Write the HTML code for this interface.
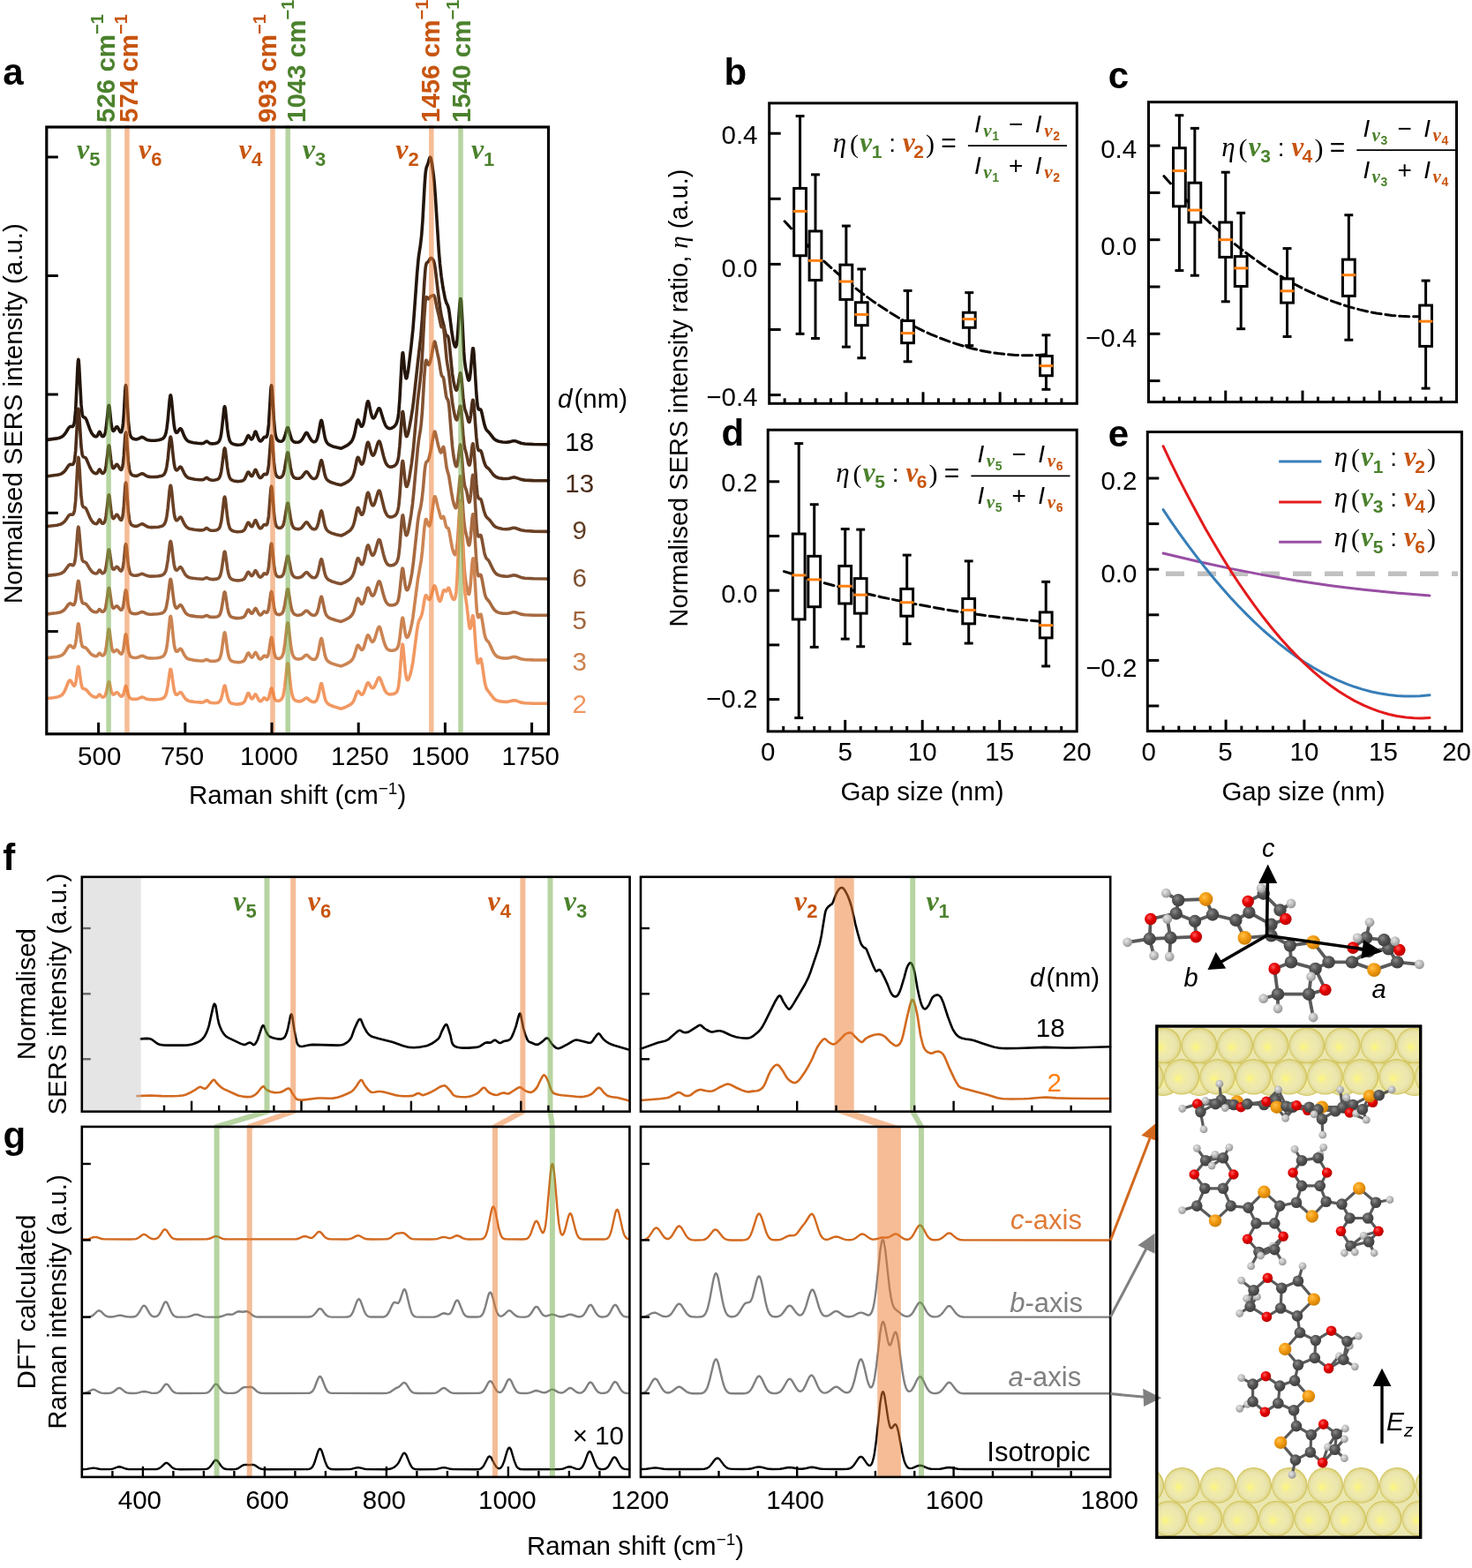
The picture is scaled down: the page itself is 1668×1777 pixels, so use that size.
<!DOCTYPE html>
<html><head><meta charset="utf-8"><title>Figure</title>
<style>html,body{margin:0;padding:0;background:#fff;} svg{display:block;}</style>
</head><body>
<svg width="1668" height="1777" viewBox="0 0 1668 1777">
<rect x="0" y="0" width="1668" height="1777" fill="#fff"/>
<path d="M53.5,498.4L64.5,496.9L67.2,496.2L69.6,495.3L71.5,494L73.1,492.3L74.7,490.1L77.4,485.5L78.6,484L79.8,483.4L82.1,483.5L82.9,482.9L83.3,482.2L84.1,479.4L84.5,477.1L85.7,464.4L88,415.3L88.4,409.5L88.8,407.2L89.2,408.8L89.6,413.8L92,458.4L93.1,469L93.5,470.7L94.3,472.4L96.7,473.7L97.9,475.6L101.8,486.4L103.7,490.6L105.7,493.3L106.9,494.2L108.1,494.8L109.2,494.8L110,494.3L110.8,493.1L112.4,489.6L112.8,489.3L113.2,489.6L113.6,490.3L115.1,493.7L115.9,494.5L116.7,494.6L117.5,494.2L118.7,492.2L119.5,489.5L120.2,485.1L122.6,462.8L123,460.3L123.4,459.4L123.8,460.2L124.2,462.5L125.7,477.4L126.5,483.2L126.9,485.2L127.7,487.7L128.1,488.2L128.5,488.4L128.9,488.2L129.7,487.3L131.6,484L132.4,483.6L132.8,483.7L133.6,484.7L135.6,488.5L136.3,489.5L137.1,489.8L137.5,489.6L137.9,488.9L138.7,486L139.5,480L140.3,470.1L141.8,442.9L142.2,438.3L142.6,436.7L143,438.5L143.4,443.2L145.4,477L146.6,488.4L147.3,492.3L148.5,495.1L149.3,496.1L150.5,497L152.8,497.8L154.4,497.9L156,497.6L159.9,495.6L161.1,495.4L162.3,495.8L165.4,497.8L167.8,498.8L170.9,499.2L175.6,499.2L179.6,498.7L182.3,498.1L184.3,497.2L185.8,495.9L186.6,494.6L187.4,492.8L188.2,489.9L189,485.5L190.2,475.8L192.1,454.2L192.9,448.6L193.3,447.8L193.7,448.5L194.5,454.1L196.1,471.2L197.2,481.6L198,486.2L198.8,488.9L199.6,490.2L200.4,490.3L201.2,489.7L203.1,486.8L203.9,485.9L204.7,485.8L205.1,486L206.3,488L208.6,493.8L210.2,496.9L211.8,498.9L213.7,500.3L216.1,501.1L219.2,501.7L223.9,502.3L228.3,502.6L229.4,502.5L230.6,502.2L233.4,500.4L234.2,500.1L234.9,500.4L237.7,502.4L238.9,502.7L240.4,502.9L242.8,502.7L244.8,502.4L246.3,501.8L247.5,500.9L248.3,499.9L249.1,498.3L249.9,495.7L250.7,491.7L251.8,482.6L253.8,463.6L254.2,461.4L254.6,460.7L255,461.5L255.4,463.7L257.7,486.3L258.9,494.3L260.1,498.9L260.9,500.5L262,502L263.2,502.8L264.8,503.4L268.7,504.2L272.6,504L275,503.4L276.2,502.7L277.4,501.3L278.5,499.1L280.5,494.5L281.3,493.6L281.7,493.7L282.1,494.1L283.6,496.7L284.4,497.7L285.2,497.9L285.6,497.6L286.8,495.6L288.8,490L289.1,489.3L289.5,489.1L289.9,489.3L290.3,490L292.3,495.8L293.5,498.5L294.6,499.8L295,499.9L295.8,499.8L297,498.7L298.6,496.2L299.4,495.4L299.8,495.3L301.3,495.5L302.1,494.9L302.9,492.8L303.3,491L304.5,480.9L306.8,442.7L307.2,438.4L307.6,436.8L308,438.4L308.4,442.7L310.4,475.9L311.5,488.9L312.3,493.7L313.5,497.3L314.7,498.9L315.5,499.5L316.6,500L318.2,500.2L319.4,500L320.6,499.1L321.4,498L322.9,494L325.3,485.5L325.7,484.8L326.1,484.5L326.5,484.8L327.2,486.8L329.2,494.2L330.4,497.6L331.6,499.6L333.1,500.8L334.7,501.3L337.1,501.3L339,500.9L340.6,500L342.6,497.8L346.1,491.3L346.9,490.5L347.3,490.4L347.7,490.5L348.5,491.3L351.6,497.2L353.2,499.3L354,500L355.1,500.6L356.3,500.7L357.1,500.5L357.9,499.9L358.7,498.8L359.8,495.9L361,490.9L363,479.6L363.8,476.7L364.2,476.3L364.6,476.8L365.3,479.9L368.1,495.5L369.3,499.4L370.5,501.6L371.6,503L372.8,503.9L374.8,504.9L377.1,505.9L381.5,507.1L385.8,508.1L386.6,508.2L387.7,507.7L391.7,505.7L395.2,503.4L397.6,501.2L399.1,498.9L400.3,496.3L401.1,493.9L402.3,489L404.2,479.5L405,476.8L405.4,476.1L405.8,475.9L406.6,477L408.2,481.1L409.3,483.1L409.7,483.3L410.1,483.2L410.9,482.3L411.7,480.3L412.5,477.2L415.6,458.5L416.4,455.5L416.8,454.9L417.2,454.9L418,456.8L420.3,467.9L421.1,470.8L421.9,472.8L422.7,473.8L423.5,473.9L424.7,472.6L428.2,464.2L429,463L429.4,462.7L429.8,462.7L430.6,463.6L431.3,465.4L434.5,476.1L435.7,479.4L436.8,482L438,483.7L439.6,485.1L440.4,485.4L441.6,485.6L442.7,485.5L443.9,485.1L446.3,483.7L448.2,481.6L449,480.3L449.8,478.4L451,473.4L451.8,467.5L452.9,452.8L455.3,408.3L456.1,400.2L456.5,399.7L456.9,401.5L458.8,422L459.6,427.3L460,428.5L460.4,428.8L460.8,428.4L461.2,427.2L462.8,418.2L465.9,392.6L467.9,373.5L469.4,354.4L472.6,310L473.8,296.6L474.5,290L476.5,277.1L477.7,266.6L478.9,250.8L481.2,208.8L482,198L482.4,194.3L483.2,189.8L485.2,184.6L486.7,179.3L487.1,178.5L487.5,178.2L487.9,178.6L488.3,179.6L489.5,185.4L491,196.4L492.2,207.3L493.4,222.8L497.3,285L498.5,299L500.1,313.2L502,326.2L504.4,338.6L505.6,342.6L507.5,346.5L508.3,349.4L509.1,354.1L511.9,375.9L513.4,385.3L514.6,390.2L515.4,392.4L515.8,393L516.2,393.2L516.6,392.8L517.4,390.2L518.1,384.5L518.9,375.3L520.9,345.1L521.7,338.5L522.1,338.5L522.5,341.1L523.3,352.5L525.6,398.7L526.4,408.6L527.6,417.4L530.3,429.4L531.1,431.1L531.5,431L531.9,430.2L532.3,428.5L533.1,422.6L535.4,396.6L535.8,394.7L536.2,394.7L536.6,396.7L537,400.5L539.8,445.5L540.9,458.1L541.3,460.6L542.1,463.4L542.5,464L542.9,464.1L544.1,463.9L544.5,464L545.3,465.3L546,468L548.8,480.8L550,484.6L550.8,486.4L551.5,487.5L554.7,490.8L559.4,496.9L560.6,498L562.1,499L565.3,500.2L569.6,501L573.9,501.2L576.7,500.9L581.4,499.8L583,499.7L584.9,500.1L590.4,502.2L594.7,503L604.6,503.5L621.5,503.8" fill="none" stroke="#24160c" stroke-width="3.6" stroke-linejoin="round" stroke-linecap="round" />
<path d="M53.5,539.7L64.5,538.3L67.2,537.7L69.6,536.9L71.5,535.6L73.1,534.2L74.7,532.1L77.4,528L78.6,526.7L79.8,526.2L82.1,526.5L82.9,526.1L83.3,525.5L84.1,523.3L84.5,521.4L85.7,510.9L88,470L88.4,465.3L88.8,463.3L89.2,464.6L89.6,468.8L92,506L93.1,514.8L93.5,516.2L94.3,517.6L96.7,518.6L97.9,520.2L101.8,529.4L103.7,533L104.9,534.5L106.1,535.6L107.3,536.3L108.5,536.7L109.6,536.5L110.4,535.8L112,532.8L112.4,532.2L112.8,531.9L113.2,532.2L113.6,532.8L115.1,535.7L115.9,536.3L116.7,536.4L117.5,536L118.7,534.3L119.5,531.8L120.2,527.8L122.6,508L123,505.7L123.4,504.8L123.8,505.6L124.2,507.7L125.7,520.9L126.5,526.1L126.9,527.9L127.7,530.1L128.1,530.6L128.5,530.7L128.9,530.5L129.7,529.7L131.6,526.7L132.4,526.3L132.8,526.4L133.6,527.3L135.6,530.9L136.3,532L137.1,532.4L137.5,532.3L137.9,531.8L138.7,529.6L139.5,524.8L140.3,516.9L141.8,495L142.2,491.3L142.6,490L143,491.4L143.4,495.3L145.4,522.5L146.6,531.8L147.3,534.9L148.5,537.2L149.3,538L150.5,538.7L152.8,539.3L154.4,539.4L156,539L159.9,537L161.1,536.8L162.3,537.1L165.4,539.1L167.8,540.1L170.9,540.5L176,540.5L179.6,540.1L182.3,539.6L184.3,538.8L185.8,537.6L186.6,536.5L187.4,534.8L188.2,532.3L189,528.5L190.2,519.9L192.1,500.8L192.9,495.8L193.3,495.1L193.7,495.8L194.5,500.7L196.1,515.9L197.2,525.1L198,529.2L198.4,530.6L199.2,532.3L200,532.9L200.8,532.8L201.6,532L203.5,529.6L204.3,529.1L204.7,529.1L205.1,529.4L205.9,530.4L208.6,536.1L209.8,538.2L211.8,540.5L213.3,541.5L214.9,542.1L220.8,543.3L226.3,543.8L229.4,543.8L231,543.3L233.4,541.6L234.2,541.4L234.9,541.7L236.9,543.2L238.1,543.8L239.7,544.1L241.6,544.2L243.6,544L245.5,543.6L246.7,543.1L247.9,542.2L248.7,541.1L249.5,539.3L250.7,534.6L251.8,526.7L253.8,510.4L254.2,508.5L254.6,507.9L255,508.6L255.4,510.4L257.7,530L258.9,537L260.1,540.9L260.9,542.3L262,543.6L263.2,544.3L264.8,544.9L268.7,545.6L272.6,545.3L275,544.7L276.2,544L277.4,542.6L278.5,540.4L280.1,536.6L280.9,535.2L281.3,535L281.7,535.1L282.1,535.4L284,538.8L284.8,539.5L285.2,539.6L285.6,539.5L286.4,538.6L288.8,533.1L289.1,532.6L289.5,532.4L289.9,532.6L290.3,533.1L292.3,538.2L293.5,540.4L294.6,541.5L295.8,541.4L296.6,540.8L298.6,538L299.4,537.3L300.1,537.3L301.3,537.8L302.1,537.5L302.9,536.1L303.3,534.8L304.5,527.3L306.8,498.3L307.2,495.1L307.6,493.9L308,495L308.4,498.3L310.4,523.4L311.5,533.2L312.3,536.8L313.1,538.8L314.3,540.3L315.9,541.1L317.4,541.2L319,540.6L320.2,539.2L321,537.6L321.7,535.1L322.5,531.6L325.3,514.7L325.7,513.4L326.1,512.9L326.5,513.4L327.2,516.8L329.2,529.6L330.4,535.4L331.2,537.9L332,539.6L332.7,540.7L333.5,541.4L335.1,542.1L336.7,542.3L338.6,542.3L340.2,541.8L342.2,540.4L346.1,535.2L346.9,534.6L347.3,534.6L348.5,535.3L351.6,539.8L353.2,541.5L354.4,542.2L355.5,542.5L356.7,542.4L357.5,542.1L358.7,540.9L359.8,538.4L361,534.1L363,524.5L363.8,522L364.2,521.7L364.6,522.1L365.3,524.7L368.1,538.2L369.3,541.6L370.5,543.5L372.4,545.2L375.6,546.8L380.7,548.4L386.6,549.7L391.3,547.5L394.8,545.4L397.2,543.4L399.1,540.8L400.3,538.2L401.1,535.8L402.3,531.1L404.2,521.6L405,519L405.4,518.3L405.8,518.2L406.6,519.3L408.2,523.6L409.3,525.8L410.1,526.2L410.9,525.5L411.7,523.8L412.5,521.1L415.6,504.6L416.4,501.9L416.8,501.3L417.2,501.3L418,502.9L419.9,510.6L421.1,514.3L421.9,515.7L422.7,516.1L423.5,515.7L424.7,513.5L427.8,503.1L428.6,501.1L429.4,500.1L429.8,500L430.2,500.4L431.3,503.3L434.5,516.5L435.7,520.7L436.8,523.9L438,526.2L438.8,527.2L440,528.3L441.9,529.1L444.3,529L447.1,527.8L448.6,526.5L449.8,524.7L451,521.1L451.8,516.7L452.9,505.7L455.3,472.3L455.7,468.6L456.1,466.6L456.5,466.6L456.9,468.3L459.2,489.7L459.6,491.9L460.4,494.4L460.8,494.6L461.2,494.3L462.4,491.1L463.9,484.1L465.5,475.7L467.5,463.4L469,451.5L473.4,411.2L476.9,380.5L478.5,360.4L480.8,320.4L482,304.9L482.4,301.8L483.2,298.5L483.6,297.8L485.2,296.8L487.5,293L488.3,292.5L489.5,293L490.7,294.2L491.4,295.7L492.2,298.4L493.4,305.6L496.5,332.3L498.9,350.3L500.1,357.7L500.9,361.3L502.8,368.2L504.4,376L505.2,378.9L506,380.4L507.1,380.8L507.5,381.1L508.3,383.5L509.1,388.9L511.5,413.5L512.6,423.7L513.8,431.4L515.4,438.7L516.6,441.8L517,442.2L517.4,442.2L517.8,441.7L518.1,440.8L518.9,437.5L520.9,425L521.3,423.3L521.7,422.7L522.1,423.2L522.9,428.2L524.8,450.4L526,460.2L526.8,464L528.8,469.6L530.7,477.1L531.1,478L531.5,478.5L531.9,478.3L532.3,477.4L532.7,475.8L533.5,470.7L535,457L535.4,454.6L535.8,453.3L536.2,453.5L537,458.5L539.8,495.5L540.9,505.7L541.3,507.8L542.1,510.1L542.5,510.5L542.9,510.7L544.1,510.5L544.5,510.6L545.3,511.7L546,513.9L548.4,523L550,527.3L551.1,529.1L553.5,531L554.7,532.2L558.2,537L559.8,538.8L562.1,540.5L565.3,541.7L569.6,542.4L573.9,542.5L576.7,542.2L581.4,541L583,540.9L584.9,541.4L590.4,543.4L594.7,544.1L604.6,544.6L621.5,544.8" fill="none" stroke="#4a2c18" stroke-width="3.6" stroke-linejoin="round" stroke-linecap="round" />
<path d="M53.5,596.5L64.5,595.2L67.2,594.6L69.6,593.7L71.5,592.5L73.1,591.1L74.7,589L77.4,584.9L78.6,583.6L79.8,583.1L82.1,583.3L82.9,582.8L83.3,582.2L84.1,579.9L84.5,578L85.7,567.2L88,525.1L88.4,520.2L88.8,518.3L89.2,519.6L89.6,523.9L92,562.3L93.1,571.4L93.5,572.8L94.3,574.3L96.7,575.5L97.9,577.1L101.8,586.3L103.7,589.9L105.7,592.2L106.9,593.1L108.1,593.5L109.2,593.6L110,593.1L110.8,592.1L112.4,589.1L112.8,588.9L113.2,589.1L113.6,589.7L115.1,592.6L115.9,593.2L116.7,593.3L117.5,592.9L118.7,591.1L119.5,588.6L120.2,584.5L122.6,564L123,561.7L123.4,560.8L123.8,561.6L124.2,563.7L125.7,577.4L126.5,582.8L126.9,584.7L127.7,586.9L128.1,587.4L128.5,587.6L128.9,587.4L129.7,586.6L131.6,583.6L132.4,583.2L132.8,583.4L133.6,584.3L135.6,587.9L136.3,589L137.1,589.4L137.5,589.3L137.9,588.8L138.7,586.6L139.5,581.8L140.3,573.9L141.8,552L142.2,548.3L142.6,547L143,548.4L143.4,552.3L145.4,579.6L146.6,588.8L147.3,591.9L148.5,594.2L149.3,595L150.5,595.7L152.8,596.4L154.4,596.4L156,596L159.9,594L161.1,593.8L162.3,594.1L166.2,596.5L168.2,597.2L171.3,597.6L176,597.5L179.6,597.2L182.3,596.6L184.3,595.8L185.8,594.5L186.6,593.4L187.4,591.6L188.2,589L189,585L190.2,576L192.1,556.1L192.9,550.9L193.3,550.2L193.7,550.9L194.5,556L196.1,571.9L197.2,581.6L198,585.8L198.4,587.3L199.2,589.1L200,589.8L200.8,589.7L201.6,589L203.5,586.6L204.3,586.1L204.7,586.2L205.1,586.4L205.9,587.4L208.6,593.2L209.8,595.3L211.8,597.6L213.3,598.6L214.9,599.2L220.4,600.3L226.3,600.9L229.4,600.9L231,600.4L233.4,598.8L234.2,598.5L234.9,598.8L236.9,600.4L238.1,600.9L239.7,601.3L241.6,601.3L243.6,601.1L245.5,600.7L246.7,600.2L247.9,599.2L248.7,598.1L249.5,596.2L250.7,591.2L251.8,582.9L253.8,565.7L254.2,563.7L254.6,563.1L255,563.8L255.4,565.7L257.7,586.4L258.9,593.7L260.1,597.8L260.9,599.3L262,600.6L263.2,601.4L264.8,602L268.7,602.7L272.6,602.5L275,601.9L276.2,601.2L277.4,599.8L278.5,597.6L280.1,593.8L280.9,592.4L281.3,592.2L281.7,592.3L282.1,592.6L284,596L284.8,596.7L285.2,596.8L285.6,596.7L286.4,595.8L288.8,590.4L289.1,589.8L289.5,589.6L289.9,589.8L290.3,590.4L292.3,595.4L293.5,597.6L294.6,598.7L295.8,598.6L296.6,598L298.6,595.2L299.4,594.5L300.1,594.5L301.3,595L302.1,594.8L302.9,593.4L303.3,592L304.5,584.5L306.8,555.5L307.2,552.3L307.6,551.1L308,552.3L308.4,555.5L310.4,580.6L311.5,590.4L312.3,594L313.1,596.1L314.3,597.6L315.9,598.3L317.4,598.4L319,597.8L320.2,596.5L321,594.9L321.7,592.4L322.5,588.9L325.3,572L325.7,570.6L326.1,570.2L326.5,570.7L327.2,574L329.2,586.9L330.4,592.6L331.2,595.2L332,596.9L332.7,598L333.5,598.6L335.1,599.3L336.7,599.6L338.6,599.6L340.2,599.1L342.2,597.7L346.1,592.5L346.9,591.9L347.3,591.8L348.5,592.6L351.6,597.1L353.2,598.7L354.4,599.4L355.5,599.8L356.7,599.7L357.5,599.4L358.7,598.2L359.8,595.7L361,591.4L363,581.7L363.8,579.2L364.2,578.9L364.6,579.3L365.3,582L368.1,595.5L369.3,598.8L370.5,600.7L372.4,602.5L375.6,604.1L380.7,605.7L386.6,607L391.3,604.8L394.8,602.6L397.2,600.6L399.1,598L400.3,595.4L401.1,593L402.3,588.3L404.2,578.8L405,576.2L405.4,575.5L405.8,575.4L406.6,576.5L408.2,580.8L409.3,583L410.1,583.3L410.9,582.7L411.7,581L412.5,578.2L415.6,561.8L416.4,559L416.8,558.4L417.2,558.4L418,560L419.9,567.7L421.1,571.3L421.9,572.6L422.7,573L423.5,572.5L424.7,570.1L428.2,558.2L429,556.5L429.4,556.2L429.8,556.1L430.2,556.5L430.9,558.2L435.3,576L436.4,579.6L438,582.9L438.8,584.1L440,585.2L440.8,585.6L441.9,585.9L443.1,586L444.3,585.8L447.1,584.6L448.6,583.3L449.8,581.4L451,577.7L451.8,573.3L452.9,562.1L455.3,528.2L455.7,524.5L456.1,522.6L456.5,522.6L456.9,524.4L459.2,546.4L459.6,548.7L460.4,551.2L460.8,551.5L461.2,551.3L462,549.4L463.2,544.7L464.3,538.5L466.3,526L468.3,509.8L473.4,453.6L476.1,431.1L477.3,419.5L478.5,403L480.8,358.5L482,341.8L482.4,338.8L482.8,337.1L483.2,336.5L483.6,336.7L484.8,338.4L485.2,338.8L485.5,338.9L486.3,338.2L487.5,336.4L488.3,335.6L491,334.6L491.8,334.9L492.2,335.6L493,338.1L495,348.2L497.3,357.6L499.7,369.3L500.1,370.3L500.5,370.8L500.9,370.8L501.7,370.2L502,370.2L502.4,371L502.8,372.7L503.6,379.3L506,406.2L506.8,411.8L508.7,423.2L512.6,456.1L513.8,463.4L515.4,471.1L516.6,475L517.4,476L517.8,475.8L518.1,475.2L518.9,472.6L520.9,461.6L521.3,460.4L521.7,460.1L522.1,461.2L522.9,467.2L524.8,492.4L526,503.8L526.8,508.4L528.8,515.8L530.7,525.1L531.5,527.1L531.9,527.2L532.3,526.5L532.7,525.1L533.5,520L535,506.3L535.4,503.9L535.8,502.8L536.2,503.1L537,508.6L539.8,548.4L540.9,559.5L541.3,561.7L542.1,564.4L542.9,565.2L544.1,565.3L544.5,565.5L545.3,566.8L546,569.2L548.4,579L550,583.7L551.1,585.7L554.7,589.2L559.4,595.3L560.6,596.4L562.1,597.4L565.3,598.6L569.6,599.5L573.9,599.7L576.7,599.4L581.4,598.3L583,598.2L584.9,598.7L590.4,600.7L594.7,601.5L604.6,602.1L621.5,602.4" fill="none" stroke="#6a4024" stroke-width="3.6" stroke-linejoin="round" stroke-linecap="round" />
<path d="M53.5,652.4L64.1,651.1L67.2,650.5L69.2,649.9L71.1,648.8L73.1,647.1L77.4,641.2L78.6,640.1L79.4,639.7L80.2,639.8L82.5,640.7L83.3,640.3L83.7,639.8L84.5,637.8L84.9,636L85.7,630.6L88,601.8L88.4,598.5L88.8,597.2L89.2,598.1L89.6,601.1L92,627.9L93.1,634.2L93.5,635.2L94.3,636.3L96.7,637.1L97.9,638.2L101.8,644.8L103.7,647.4L105.7,649.1L106.9,649.6L108.1,650L109.2,650L110,649.6L110.8,648.7L112.4,646.2L112.8,646L113.2,646.2L113.6,646.7L115.1,649.1L115.9,649.6L116.7,649.6L117.5,649.3L118.7,647.8L119.5,645.8L120.2,642.4L122.6,625.4L123,623.5L123.4,622.8L123.8,623.4L124.2,625.2L126.5,641.1L126.9,642.7L127.7,644.7L128.1,645.1L128.9,645.3L129.7,644.7L131.6,642.6L132.4,642.3L132.8,642.4L133.6,643.1L135.6,645.9L136.3,646.7L137.1,647.1L137.9,646.7L138.7,645.1L139.5,641.7L140.3,636L141.8,620.3L142.2,617.6L142.6,616.7L143,617.8L143.4,620.5L145,636.8L145.8,642.9L147,648.1L147.7,649.8L148.5,650.8L149.7,651.5L150.9,652L154,652.3L156.4,651.9L160.3,650.4L161.5,650.4L167,652.6L168.9,653L171.3,653.1L178.8,652.8L181.5,652.4L183.9,651.7L185.4,650.8L186.6,649.5L187.8,647.1L188.6,644.3L190.2,635L192.5,615.8L192.9,614.1L193.3,613.5L193.7,614.1L194.5,618.3L196.1,631.6L197.2,639.6L198,643.1L198.4,644.3L199.2,645.8L200,646.3L200.8,646.1L203.5,643.1L204.3,642.6L204.7,642.7L205.9,643.8L209.8,651L211.8,653.1L213.3,654L215.3,654.7L218.4,655.3L222.8,655.8L229.4,656.2L231,655.9L233.4,654.9L234.2,654.7L238.1,656.3L241.6,656.6L245.5,656.1L246.7,655.7L247.9,654.9L248.7,653.9L249.5,652.4L250.7,648.3L251.8,641.5L253.8,627.2L254.2,625.6L254.6,625.1L255,625.7L255.4,627.3L257.7,644.3L258.9,650.4L260.1,653.8L260.9,655L262,656.1L263.2,656.7L264.8,657.2L268.7,657.9L272.3,657.6L274.6,657.2L276.2,656.4L277.4,655.2L278.5,653.2L280.1,649.7L280.9,648.5L281.3,648.3L281.7,648.4L284.4,652.2L285.2,652.6L285.6,652.5L286.8,651.2L288.8,647.3L289.5,646.6L290.3,647.3L292.3,651.4L293.5,653.3L294.6,654.1L295.8,654L297,652.9L299,650.1L299.8,649.9L301.3,650.7L302.1,650.7L302.9,649.7L303.3,648.6L304.5,642.7L306.8,619.6L307.2,617L307.6,616L308,617L308.4,619.6L310.4,639.7L311.5,647.5L312.3,650.4L313.1,652L314.3,653.2L315.9,653.8L317.4,653.8L319,653.3L320.2,652.2L321,650.8L321.7,648.7L322.5,645.8L325.3,631.6L325.7,630.4L326.1,630.1L326.5,630.5L326.9,631.6L329.6,645.9L330.4,648.9L331.2,651L332,652.4L333.1,653.6L334.3,654.2L336.3,654.7L339,654.6L341.4,653.8L343,652.5L346.1,649.1L347.3,648.6L348.5,649.2L351.6,652.7L353.2,654L354.4,654.5L355.5,654.7L356.7,654.6L357.5,654.2L358.7,653L359.8,650.5L361,646.2L363,636.5L363.8,634L364.2,633.7L364.6,634.1L365.3,636.7L368.1,650.2L369.3,653.5L370.5,655.4L372.4,657.2L375.6,658.7L380.7,660.4L386.6,661.7L391.3,659.6L394.8,657.5L397.2,655.6L399.1,653.2L400.3,650.8L401.1,648.7L402.3,644.3L404.2,635.8L405,633.4L405.4,632.8L405.8,632.6L406.6,633.6L408.2,637.4L409.3,639.4L410.1,639.7L410.9,639.1L411.7,637.7L412.5,635.3L415.6,620.9L416.4,618.5L416.8,618L417.2,617.9L418,619.2L419.9,625.5L421.1,628.4L421.9,629.3L422.3,629.5L423.1,629.1L423.9,627.9L425.1,624.9L428.2,613.7L429,612L429.4,611.6L429.8,611.6L430.6,612.5L431.3,614.8L434.5,628.2L435.7,632.4L436.8,635.7L438,638L438.8,639.1L440,640.2L441.9,640.9L444.3,640.8L447.1,639.7L448.6,638.4L449.8,636.7L451,633.4L451.8,629.4L452.9,619.4L455.3,589.2L456.1,584L456.5,583.8L456.9,585.3L458.8,600.8L459.6,605L460,606.2L460.4,606.8L460.8,606.7L461.6,605.3L462.8,600.9L463.9,595L465.9,583L467.5,571L469,556L473.4,507.7L474.5,498.7L476.5,486.6L477.3,480.1L478.5,466.1L480.8,426.3L482,411.6L482.4,409.2L482.8,408.2L483.2,408.2L485.2,413.1L485.5,413.5L485.9,413.5L486.7,412.3L487.5,409.9L488.7,404.9L491.4,389.7L492.2,387.4L492.6,387.2L493,387.8L493.4,389.1L495.4,399.1L497.3,407.7L499.3,420.5L500.1,424.5L500.9,426.4L502,427.2L502.8,429.4L505.6,449.2L506.4,451.6L507.5,453L508.3,456L509.1,462.7L511.5,493.4L512.6,506L513.8,515.6L515.4,524.4L516.2,527.3L517,528.6L517.4,528.6L517.8,528L518.1,526.8L518.9,522.7L520.9,507L521.3,504.8L521.7,503.9L522.1,504.5L522.9,510.3L524.8,536.3L526,547.2L526.8,551.1L528.8,556.8L530.7,566.9L531.5,569.2L531.9,569.2L532.3,568.3L532.7,566.5L533.5,560.2L535,542.9L535.4,539.9L535.8,538.3L536.2,538.6L537,545L539.4,585.6L540.1,596.5L540.9,603.7L541.3,605.9L541.7,607.3L542.1,608L542.5,608.1L544.1,606.5L544.5,606.4L544.9,606.8L545.3,607.7L546,610.8L548.8,626.1L549.6,629.2L550.4,631.3L551.1,632.7L553.5,635.1L554.3,636.2L558.6,645.3L560.2,647.9L561.4,649.3L562.5,650.4L564.1,651.4L565.7,652L569.6,652.9L573.9,653.3L576.7,653L581.4,651.9L583,651.9L584.9,652.3L590.4,654.4L594.7,655.2L604.6,655.7L621.5,656" fill="none" stroke="#835232" stroke-width="3.6" stroke-linejoin="round" stroke-linecap="round" />
<path d="M53.5,695.9L63.7,694.8L68.8,693.7L70.7,692.7L72.7,691.2L74.3,689.5L77.4,685.1L78.6,684.1L79.4,683.9L80.2,684L82.1,685.3L82.9,685.6L83.7,685.4L84.1,685L84.9,683.3L85.7,680L88,661.3L88.4,659.2L88.8,658.3L89.2,659L89.6,660.9L92,678.5L93.1,682.5L93.5,683.2L94.3,683.8L96.3,684.1L97.5,684.7L98.6,685.9L102.2,690.4L104.1,692.2L106.1,693.3L108.1,693.8L109.2,693.8L110,693.5L110.8,692.8L112.4,690.7L112.8,690.5L113.6,691.1L115.1,692.9L115.9,693.3L116.7,693.2L117.5,692.9L118.7,691.3L119.5,689.3L120.2,685.9L122.6,668.9L123,667L123.4,666.3L123.8,666.9L124.2,668.7L126.5,684.7L127.3,687.6L127.7,688.4L128.5,689.2L129.3,689L131.6,687L132.4,686.8L133.6,687.6L135.6,690.1L136.7,691.2L137.5,691.3L138.3,690.8L139.1,689L139.9,685.7L141.8,671.6L142.2,669.6L142.6,668.9L143,669.7L143.4,671.8L145,684.1L145.8,688.7L147,692.6L147.7,693.8L148.5,694.6L150.9,695.5L154,695.6L156,695.3L159.9,693.7L161.1,693.5L162.3,693.7L165.4,695.2L167,695.7L168.9,696.1L171.7,696.2L179.2,695.8L181.9,695.3L183.9,694.7L185.4,693.8L186.6,692.5L187.8,690.1L188.6,687.3L190.2,678L192.5,658.8L192.9,657.1L193.3,656.5L193.7,657.1L194.5,661.3L196.1,674.5L197.2,682.5L198,686L198.4,687.2L199.2,688.7L200,689.2L200.8,689L203.5,686L204.3,685.6L204.7,685.6L205.9,686.7L209.8,693.9L211.8,696L213.3,696.9L215.3,697.6L221.6,698.6L226.7,699L229.4,699.1L231,698.8L233.4,697.7L234.2,697.5L234.9,697.7L236.9,698.8L238.1,699.2L241.6,699.4L245.5,699L246.7,698.6L247.9,697.9L248.7,697L249.5,695.6L250.7,691.9L251.8,685.7L253.8,672.8L254.2,671.3L254.6,670.8L255,671.4L255.4,672.8L257.7,688.3L258.9,693.8L259.7,696.1L260.5,697.5L261.6,698.8L262.8,699.4L265.2,700.1L268.7,700.6L272.6,700.3L275,699.8L276.2,699.1L277.4,697.9L278.5,695.9L280.1,692.4L280.9,691.2L281.3,691L281.7,691.1L284.4,694.9L285.2,695.3L285.6,695.2L286.8,693.9L288.8,690L289.5,689.4L290.3,690L293.1,695.5L293.9,696.5L294.6,696.9L295.4,696.9L296.2,696.5L297,695.7L298.6,693.6L299.4,693L300.1,693.2L301.7,694.3L302.5,694.2L303.3,693.2L303.7,692.3L304.5,689.2L306.8,673L307.2,671.2L307.6,670.5L308,671.2L308.4,673L310.7,689.2L311.9,693.6L312.7,695.1L313.9,696.1L315.5,696.6L317.4,696.4L318.6,695.9L319.8,694.8L320.6,693.5L321.4,691.4L322.9,684.3L325.3,669.5L325.7,668.2L326.1,667.7L326.5,668.2L327.2,671.5L329.2,684.4L330.4,690.1L331.2,692.7L332,694.3L332.7,695.4L333.9,696.3L335.5,696.9L337.1,697.2L339,697.1L340.6,696.8L341.8,696.3L343,695.4L346.1,692.5L347.3,692.1L348.5,692.6L351.6,695.7L353.6,696.9L355.5,697.3L356.7,697.2L357.5,696.8L358.7,695.6L359.8,693L361,688.7L363,679L363.8,676.5L364.2,676.2L364.6,676.6L365.3,679.3L368.1,692.7L369.3,696.1L370.5,698L372.4,699.8L375.6,701.3L380.7,703L386.6,704.4L391.3,702.4L394.8,700.5L397.2,698.7L399.1,696.5L400.3,694.4L401.1,692.4L404.2,680.9L405,678.8L405.4,678.3L405.8,678.1L406.6,679L408.6,683.1L409.3,684.2L410.1,684.5L410.9,684L411.7,682.8L412.5,680.8L415.6,668.7L416.4,666.6L416.8,666.2L417.2,666.1L418,667.1L419.9,672.2L421.1,674.5L421.9,675.2L422.3,675.2L423.1,674.8L423.9,673.7L425.1,670.9L428.2,660.8L429,659.2L429.4,658.9L429.8,658.8L430.6,659.7L431.3,661.8L434.5,674L435.7,677.9L436.8,680.9L438,683L438.8,684L440,685.1L441.9,685.9L444.3,686L446.7,685.5L447.8,685L449,684.3L450.2,682.8L451,681L451.8,678.1L452.9,670.6L455.3,647.7L455.7,645.3L456.1,644.2L456.5,644.5L456.9,646L459.2,663.4L459.6,665.4L460.4,668L460.8,668.6L461.2,668.8L461.6,668.6L462.4,667.6L463.5,664.6L464.7,660.3L466.7,650.1L468.3,638.6L473.4,591.2L474.5,584L476.9,573.5L478.1,565.9L479.3,555.1L481.2,533.6L482,527.4L482.8,524.1L483.2,523.4L484.8,522.3L485.2,521.7L486.3,518.5L488.3,509.6L491.4,491.8L492.2,489.3L492.6,489L493,489.4L493.8,492L495.4,499.7L496.5,504.4L498.5,511L499.3,512.7L499.7,513L500.1,512.7L500.5,512L502,506.8L502.4,506.4L502.8,506.9L503.6,510.9L506,529.7L506.8,533.1L507.9,536.6L508.7,539.8L511.5,557.6L513,566.1L514.6,572.2L515.8,575.1L516.2,575.6L516.6,575.7L517,575.4L517.8,573.1L518.1,571L518.9,564.8L520.9,543.8L521.3,541L521.7,539.7L522.1,540.2L522.9,546.9L524.8,578.9L526,593.6L527.2,601.5L528.8,607.7L530.3,615.2L531.1,617.7L531.5,618L531.9,617.5L532.7,613.8L533.5,606.5L535,587.8L535.8,582.7L536.2,582.8L536.6,584.9L537,589L539.8,635.7L540.9,648L541.3,650.3L542.1,652.6L542.5,652.8L542.9,652.6L544.1,651.3L544.5,651.3L544.9,651.7L545.3,652.6L546,655.7L549.2,672.6L550,675.4L551.1,678L554.3,681.7L558.2,688.4L560.2,691.1L562.5,693.1L564.1,693.9L565.7,694.4L570,695.2L573.9,695.3L576.7,695L581.4,693.8L583,693.7L584.9,694.1L590.4,696.1L594.7,696.8L604.6,697.2L621.5,697.3" fill="none" stroke="#a86a40" stroke-width="3.6" stroke-linejoin="round" stroke-linecap="round" />
<path d="M53.5,745.6L64.9,744.2L68,743.4L70,742.6L71.5,741.5L73.1,739.8L77.4,733L78.2,732.1L79,731.6L80.2,731.8L82.9,734.1L83.7,734.1L84.1,733.7L84.9,732.1L85.7,728.8L86.5,723.5L88,709.9L88.4,707.7L88.8,706.8L89.2,707.5L89.6,709.6L92,727.8L93.1,732L93.5,732.7L94.3,733.4L96.3,733.7L97.5,734.4L98.6,735.6L102.6,740.6L104.1,741.9L106.1,743L108.1,743.6L109.6,743.4L110.4,742.9L112.4,740.4L112.8,740.2L113.2,740.4L115.1,742.6L115.9,742.9L117.1,742.7L118.3,741.5L119.5,738.4L120.2,734.7L122.6,716L123,713.9L123.4,713.1L123.8,713.8L124.2,715.8L126.5,733.5L127.3,736.7L127.7,737.7L128.5,738.6L129.3,738.6L131.6,736.7L132.4,736.5L133.6,737.3L135.6,739.9L136.7,741L137.5,741.1L138.3,740.6L139.1,738.8L139.9,735.5L141.8,721.4L142.2,719.4L142.6,718.8L143,719.6L143.4,721.7L145,733.9L145.8,738.5L147,742.4L147.7,743.7L148.5,744.4L150.9,745.3L154,745.5L156,745.1L159.9,743.5L161.1,743.3L162.3,743.6L165.4,745L167,745.5L168.9,745.9L171.3,746L178,745.7L180.7,745.2L182.7,744.7L184.7,743.8L186.2,742.2L187.4,739.9L188.2,737.2L189,733.2L189.8,727.6L192.5,701.2L192.9,699.1L193.3,698.4L193.7,699.1L194.5,704.2L196.1,720.1L197.2,729.8L198,734.1L199.2,737.6L200,738.3L200.8,738.3L201.6,737.7L203.5,735.6L204.3,735.2L204.7,735.3L205.9,736.4L209,742.5L210.2,744.2L211.4,745.5L212.5,746.4L214.1,747.1L218.8,748.1L224.7,748.8L229,749L231,748.7L233.4,747.6L234.2,747.5L238.1,749.1L241.2,749.3L243.6,749.2L245.5,748.8L246.7,748.4L247.9,747.6L248.7,746.6L249.5,745L250.7,740.8L251.8,733.7L253.8,719.1L254.2,717.4L254.6,716.8L255,717.4L255.4,719.1L257.7,736.7L258.9,742.9L259.7,745.4L260.5,747.1L261.6,748.5L262.8,749.3L265.2,750L268.7,750.6L273,750.2L275.4,749.5L276.6,748.6L277.4,747.6L278.5,745.4L280.5,740.8L281.3,740L281.7,740.1L282.1,740.5L284,744L284.8,744.9L285.2,745L285.6,745L286.4,744.4L288.8,740L289.5,739.4L290.3,740L293.1,745.6L293.9,746.5L294.6,747L295.4,747L296.2,746.6L297,745.8L298.6,743.7L299.4,743.1L300.1,743.3L301.7,744.5L302.5,744.5L303.3,743.6L303.7,742.7L304.5,739.9L306.8,724.8L307.2,723.1L307.6,722.5L308,723.1L308.4,724.8L310.7,739.8L311.9,743.8L312.7,745.2L313.9,746.1L315.5,746.4L317.4,745.9L318.6,745.2L319.8,743.6L320.6,741.8L321.4,738.9L322.9,729L325.3,708.4L325.7,706.6L326.1,705.9L326.5,706.6L326.9,708.4L329.6,732.1L330.4,737L331.2,740.5L332,742.9L333.1,744.9L334.3,746L336.3,746.8L338.6,747.1L341,746.6L343,745.5L346.1,742.6L347.3,742.2L348.5,742.7L351.6,745.8L353.6,747L355.5,747.4L356.7,747.2L357.5,746.7L358.7,745.3L359.8,742.5L361,737.6L363,726.7L363.8,723.9L364.2,723.5L364.6,724L365.3,727L368.1,742.1L369.3,745.9L370.5,748L371.6,749.3L372.8,750.2L374.8,751.3L377.5,752.4L381.8,753.8L386.6,754.9L388.1,754.3L392.1,752.6L395.2,750.9L397.6,749.2L399.1,747.6L400.3,745.6L401.1,743.9L404.2,733.7L405,731.8L405.4,731.3L405.8,731.2L406.6,731.9L408.2,734.8L409.3,736.3L410.1,736.5L410.9,736.1L411.7,734.9L412.5,733.1L415.6,722.1L416.4,720.2L416.8,719.7L417.2,719.7L418,720.5L419.9,725L421.1,726.9L421.9,727.4L422.3,727.3L423.1,726.8L423.9,725.5L425.1,722.6L428.2,712.3L429,710.8L429.4,710.4L429.8,710.3L430.6,711.2L431.3,713.2L434.5,725.3L435.7,729.2L436.8,732.1L438,734.3L438.8,735.3L440,736.3L441.9,737.1L444.3,737.2L446.7,736.9L447.8,736.5L449,735.8L450.2,734.5L451,732.9L451.8,730.3L452.9,723.6L455.3,703.3L455.7,701.2L456.1,700.2L456.5,700.4L456.9,701.8L459.2,717.5L459.6,719.3L460.4,721.6L460.8,722.2L461.2,722.4L461.6,722.3L462.4,721.4L463.5,718.9L465.1,713.7L466.7,706.6L467.9,699.7L473.4,657.3L477.3,635L478.5,625L480.8,598.9L482,590L482.4,588.7L482.8,588.4L483.2,588.7L485.5,595.5L485.9,596L486.3,596.1L486.7,595.8L487.1,595.1L487.9,592.2L488.7,587.8L491.4,567.2L492.2,563.6L492.6,562.8L493,562.7L493.8,564.4L496.2,574.6L499.3,586L500.1,587.3L500.5,587.3L502,585.4L502.4,585.3L502.8,585.7L503.6,588.2L504.8,593.9L505.6,596.7L506.4,598.1L507.5,598.4L507.9,598.7L508.3,599.4L509.1,602.3L511.5,616.1L512.6,621.7L514.2,626.7L515,628.2L515.4,628.6L515.8,628.7L516.2,628.4L516.6,627.6L517,626.2L518.1,617.3L518.9,607L520.9,574.1L521.7,567.1L522.1,567.3L522.9,575.8L525.2,628.5L526.4,647.5L527.6,658.1L529.9,670.3L530.7,673L531.1,673.5L531.5,673.3L531.9,672.2L532.3,670.3L533.1,663.6L535,638.6L535.8,632.9L536.2,632.8L536.6,634.8L537.4,644.2L539.8,684.8L540.5,693.5L541.3,698.3L541.7,699.4L542.1,699.7L542.5,699.4L542.9,698.8L544.1,696.4L544.5,696.1L544.9,696.3L545.3,697.2L546,700.5L548.8,717.6L550,722.4L551.1,725L553.5,727.5L554.7,729.4L558.2,737.3L560.2,740.9L561.7,742.7L563.7,744.2L566.5,745.2L570,745.9L572.7,746L575.1,745.9L577.5,745.5L581.4,744.5L583,744.4L584.9,744.8L590.4,746.8L594.7,747.5L604.2,747.9L621.5,748" fill="none" stroke="#cc8452" stroke-width="3.6" stroke-linejoin="round" stroke-linecap="round" />
<path d="M53.5,791.5L60.1,790.8L64.9,789.9L68,788.9L70,787.7L71.5,786L72.7,784.2L74.3,780.9L77.4,773L78.2,771.6L79,771L79.4,771L80.2,771.5L83.3,776.9L84.1,777.3L84.5,777.1L85.3,775.5L86.1,772.1L88,758L88.4,756.1L88.8,755.5L89.2,756.2L89.6,758.2L92,775.1L93.1,779.1L93.5,779.8L94.3,780.5L96.7,781.1L97.9,781.9L101.8,786.5L103.7,788.3L105.7,789.5L107.7,790.1L108.9,790.2L110,789.8L110.8,789.1L112.4,787.1L112.8,787L113.6,787.6L115.1,789.5L115.9,790L116.7,790.1L117.5,789.9L118.7,789L119.5,787.6L120.2,785.4L122.6,774.4L123,773.1L123.4,772.6L123.8,773.1L124.2,774.2L125.7,781.7L126.5,784.6L127.3,786.3L128.1,787.1L128.5,787.1L129.3,786.8L131.2,785.1L132.4,784.7L133.6,785.4L135.6,787.8L136.7,788.9L137.5,789.2L138.3,789.1L139.1,788.3L139.9,786.6L141.8,778.9L142.2,777.8L142.6,777.5L143,777.9L143.4,779.1L145,786L146.2,789.5L147.3,791.1L148.9,792L151.3,792.4L154.4,792.3L156.4,791.9L159.9,790.3L161.1,790.1L162.3,790.4L166.6,792.3L169.7,792.8L173.7,792.9L178,792.7L181.5,792.3L183.9,791.7L185.4,790.9L186.6,789.8L187.8,787.7L188.6,785.3L190.2,777.1L192.5,760.4L192.9,758.9L193.3,758.4L193.7,758.9L194.5,762.6L196.1,774.2L197.2,781.3L198,784.4L198.8,786.3L199.6,787.2L200.4,787.3L201.2,787L203.9,784.7L204.7,784.6L205.1,784.8L206.3,786.1L208.6,789.9L210.2,792L212.2,793.5L214.1,794.4L216.5,794.9L220.4,795.5L228.7,796.1L230.6,795.7L233.4,793.9L234.2,793.7L234.9,794L237.3,795.8L239.3,796.5L244,796.7L245.9,796.5L247.5,796L249.1,794.8L249.9,793.6L250.7,791.7L251.8,787.4L253.8,778.4L254.2,777.4L254.6,777L255,777.4L255.4,778.4L257.7,789.3L258.9,793.2L259.7,794.8L260.5,795.8L261.6,796.7L263.2,797.3L265.6,797.8L268.7,798.1L273,797.6L275.4,796.7L276.6,795.7L277.4,794.5L278.5,791.9L280.5,786.4L280.9,785.8L281.3,785.5L281.7,785.6L282.1,786.1L284,790.5L284.8,791.6L285.2,791.9L285.6,792L286.4,791.5L288.8,787.4L289.1,786.9L289.5,786.8L290.3,787.5L293.1,793.1L293.9,794.1L294.6,794.6L295.4,794.6L296.2,794.3L297,793.5L298.6,791.4L299.4,790.9L300.1,791.2L301.7,792.8L302.5,793.1L302.9,793L303.7,792.3L304.5,790.6L306.8,781.4L307.2,780.4L307.6,780L308,780.3L308.4,781.4L310.4,789.3L311.5,792.4L312.3,793.5L313.1,794L314.3,794.3L315.5,794.3L317.4,793.7L319,792.4L320.2,790.3L321,787.9L321.7,784.2L322.5,779L325.3,754.3L325.7,752.3L326.1,751.7L326.5,752.3L326.9,754.3L329.6,779L330.4,784.2L331.2,787.9L332,790.4L333.1,792.5L334.3,793.6L336.3,794.5L338.6,794.9L341,794.6L343,793.7L346.1,791.4L347.3,791L348.5,791.5L351.6,794.1L353.6,795.2L355.5,795.6L356.7,795.4L357.5,795L358.7,793.8L359.8,791.3L361,787L363,777.3L363.8,774.8L364.2,774.5L364.6,774.9L365.3,777.6L368.1,791.1L369.3,794.5L370.5,796.4L372.4,798.2L375.6,799.8L380.7,801.6L386.6,803.2L390.5,801.8L394,800.2L396.8,798.7L398.7,797.1L399.9,795.7L401.1,793.6L404.2,785.4L405,783.9L405.4,783.5L405.8,783.3L406.6,783.8L408.2,786L409.3,787.1L410.1,787.2L410.9,786.8L411.7,785.9L412.5,784.4L415.6,775.6L416.4,774.1L416.8,773.8L417.2,773.7L418,774.3L419.9,777.8L421.1,779.3L421.9,779.7L422.3,779.8L423.1,779.4L423.9,778.6L425.1,776.5L428.2,769.3L429,768.2L429.4,767.9L430.2,768.1L430.9,769.2L435.3,780.6L436.4,782.9L438,785.1L440,786.5L441.9,786.9L444.3,786.8L447.4,785.9L449,784.7L450.2,782.9L451,780.5L451.8,776.6L452.9,766.2L455.3,734.7L455.7,731.5L456.1,730.2L456.5,730.8L456.9,733.3L459.2,760.2L460.4,768L461.2,770.2L461.6,770.6L462,770.6L462.4,770.4L463.5,768.4L464.7,765.1L466.3,758.9L467.9,750.3L469.4,739.1L472.2,716.7L473.4,709.1L474.5,704.2L475.3,702.3L476.9,699.5L478.1,696L479.3,690.3L481.2,678.5L482,675.5L482.4,674.8L482.8,674.7L483.2,674.9L485.5,679.1L486.3,679.5L487.1,679L487.9,677.5L488.7,675.2L491.4,665.2L492.2,663.9L492.6,663.9L493,664.3L493.8,666.3L496.9,679L497.7,680.7L498.1,681.2L498.5,681.3L498.9,681.1L499.7,679.7L502,670.8L502.8,669L503.2,668.7L503.6,668.8L504.8,669.9L505.6,670L506.4,669.1L507.5,666.9L507.9,666.4L508.3,666.2L508.7,666.5L509.1,667.3L511.5,675L512.3,677L513,678.4L513.8,679.2L514.6,679.4L515.4,678.5L515.8,677.5L516.6,673.6L517,670.4L518.1,654.2L520.9,584L521.7,571.5L522.1,570.5L522.5,573.4L522.9,579.8L524.8,635.3L526,661.2L526.8,671.2L529.1,687.2L531.5,708.6L532.3,712.1L532.7,712.4L533.1,711.8L533.9,708.3L535.4,698.5L535.8,697.7L536.2,698.3L537,704L539.4,737.1L540.5,748.1L540.9,750L541.3,751.2L541.7,751.6L542.1,751.4L542.5,750.8L544.1,746.9L544.5,746.6L544.9,746.8L545.3,747.7L546.4,753.8L549.2,772.5L550,776.2L551.1,779.9L552.3,782L559.4,791.3L560.6,792.4L562.1,793.4L565.3,794.6L569.6,795.3L573.5,795.4L576.3,795.1L581,793.9L583,793.7L584.9,794.1L590.4,796.1L594.7,796.8L604.2,797.2L621.5,797.3" fill="none" stroke="#f29862" stroke-width="3.6" stroke-linejoin="round" stroke-linecap="round" />
<line x1="123.1" y1="142" x2="123.1" y2="830" stroke="rgb(110,170,68)" stroke-width="5.5" stroke-opacity="0.5"/>
<line x1="143.95" y1="142" x2="143.95" y2="830" stroke="rgb(236,121,45)" stroke-width="5.5" stroke-opacity="0.5"/>
<line x1="309" y1="142" x2="309" y2="830" stroke="rgb(236,121,45)" stroke-width="5.5" stroke-opacity="0.5"/>
<line x1="326.2" y1="142" x2="326.2" y2="830" stroke="rgb(110,170,68)" stroke-width="5.5" stroke-opacity="0.5"/>
<line x1="488.8" y1="142" x2="488.8" y2="830" stroke="rgb(236,121,45)" stroke-width="5.5" stroke-opacity="0.5"/>
<line x1="522" y1="142" x2="522" y2="830" stroke="rgb(110,170,68)" stroke-width="5.5" stroke-opacity="0.5"/>
<rect x="52.8" y="144" width="568.7" height="687.8" stroke="#000" stroke-width="3.2" fill="none" />
<line x1="111.6" y1="831.8" x2="111.6" y2="818.8" stroke="#000" stroke-width="3" />
<text x="112.7" y="867" font-size="29.5" text-anchor="middle" fill="#000" font-weight="normal" font-style="normal" font-family='"Liberation Sans", Arial, Helvetica, sans-serif' >500</text>
<line x1="209.8" y1="831.8" x2="209.8" y2="818.8" stroke="#000" stroke-width="3" />
<text x="206.5" y="867" font-size="29.5" text-anchor="middle" fill="#000" font-weight="normal" font-style="normal" font-family='"Liberation Sans", Arial, Helvetica, sans-serif' >750</text>
<line x1="308" y1="831.8" x2="308" y2="818.8" stroke="#000" stroke-width="3" />
<text x="304.8" y="867" font-size="29.5" text-anchor="middle" fill="#000" font-weight="normal" font-style="normal" font-family='"Liberation Sans", Arial, Helvetica, sans-serif' >1000</text>
<line x1="406.2" y1="831.8" x2="406.2" y2="818.8" stroke="#000" stroke-width="3" />
<text x="407.8" y="867" font-size="29.5" text-anchor="middle" fill="#000" font-weight="normal" font-style="normal" font-family='"Liberation Sans", Arial, Helvetica, sans-serif' >1250</text>
<line x1="504.4" y1="831.8" x2="504.4" y2="818.8" stroke="#000" stroke-width="3" />
<text x="498.9" y="867" font-size="29.5" text-anchor="middle" fill="#000" font-weight="normal" font-style="normal" font-family='"Liberation Sans", Arial, Helvetica, sans-serif' >1500</text>
<line x1="602.6" y1="831.8" x2="602.6" y2="818.8" stroke="#000" stroke-width="3" />
<text x="601.2" y="867" font-size="29.5" text-anchor="middle" fill="#000" font-weight="normal" font-style="normal" font-family='"Liberation Sans", Arial, Helvetica, sans-serif' >1750</text>
<line x1="52.8" y1="178" x2="65.8" y2="178" stroke="#000" stroke-width="3" />
<line x1="52.8" y1="312.5" x2="65.8" y2="312.5" stroke="#000" stroke-width="3" />
<line x1="52.8" y1="447" x2="65.8" y2="447" stroke="#000" stroke-width="3" />
<line x1="52.8" y1="581.3" x2="65.8" y2="581.3" stroke="#000" stroke-width="3" />
<line x1="52.8" y1="715.6" x2="65.8" y2="715.6" stroke="#000" stroke-width="3" />
<text x="337.15" y="911" font-size="29.5" text-anchor="middle" fill="#000" font-weight="normal" font-style="normal" font-family='"Liberation Sans", Arial, Helvetica, sans-serif' >Raman shift (cm<tspan dy="-11" font-size="19">−1</tspan><tspan dy="11">)</tspan></text>
<text x="0" y="0" font-size="29.5" text-anchor="middle" fill="#000" font-weight="normal" font-style="normal" font-family='"Liberation Sans", Arial, Helvetica, sans-serif' transform="translate(24.5,468.7) rotate(-90)">Normalised SERS intensity (a.u.)</text>
<text x="0" y="0" font-size="29.5" text-anchor="start" fill="#4b822d" font-weight="bold" font-style="normal" font-family='"Liberation Sans", Arial, Helvetica, sans-serif' transform="translate(129.7,139) rotate(-90)">526 cm<tspan dy="-12.5" font-size="20">−1</tspan></text>
<text x="0" y="0" font-size="29.5" text-anchor="start" fill="#c8550f" font-weight="bold" font-style="normal" font-family='"Liberation Sans", Arial, Helvetica, sans-serif' transform="translate(156.3,139) rotate(-90)">574 cm<tspan dy="-12.5" font-size="20">−1</tspan></text>
<text x="0" y="0" font-size="29.5" text-anchor="start" fill="#c8550f" font-weight="bold" font-style="normal" font-family='"Liberation Sans", Arial, Helvetica, sans-serif' transform="translate(313.1,139) rotate(-90)">993 cm<tspan dy="-12.5" font-size="20">−1</tspan></text>
<text x="0" y="0" font-size="29.5" text-anchor="start" fill="#4b822d" font-weight="bold" font-style="normal" font-family='"Liberation Sans", Arial, Helvetica, sans-serif' transform="translate(345.5,139) rotate(-90)">1043 cm<tspan dy="-12.5" font-size="20">−1</tspan></text>
<text x="0" y="0" font-size="29.5" text-anchor="start" fill="#c8550f" font-weight="bold" font-style="normal" font-family='"Liberation Sans", Arial, Helvetica, sans-serif' transform="translate(497.8,139) rotate(-90)">1456 cm<tspan dy="-12.5" font-size="20">−1</tspan></text>
<text x="0" y="0" font-size="29.5" text-anchor="start" fill="#4b822d" font-weight="bold" font-style="normal" font-family='"Liberation Sans", Arial, Helvetica, sans-serif' transform="translate(532.6,139) rotate(-90)">1540 cm<tspan dy="-12.5" font-size="20">−1</tspan></text>
<text x="87" y="180" fill="#4b822d" font-family='"Liberation Serif", "Times New Roman", serif' font-style="italic" font-weight="bold" font-size="32">ν<tspan font-family='"Liberation Sans", Arial, Helvetica, sans-serif' font-style="normal" font-size="22" dy="7.5">5</tspan></text>
<text x="157.1" y="180" fill="#c8550f" font-family='"Liberation Serif", "Times New Roman", serif' font-style="italic" font-weight="bold" font-size="32">ν<tspan font-family='"Liberation Sans", Arial, Helvetica, sans-serif' font-style="normal" font-size="22" dy="7.5">6</tspan></text>
<text x="270.7" y="180" fill="#c8550f" font-family='"Liberation Serif", "Times New Roman", serif' font-style="italic" font-weight="bold" font-size="32">ν<tspan font-family='"Liberation Sans", Arial, Helvetica, sans-serif' font-style="normal" font-size="22" dy="7.5">4</tspan></text>
<text x="342.8" y="180" fill="#4b822d" font-family='"Liberation Serif", "Times New Roman", serif' font-style="italic" font-weight="bold" font-size="32">ν<tspan font-family='"Liberation Sans", Arial, Helvetica, sans-serif' font-style="normal" font-size="22" dy="7.5">3</tspan></text>
<text x="448.2" y="180" fill="#c8550f" font-family='"Liberation Serif", "Times New Roman", serif' font-style="italic" font-weight="bold" font-size="32">ν<tspan font-family='"Liberation Sans", Arial, Helvetica, sans-serif' font-style="normal" font-size="22" dy="7.5">2</tspan></text>
<text x="533.9" y="180" fill="#4b822d" font-family='"Liberation Serif", "Times New Roman", serif' font-style="italic" font-weight="bold" font-size="32">ν<tspan font-family='"Liberation Sans", Arial, Helvetica, sans-serif' font-style="normal" font-size="22" dy="7.5">1</tspan></text>
<text x="632" y="462" font-size="29.5" font-family='"Liberation Sans", Arial, Helvetica, sans-serif'><tspan font-style="italic">d</tspan><tspan dx="2">(nm)</tspan></text>
<text x="656.7" y="510.5" font-size="29.5" text-anchor="middle" fill="#000" font-weight="normal" font-style="normal" font-family='"Liberation Sans", Arial, Helvetica, sans-serif' >18</text>
<text x="656.7" y="557.8" font-size="29.5" text-anchor="middle" fill="#4a2c18" font-weight="normal" font-style="normal" font-family='"Liberation Sans", Arial, Helvetica, sans-serif' >13</text>
<text x="656.7" y="610.9" font-size="29.5" text-anchor="middle" fill="#5f3c22" font-weight="normal" font-style="normal" font-family='"Liberation Sans", Arial, Helvetica, sans-serif' >9</text>
<text x="656.7" y="664.7" font-size="29.5" text-anchor="middle" fill="#7d5032" font-weight="normal" font-style="normal" font-family='"Liberation Sans", Arial, Helvetica, sans-serif' >6</text>
<text x="656.7" y="712.7" font-size="29.5" text-anchor="middle" fill="#a0643c" font-weight="normal" font-style="normal" font-family='"Liberation Sans", Arial, Helvetica, sans-serif' >5</text>
<text x="656.7" y="759.9" font-size="29.5" text-anchor="middle" fill="#cd8250" font-weight="normal" font-style="normal" font-family='"Liberation Sans", Arial, Helvetica, sans-serif' >3</text>
<text x="656.7" y="807.7" font-size="29.5" text-anchor="middle" fill="#f09660" font-weight="normal" font-style="normal" font-family='"Liberation Sans", Arial, Helvetica, sans-serif' >2</text>
<text x="3.3" y="95.7" font-size="42" text-anchor="start" fill="#000" font-weight="bold" font-style="normal" font-family='"Liberation Sans", Arial, Helvetica, sans-serif' >a</text>
<path d="M889.1,250.8L906.6,269.5L917,280.1L925.7,288.6L943.2,304.7L953.6,313.8L962.3,321L971.1,327.9L981.5,335.8L990.2,342.1L1000.7,349.1L1009.4,354.7L1018.1,360L1028.6,365.9L1037.3,370.5L1046,374.8L1054.7,378.8L1065.2,383.1L1073.9,386.4L1082.6,389.4L1093.1,392.6L1101.8,395L1112.2,397.4L1122.7,399.3L1131.4,400.6L1140.1,401.6L1148.8,402.3L1159.3,402.7L1168,402.7L1176.7,402.4L1185.4,401.8" fill="none" stroke="#000" stroke-width="3" stroke-linejoin="round" stroke-linecap="round" stroke-dasharray="11.1,4.8" stroke-linecap="butt"/>
<line x1="906.56" y1="131.56" x2="906.56" y2="213.44" stroke="#000" stroke-width="3" />
<line x1="906.56" y1="289.77" x2="906.56" y2="378.32" stroke="#000" stroke-width="3" />
<line x1="901.61" y1="131.56" x2="911.51" y2="131.56" stroke="#000" stroke-width="3" />
<line x1="901.61" y1="378.32" x2="911.51" y2="378.32" stroke="#000" stroke-width="3" />
<rect x="899.66" y="213.44" width="13.8" height="76.32" stroke="#000" stroke-width="3" fill="#fff" />
<line x1="898.66" y1="239.38" x2="914.46" y2="239.38" stroke="#ff7f0e" stroke-width="3" />
<line x1="923.99" y1="197.88" x2="923.99" y2="261.98" stroke="#000" stroke-width="3" />
<line x1="923.99" y1="317.55" x2="923.99" y2="383.5" stroke="#000" stroke-width="3" />
<line x1="919.04" y1="197.88" x2="928.94" y2="197.88" stroke="#000" stroke-width="3" />
<line x1="919.04" y1="383.5" x2="928.94" y2="383.5" stroke="#000" stroke-width="3" />
<rect x="917.09" y="261.98" width="13.8" height="55.57" stroke="#000" stroke-width="3" fill="#fff" />
<line x1="916.09" y1="295.32" x2="931.89" y2="295.32" stroke="#ff7f0e" stroke-width="3" />
<line x1="958.85" y1="256.05" x2="958.85" y2="300.14" stroke="#000" stroke-width="3" />
<line x1="958.85" y1="339.41" x2="958.85" y2="393.14" stroke="#000" stroke-width="3" />
<line x1="953.9" y1="256.05" x2="963.8" y2="256.05" stroke="#000" stroke-width="3" />
<line x1="953.9" y1="393.14" x2="963.8" y2="393.14" stroke="#000" stroke-width="3" />
<rect x="951.95" y="300.14" width="13.8" height="39.27" stroke="#000" stroke-width="3" fill="#fff" />
<line x1="950.95" y1="319.04" x2="966.75" y2="319.04" stroke="#ff7f0e" stroke-width="3" />
<line x1="976.28" y1="304.96" x2="976.28" y2="342.75" stroke="#000" stroke-width="3" />
<line x1="976.28" y1="368.68" x2="976.28" y2="405.73" stroke="#000" stroke-width="3" />
<line x1="971.33" y1="304.96" x2="981.23" y2="304.96" stroke="#000" stroke-width="3" />
<line x1="971.33" y1="405.73" x2="981.23" y2="405.73" stroke="#000" stroke-width="3" />
<rect x="969.38" y="342.75" width="13.8" height="25.94" stroke="#000" stroke-width="3" fill="#fff" />
<line x1="968.38" y1="356.46" x2="984.18" y2="356.46" stroke="#ff7f0e" stroke-width="3" />
<line x1="1028.57" y1="329.41" x2="1028.57" y2="363.5" stroke="#000" stroke-width="3" />
<line x1="1028.57" y1="388.69" x2="1028.57" y2="409.81" stroke="#000" stroke-width="3" />
<line x1="1023.62" y1="329.41" x2="1033.52" y2="329.41" stroke="#000" stroke-width="3" />
<line x1="1023.62" y1="409.81" x2="1033.52" y2="409.81" stroke="#000" stroke-width="3" />
<rect x="1021.67" y="363.5" width="13.8" height="25.19" stroke="#000" stroke-width="3" fill="#fff" />
<line x1="1020.67" y1="377.58" x2="1036.47" y2="377.58" stroke="#ff7f0e" stroke-width="3" />
<line x1="1098.29" y1="331.63" x2="1098.29" y2="354.23" stroke="#000" stroke-width="3" />
<line x1="1098.29" y1="371.28" x2="1098.29" y2="391.65" stroke="#000" stroke-width="3" />
<line x1="1093.34" y1="331.63" x2="1103.24" y2="331.63" stroke="#000" stroke-width="3" />
<line x1="1093.34" y1="391.65" x2="1103.24" y2="391.65" stroke="#000" stroke-width="3" />
<rect x="1091.39" y="354.23" width="13.8" height="17.04" stroke="#000" stroke-width="3" fill="#fff" />
<line x1="1090.39" y1="361.64" x2="1106.19" y2="361.64" stroke="#ff7f0e" stroke-width="3" />
<line x1="1185.44" y1="379.8" x2="1185.44" y2="403.51" stroke="#000" stroke-width="3" />
<line x1="1185.44" y1="425.74" x2="1185.44" y2="441.3" stroke="#000" stroke-width="3" />
<line x1="1180.49" y1="379.8" x2="1190.39" y2="379.8" stroke="#000" stroke-width="3" />
<line x1="1180.49" y1="441.3" x2="1190.39" y2="441.3" stroke="#000" stroke-width="3" />
<rect x="1178.54" y="403.51" width="13.8" height="22.23" stroke="#000" stroke-width="3" fill="#fff" />
<line x1="1177.54" y1="414.63" x2="1193.34" y2="414.63" stroke="#ff7f0e" stroke-width="3" />
<rect x="871.7" y="116.9" width="348.6" height="340.4" stroke="#000" stroke-width="3" fill="none" />
<line x1="889.13" y1="457.3" x2="889.13" y2="451.3" stroke="#000" stroke-width="3" />
<line x1="906.56" y1="457.3" x2="906.56" y2="451.3" stroke="#000" stroke-width="3" />
<line x1="923.99" y1="457.3" x2="923.99" y2="451.3" stroke="#000" stroke-width="3" />
<line x1="941.42" y1="457.3" x2="941.42" y2="451.3" stroke="#000" stroke-width="3" />
<line x1="958.85" y1="457.3" x2="958.85" y2="444.3" stroke="#000" stroke-width="3" />
<line x1="976.28" y1="457.3" x2="976.28" y2="451.3" stroke="#000" stroke-width="3" />
<line x1="993.71" y1="457.3" x2="993.71" y2="451.3" stroke="#000" stroke-width="3" />
<line x1="1011.14" y1="457.3" x2="1011.14" y2="451.3" stroke="#000" stroke-width="3" />
<line x1="1028.57" y1="457.3" x2="1028.57" y2="451.3" stroke="#000" stroke-width="3" />
<line x1="1046" y1="457.3" x2="1046" y2="444.3" stroke="#000" stroke-width="3" />
<line x1="1063.43" y1="457.3" x2="1063.43" y2="451.3" stroke="#000" stroke-width="3" />
<line x1="1080.86" y1="457.3" x2="1080.86" y2="451.3" stroke="#000" stroke-width="3" />
<line x1="1098.29" y1="457.3" x2="1098.29" y2="451.3" stroke="#000" stroke-width="3" />
<line x1="1115.72" y1="457.3" x2="1115.72" y2="451.3" stroke="#000" stroke-width="3" />
<line x1="1133.15" y1="457.3" x2="1133.15" y2="444.3" stroke="#000" stroke-width="3" />
<line x1="1150.58" y1="457.3" x2="1150.58" y2="451.3" stroke="#000" stroke-width="3" />
<line x1="1168.01" y1="457.3" x2="1168.01" y2="451.3" stroke="#000" stroke-width="3" />
<line x1="1185.44" y1="457.3" x2="1185.44" y2="451.3" stroke="#000" stroke-width="3" />
<line x1="1202.87" y1="457.3" x2="1202.87" y2="451.3" stroke="#000" stroke-width="3" />
<line x1="871.7" y1="151.2" x2="884.7" y2="151.2" stroke="#000" stroke-width="3" />
<line x1="871.7" y1="225.3" x2="884.7" y2="225.3" stroke="#000" stroke-width="3" />
<line x1="871.7" y1="299.4" x2="884.7" y2="299.4" stroke="#000" stroke-width="3" />
<line x1="871.7" y1="373.5" x2="884.7" y2="373.5" stroke="#000" stroke-width="3" />
<line x1="871.7" y1="447.6" x2="884.7" y2="447.6" stroke="#000" stroke-width="3" />
<text x="858.5" y="162.9" font-size="29.5" text-anchor="end" fill="#000" font-weight="normal" font-style="normal" font-family='"Liberation Sans", Arial, Helvetica, sans-serif' >0.4</text>
<text x="858.5" y="314.2" font-size="29.5" text-anchor="end" fill="#000" font-weight="normal" font-style="normal" font-family='"Liberation Sans", Arial, Helvetica, sans-serif' >0.0</text>
<text x="858.5" y="460" font-size="29.5" text-anchor="end" fill="#000" font-weight="normal" font-style="normal" font-family='"Liberation Sans", Arial, Helvetica, sans-serif' >−0.4</text>
<text x="943.8" y="171.5" font-size="31" font-style="italic" font-family='"Liberation Serif", "Times New Roman", serif'>η</text>
<text x="963.1" y="172.5" font-size="30" font-family='"Liberation Serif", "Times New Roman", serif'>(</text>
<text x="974.3" y="171.5" font-size="31" font-style="italic" font-weight="bold" fill="#4b822d" font-family='"Liberation Serif", serif'>ν</text>
<text x="987.8" y="179.2" font-size="21" font-weight="bold" fill="#4b822d" font-family='"Liberation Sans", Arial, Helvetica, sans-serif'>1</text>
<text x="1007.3" y="171.5" font-size="28" font-family='"Liberation Sans", Arial, Helvetica, sans-serif'>:</text>
<text x="1023" y="171.5" font-size="31" font-style="italic" font-weight="bold" fill="#c8550f" font-family='"Liberation Serif", serif'>ν</text>
<text x="1035.2" y="179.2" font-size="21" font-weight="bold" fill="#c8550f" font-family='"Liberation Sans", Arial, Helvetica, sans-serif'>2</text>
<text x="1049" y="172.5" font-size="30" font-family='"Liberation Serif", "Times New Roman", serif'>)</text>
<text x="1066.3" y="171.5" font-size="30" font-family='"Liberation Sans", Arial, Helvetica, sans-serif'>=</text>
<line x1="1096.9" y1="165.2" x2="1209" y2="165.2" stroke="#000" stroke-width="1.7" />
<text x="1104.1" y="149.6" font-size="28" font-style="italic" font-family='"Liberation Sans", Arial, Helvetica, sans-serif'>I</text>
<text x="1114.2" y="154.8" font-size="21" font-style="italic" font-weight="bold" fill="#4b822d" font-family='"Liberation Serif", serif'>ν</text>
<text x="1124.2" y="159.1" font-size="14" font-weight="bold" fill="#4b822d" font-family='"Liberation Sans", Arial, Helvetica, sans-serif'>1</text>
<text x="1143.1" y="149.6" font-size="28" font-family='"Liberation Sans", Arial, Helvetica, sans-serif'>−</text>
<text x="1172.8" y="149.6" font-size="28" font-style="italic" font-family='"Liberation Sans", Arial, Helvetica, sans-serif'>I</text>
<text x="1183.2" y="154.8" font-size="21" font-style="italic" font-weight="bold" fill="#c8550f" font-family='"Liberation Serif", serif'>ν</text>
<text x="1193.2" y="159.1" font-size="14" font-weight="bold" fill="#c8550f" font-family='"Liberation Sans", Arial, Helvetica, sans-serif'>2</text>
<text x="1104.1" y="196.5" font-size="28" font-style="italic" font-family='"Liberation Sans", Arial, Helvetica, sans-serif'>I</text>
<text x="1114.2" y="201.7" font-size="21" font-style="italic" font-weight="bold" fill="#4b822d" font-family='"Liberation Serif", serif'>ν</text>
<text x="1124.2" y="206" font-size="14" font-weight="bold" fill="#4b822d" font-family='"Liberation Sans", Arial, Helvetica, sans-serif'>1</text>
<text x="1143.1" y="196.5" font-size="28" font-family='"Liberation Sans", Arial, Helvetica, sans-serif'>+</text>
<text x="1172.8" y="196.5" font-size="28" font-style="italic" font-family='"Liberation Sans", Arial, Helvetica, sans-serif'>I</text>
<text x="1183.2" y="201.7" font-size="21" font-style="italic" font-weight="bold" fill="#c8550f" font-family='"Liberation Serif", serif'>ν</text>
<text x="1193.2" y="206" font-size="14" font-weight="bold" fill="#c8550f" font-family='"Liberation Sans", Arial, Helvetica, sans-serif'>2</text>
<text x="820.5" y="95.6" font-size="42" text-anchor="start" fill="#000" font-weight="bold" font-style="normal" font-family='"Liberation Sans", Arial, Helvetica, sans-serif' >b</text>
<path d="M1319,199.7L1327.7,209.3L1338.1,220.4L1355.6,237.9L1364.3,246.3L1374.8,255.9L1385.3,265.1L1394,272.4L1404.5,280.8L1413.2,287.5L1421.9,293.8L1430.6,299.9L1439.4,305.7L1448.1,311.2L1458.5,317.4L1467.3,322.2L1477.7,327.6L1486.5,331.7L1495.2,335.6L1503.9,339.2L1512.6,342.4L1521.4,345.4L1530.1,348.1L1540.6,350.9L1551,353.3L1559.8,355L1568.5,356.3L1577.2,357.4L1587.7,358.3L1596.4,358.7L1606.9,358.8L1615.6,358.6" fill="none" stroke="#000" stroke-width="3" stroke-linejoin="round" stroke-linecap="round" stroke-dasharray="11.1,4.8" stroke-linecap="butt"/>
<line x1="1336.4" y1="130.72" x2="1336.4" y2="167.76" stroke="#000" stroke-width="3" />
<line x1="1336.4" y1="233.86" x2="1336.4" y2="306.61" stroke="#000" stroke-width="3" />
<line x1="1331.45" y1="130.72" x2="1341.35" y2="130.72" stroke="#000" stroke-width="3" />
<line x1="1331.45" y1="306.61" x2="1341.35" y2="306.61" stroke="#000" stroke-width="3" />
<rect x="1329.5" y="167.76" width="13.8" height="66.09" stroke="#000" stroke-width="3" fill="#fff" />
<line x1="1328.5" y1="193.62" x2="1344.3" y2="193.62" stroke="#ff7f0e" stroke-width="3" />
<line x1="1353.85" y1="145.38" x2="1353.85" y2="207.21" stroke="#000" stroke-width="3" />
<line x1="1353.85" y1="251.98" x2="1353.85" y2="312.21" stroke="#000" stroke-width="3" />
<line x1="1348.9" y1="145.38" x2="1358.8" y2="145.38" stroke="#000" stroke-width="3" />
<line x1="1348.9" y1="312.21" x2="1358.8" y2="312.21" stroke="#000" stroke-width="3" />
<rect x="1346.95" y="207.21" width="13.8" height="44.77" stroke="#000" stroke-width="3" fill="#fff" />
<line x1="1345.95" y1="238.12" x2="1361.75" y2="238.12" stroke="#ff7f0e" stroke-width="3" />
<line x1="1388.75" y1="195.21" x2="1388.75" y2="251.98" stroke="#000" stroke-width="3" />
<line x1="1388.75" y1="291.42" x2="1388.75" y2="341.79" stroke="#000" stroke-width="3" />
<line x1="1383.8" y1="195.21" x2="1393.7" y2="195.21" stroke="#000" stroke-width="3" />
<line x1="1383.8" y1="341.79" x2="1393.7" y2="341.79" stroke="#000" stroke-width="3" />
<rect x="1381.85" y="251.98" width="13.8" height="39.44" stroke="#000" stroke-width="3" fill="#fff" />
<line x1="1380.85" y1="271.7" x2="1396.65" y2="271.7" stroke="#ff7f0e" stroke-width="3" />
<line x1="1406.2" y1="241.32" x2="1406.2" y2="290.62" stroke="#000" stroke-width="3" />
<line x1="1406.2" y1="324.47" x2="1406.2" y2="372.7" stroke="#000" stroke-width="3" />
<line x1="1401.25" y1="241.32" x2="1411.15" y2="241.32" stroke="#000" stroke-width="3" />
<line x1="1401.25" y1="372.7" x2="1411.15" y2="372.7" stroke="#000" stroke-width="3" />
<rect x="1399.3" y="290.62" width="13.8" height="33.85" stroke="#000" stroke-width="3" fill="#fff" />
<line x1="1398.3" y1="303.95" x2="1414.1" y2="303.95" stroke="#ff7f0e" stroke-width="3" />
<line x1="1458.55" y1="281.56" x2="1458.55" y2="315.94" stroke="#000" stroke-width="3" />
<line x1="1458.55" y1="343.12" x2="1458.55" y2="381.5" stroke="#000" stroke-width="3" />
<line x1="1453.6" y1="281.56" x2="1463.5" y2="281.56" stroke="#000" stroke-width="3" />
<line x1="1453.6" y1="381.5" x2="1463.5" y2="381.5" stroke="#000" stroke-width="3" />
<rect x="1451.65" y="315.94" width="13.8" height="27.18" stroke="#000" stroke-width="3" fill="#fff" />
<line x1="1450.65" y1="329.8" x2="1466.45" y2="329.8" stroke="#ff7f0e" stroke-width="3" />
<line x1="1528.35" y1="243.72" x2="1528.35" y2="294.09" stroke="#000" stroke-width="3" />
<line x1="1528.35" y1="335.39" x2="1528.35" y2="385.23" stroke="#000" stroke-width="3" />
<line x1="1523.4" y1="243.72" x2="1533.3" y2="243.72" stroke="#000" stroke-width="3" />
<line x1="1523.4" y1="385.23" x2="1533.3" y2="385.23" stroke="#000" stroke-width="3" />
<rect x="1521.45" y="294.09" width="13.8" height="41.31" stroke="#000" stroke-width="3" fill="#fff" />
<line x1="1520.45" y1="311.68" x2="1536.25" y2="311.68" stroke="#ff7f0e" stroke-width="3" />
<line x1="1615.6" y1="318.07" x2="1615.6" y2="346.05" stroke="#000" stroke-width="3" />
<line x1="1615.6" y1="392.42" x2="1615.6" y2="440.13" stroke="#000" stroke-width="3" />
<line x1="1610.65" y1="318.07" x2="1620.55" y2="318.07" stroke="#000" stroke-width="3" />
<line x1="1610.65" y1="440.13" x2="1620.55" y2="440.13" stroke="#000" stroke-width="3" />
<rect x="1608.7" y="346.05" width="13.8" height="46.37" stroke="#000" stroke-width="3" fill="#fff" />
<line x1="1607.7" y1="364.18" x2="1623.5" y2="364.18" stroke="#ff7f0e" stroke-width="3" />
<rect x="1301.5" y="115.7" width="349" height="339.9" stroke="#000" stroke-width="3" fill="none" />
<line x1="1318.95" y1="455.6" x2="1318.95" y2="449.6" stroke="#000" stroke-width="3" />
<line x1="1336.4" y1="455.6" x2="1336.4" y2="449.6" stroke="#000" stroke-width="3" />
<line x1="1353.85" y1="455.6" x2="1353.85" y2="449.6" stroke="#000" stroke-width="3" />
<line x1="1371.3" y1="455.6" x2="1371.3" y2="449.6" stroke="#000" stroke-width="3" />
<line x1="1388.75" y1="455.6" x2="1388.75" y2="442.6" stroke="#000" stroke-width="3" />
<line x1="1406.2" y1="455.6" x2="1406.2" y2="449.6" stroke="#000" stroke-width="3" />
<line x1="1423.65" y1="455.6" x2="1423.65" y2="449.6" stroke="#000" stroke-width="3" />
<line x1="1441.1" y1="455.6" x2="1441.1" y2="449.6" stroke="#000" stroke-width="3" />
<line x1="1458.55" y1="455.6" x2="1458.55" y2="449.6" stroke="#000" stroke-width="3" />
<line x1="1476" y1="455.6" x2="1476" y2="442.6" stroke="#000" stroke-width="3" />
<line x1="1493.45" y1="455.6" x2="1493.45" y2="449.6" stroke="#000" stroke-width="3" />
<line x1="1510.9" y1="455.6" x2="1510.9" y2="449.6" stroke="#000" stroke-width="3" />
<line x1="1528.35" y1="455.6" x2="1528.35" y2="449.6" stroke="#000" stroke-width="3" />
<line x1="1545.8" y1="455.6" x2="1545.8" y2="449.6" stroke="#000" stroke-width="3" />
<line x1="1563.25" y1="455.6" x2="1563.25" y2="442.6" stroke="#000" stroke-width="3" />
<line x1="1580.7" y1="455.6" x2="1580.7" y2="449.6" stroke="#000" stroke-width="3" />
<line x1="1598.15" y1="455.6" x2="1598.15" y2="449.6" stroke="#000" stroke-width="3" />
<line x1="1615.6" y1="455.6" x2="1615.6" y2="449.6" stroke="#000" stroke-width="3" />
<line x1="1633.05" y1="455.6" x2="1633.05" y2="449.6" stroke="#000" stroke-width="3" />
<line x1="1301.5" y1="165.1" x2="1314.5" y2="165.1" stroke="#000" stroke-width="3" />
<line x1="1301.5" y1="218.4" x2="1314.5" y2="218.4" stroke="#000" stroke-width="3" />
<line x1="1301.5" y1="271.7" x2="1314.5" y2="271.7" stroke="#000" stroke-width="3" />
<line x1="1301.5" y1="325" x2="1314.5" y2="325" stroke="#000" stroke-width="3" />
<line x1="1301.5" y1="378.3" x2="1314.5" y2="378.3" stroke="#000" stroke-width="3" />
<line x1="1301.5" y1="431.6" x2="1314.5" y2="431.6" stroke="#000" stroke-width="3" />
<text x="1288.2" y="178.8" font-size="29.5" text-anchor="end" fill="#000" font-weight="normal" font-style="normal" font-family='"Liberation Sans", Arial, Helvetica, sans-serif' >0.4</text>
<text x="1288.2" y="289.3" font-size="29.5" text-anchor="end" fill="#000" font-weight="normal" font-style="normal" font-family='"Liberation Sans", Arial, Helvetica, sans-serif' >0.0</text>
<text x="1288.2" y="393.4" font-size="29.5" text-anchor="end" fill="#000" font-weight="normal" font-style="normal" font-family='"Liberation Sans", Arial, Helvetica, sans-serif' >−0.4</text>
<text x="1384.2" y="176.5" font-size="31" font-style="italic" font-family='"Liberation Serif", "Times New Roman", serif'>η</text>
<text x="1403.5" y="177.5" font-size="30" font-family='"Liberation Serif", "Times New Roman", serif'>(</text>
<text x="1414.7" y="176.5" font-size="31" font-style="italic" font-weight="bold" fill="#4b822d" font-family='"Liberation Serif", serif'>ν</text>
<text x="1428.2" y="184.2" font-size="21" font-weight="bold" fill="#4b822d" font-family='"Liberation Sans", Arial, Helvetica, sans-serif'>3</text>
<text x="1447.7" y="176.5" font-size="28" font-family='"Liberation Sans", Arial, Helvetica, sans-serif'>:</text>
<text x="1463.4" y="176.5" font-size="31" font-style="italic" font-weight="bold" fill="#c8550f" font-family='"Liberation Serif", serif'>ν</text>
<text x="1475.6" y="184.2" font-size="21" font-weight="bold" fill="#c8550f" font-family='"Liberation Sans", Arial, Helvetica, sans-serif'>4</text>
<text x="1489.4" y="177.5" font-size="30" font-family='"Liberation Serif", "Times New Roman", serif'>)</text>
<text x="1506.7" y="176.5" font-size="30" font-family='"Liberation Sans", Arial, Helvetica, sans-serif'>=</text>
<line x1="1537.3" y1="170.2" x2="1649.4" y2="170.2" stroke="#000" stroke-width="1.7" />
<text x="1544.5" y="154.6" font-size="28" font-style="italic" font-family='"Liberation Sans", Arial, Helvetica, sans-serif'>I</text>
<text x="1554.6" y="159.8" font-size="21" font-style="italic" font-weight="bold" fill="#4b822d" font-family='"Liberation Serif", serif'>ν</text>
<text x="1564.6" y="164.1" font-size="14" font-weight="bold" fill="#4b822d" font-family='"Liberation Sans", Arial, Helvetica, sans-serif'>3</text>
<text x="1583.5" y="154.6" font-size="28" font-family='"Liberation Sans", Arial, Helvetica, sans-serif'>−</text>
<text x="1613.2" y="154.6" font-size="28" font-style="italic" font-family='"Liberation Sans", Arial, Helvetica, sans-serif'>I</text>
<text x="1623.6" y="159.8" font-size="21" font-style="italic" font-weight="bold" fill="#c8550f" font-family='"Liberation Serif", serif'>ν</text>
<text x="1633.6" y="164.1" font-size="14" font-weight="bold" fill="#c8550f" font-family='"Liberation Sans", Arial, Helvetica, sans-serif'>4</text>
<text x="1544.5" y="201.5" font-size="28" font-style="italic" font-family='"Liberation Sans", Arial, Helvetica, sans-serif'>I</text>
<text x="1554.6" y="206.7" font-size="21" font-style="italic" font-weight="bold" fill="#4b822d" font-family='"Liberation Serif", serif'>ν</text>
<text x="1564.6" y="211" font-size="14" font-weight="bold" fill="#4b822d" font-family='"Liberation Sans", Arial, Helvetica, sans-serif'>3</text>
<text x="1583.5" y="201.5" font-size="28" font-family='"Liberation Sans", Arial, Helvetica, sans-serif'>+</text>
<text x="1613.2" y="201.5" font-size="28" font-style="italic" font-family='"Liberation Sans", Arial, Helvetica, sans-serif'>I</text>
<text x="1623.6" y="206.7" font-size="21" font-style="italic" font-weight="bold" fill="#c8550f" font-family='"Liberation Serif", serif'>ν</text>
<text x="1633.6" y="211" font-size="14" font-weight="bold" fill="#c8550f" font-family='"Liberation Sans", Arial, Helvetica, sans-serif'>4</text>
<text x="1255.7" y="100.2" font-size="42" text-anchor="start" fill="#000" font-weight="bold" font-style="normal" font-family='"Liberation Sans", Arial, Helvetica, sans-serif' >c</text>
<path d="M888.4,647.6L905.9,652.8L925.2,658.3L944.4,663.5L961.9,668L979.4,672.2L998.6,676.7L1033.6,683.9L1068.6,690.3L1086.1,693.1L1105.4,696L1124.6,698.6L1142.1,700.6L1159.6,702.5L1178.9,704.3" fill="none" stroke="#000" stroke-width="3" stroke-linejoin="round" stroke-linecap="round" stroke-dasharray="11.1,4.8" stroke-linecap="butt"/>
<line x1="905.2" y1="502.61" x2="905.2" y2="605.03" stroke="#000" stroke-width="3" />
<line x1="905.2" y1="701.9" x2="905.2" y2="813.58" stroke="#000" stroke-width="3" />
<line x1="900.25" y1="502.61" x2="910.15" y2="502.61" stroke="#000" stroke-width="3" />
<line x1="900.25" y1="813.58" x2="910.15" y2="813.58" stroke="#000" stroke-width="3" />
<rect x="898.3" y="605.03" width="13.8" height="96.87" stroke="#000" stroke-width="3" fill="#fff" />
<line x1="897.3" y1="651.92" x2="913.1" y2="651.92" stroke="#ff7f0e" stroke-width="3" />
<line x1="922.7" y1="571.71" x2="922.7" y2="630.33" stroke="#000" stroke-width="3" />
<line x1="922.7" y1="687.71" x2="922.7" y2="733.37" stroke="#000" stroke-width="3" />
<line x1="917.75" y1="571.71" x2="927.65" y2="571.71" stroke="#000" stroke-width="3" />
<line x1="917.75" y1="733.37" x2="927.65" y2="733.37" stroke="#000" stroke-width="3" />
<rect x="915.8" y="630.33" width="13.8" height="57.38" stroke="#000" stroke-width="3" fill="#fff" />
<line x1="914.8" y1="656.86" x2="930.6" y2="656.86" stroke="#ff7f0e" stroke-width="3" />
<line x1="957.7" y1="599.48" x2="957.7" y2="641.44" stroke="#000" stroke-width="3" />
<line x1="957.7" y1="684.01" x2="957.7" y2="724.11" stroke="#000" stroke-width="3" />
<line x1="952.75" y1="599.48" x2="962.65" y2="599.48" stroke="#000" stroke-width="3" />
<line x1="952.75" y1="724.11" x2="962.65" y2="724.11" stroke="#000" stroke-width="3" />
<rect x="950.8" y="641.44" width="13.8" height="42.57" stroke="#000" stroke-width="3" fill="#fff" />
<line x1="949.8" y1="664.26" x2="965.6" y2="664.26" stroke="#ff7f0e" stroke-width="3" />
<line x1="975.2" y1="600.1" x2="975.2" y2="655.63" stroke="#000" stroke-width="3" />
<line x1="975.2" y1="695.11" x2="975.2" y2="732.75" stroke="#000" stroke-width="3" />
<line x1="970.25" y1="600.1" x2="980.15" y2="600.1" stroke="#000" stroke-width="3" />
<line x1="970.25" y1="732.75" x2="980.15" y2="732.75" stroke="#000" stroke-width="3" />
<rect x="968.3" y="655.63" width="13.8" height="39.49" stroke="#000" stroke-width="3" fill="#fff" />
<line x1="967.3" y1="674.14" x2="983.1" y2="674.14" stroke="#ff7f0e" stroke-width="3" />
<line x1="1027.7" y1="629.1" x2="1027.7" y2="667.35" stroke="#000" stroke-width="3" />
<line x1="1027.7" y1="698.2" x2="1027.7" y2="729.67" stroke="#000" stroke-width="3" />
<line x1="1022.75" y1="629.1" x2="1032.65" y2="629.1" stroke="#000" stroke-width="3" />
<line x1="1022.75" y1="729.67" x2="1032.65" y2="729.67" stroke="#000" stroke-width="3" />
<rect x="1020.8" y="667.35" width="13.8" height="30.85" stroke="#000" stroke-width="3" fill="#fff" />
<line x1="1019.8" y1="682.77" x2="1035.6" y2="682.77" stroke="#ff7f0e" stroke-width="3" />
<line x1="1097.7" y1="635.88" x2="1097.7" y2="678.46" stroke="#000" stroke-width="3" />
<line x1="1097.7" y1="706.84" x2="1097.7" y2="729.05" stroke="#000" stroke-width="3" />
<line x1="1092.75" y1="635.88" x2="1102.65" y2="635.88" stroke="#000" stroke-width="3" />
<line x1="1092.75" y1="729.05" x2="1102.65" y2="729.05" stroke="#000" stroke-width="3" />
<rect x="1090.8" y="678.46" width="13.8" height="28.38" stroke="#000" stroke-width="3" fill="#fff" />
<line x1="1089.8" y1="691.41" x2="1105.6" y2="691.41" stroke="#ff7f0e" stroke-width="3" />
<line x1="1185.2" y1="659.33" x2="1185.2" y2="693.88" stroke="#000" stroke-width="3" />
<line x1="1185.2" y1="722.88" x2="1185.2" y2="754.96" stroke="#000" stroke-width="3" />
<line x1="1180.25" y1="659.33" x2="1190.15" y2="659.33" stroke="#000" stroke-width="3" />
<line x1="1180.25" y1="754.96" x2="1190.15" y2="754.96" stroke="#000" stroke-width="3" />
<rect x="1178.3" y="693.88" width="13.8" height="29" stroke="#000" stroke-width="3" fill="#fff" />
<line x1="1177.3" y1="708.69" x2="1193.1" y2="708.69" stroke="#ff7f0e" stroke-width="3" />
<rect x="870.2" y="487.2" width="350" height="341.7" stroke="#000" stroke-width="3" fill="none" />
<line x1="887.7" y1="828.9" x2="887.7" y2="822.9" stroke="#000" stroke-width="3" />
<line x1="905.2" y1="828.9" x2="905.2" y2="822.9" stroke="#000" stroke-width="3" />
<line x1="922.7" y1="828.9" x2="922.7" y2="822.9" stroke="#000" stroke-width="3" />
<line x1="940.2" y1="828.9" x2="940.2" y2="822.9" stroke="#000" stroke-width="3" />
<line x1="957.7" y1="828.9" x2="957.7" y2="815.9" stroke="#000" stroke-width="3" />
<line x1="975.2" y1="828.9" x2="975.2" y2="822.9" stroke="#000" stroke-width="3" />
<line x1="992.7" y1="828.9" x2="992.7" y2="822.9" stroke="#000" stroke-width="3" />
<line x1="1010.2" y1="828.9" x2="1010.2" y2="822.9" stroke="#000" stroke-width="3" />
<line x1="1027.7" y1="828.9" x2="1027.7" y2="822.9" stroke="#000" stroke-width="3" />
<line x1="1045.2" y1="828.9" x2="1045.2" y2="815.9" stroke="#000" stroke-width="3" />
<line x1="1062.7" y1="828.9" x2="1062.7" y2="822.9" stroke="#000" stroke-width="3" />
<line x1="1080.2" y1="828.9" x2="1080.2" y2="822.9" stroke="#000" stroke-width="3" />
<line x1="1097.7" y1="828.9" x2="1097.7" y2="822.9" stroke="#000" stroke-width="3" />
<line x1="1115.2" y1="828.9" x2="1115.2" y2="822.9" stroke="#000" stroke-width="3" />
<line x1="1132.7" y1="828.9" x2="1132.7" y2="815.9" stroke="#000" stroke-width="3" />
<line x1="1150.2" y1="828.9" x2="1150.2" y2="822.9" stroke="#000" stroke-width="3" />
<line x1="1167.7" y1="828.9" x2="1167.7" y2="822.9" stroke="#000" stroke-width="3" />
<line x1="1185.2" y1="828.9" x2="1185.2" y2="822.9" stroke="#000" stroke-width="3" />
<line x1="1202.7" y1="828.9" x2="1202.7" y2="822.9" stroke="#000" stroke-width="3" />
<line x1="870.2" y1="545.8" x2="883.2" y2="545.8" stroke="#000" stroke-width="3" />
<line x1="870.2" y1="607.5" x2="883.2" y2="607.5" stroke="#000" stroke-width="3" />
<line x1="870.2" y1="669.2" x2="883.2" y2="669.2" stroke="#000" stroke-width="3" />
<line x1="870.2" y1="730.9" x2="883.2" y2="730.9" stroke="#000" stroke-width="3" />
<line x1="870.2" y1="792.6" x2="883.2" y2="792.6" stroke="#000" stroke-width="3" />
<text x="870.2" y="861.5" font-size="29.5" text-anchor="middle" fill="#000" font-weight="normal" font-style="normal" font-family='"Liberation Sans", Arial, Helvetica, sans-serif' >0</text>
<text x="957.7" y="861.5" font-size="29.5" text-anchor="middle" fill="#000" font-weight="normal" font-style="normal" font-family='"Liberation Sans", Arial, Helvetica, sans-serif' >5</text>
<text x="1045.2" y="861.5" font-size="29.5" text-anchor="middle" fill="#000" font-weight="normal" font-style="normal" font-family='"Liberation Sans", Arial, Helvetica, sans-serif' >10</text>
<text x="1132.7" y="861.5" font-size="29.5" text-anchor="middle" fill="#000" font-weight="normal" font-style="normal" font-family='"Liberation Sans", Arial, Helvetica, sans-serif' >15</text>
<text x="1220.2" y="861.5" font-size="29.5" text-anchor="middle" fill="#000" font-weight="normal" font-style="normal" font-family='"Liberation Sans", Arial, Helvetica, sans-serif' >20</text>
<text x="858.3" y="556.7" font-size="29.5" text-anchor="end" fill="#000" font-weight="normal" font-style="normal" font-family='"Liberation Sans", Arial, Helvetica, sans-serif' >0.2</text>
<text x="858.3" y="683.1" font-size="29.5" text-anchor="end" fill="#000" font-weight="normal" font-style="normal" font-family='"Liberation Sans", Arial, Helvetica, sans-serif' >0.0</text>
<text x="858.3" y="802.2" font-size="29.5" text-anchor="end" fill="#000" font-weight="normal" font-style="normal" font-family='"Liberation Sans", Arial, Helvetica, sans-serif' >−0.2</text>
<text x="947.3" y="545.6" font-size="31" font-style="italic" font-family='"Liberation Serif", "Times New Roman", serif'>η</text>
<text x="966.6" y="546.6" font-size="30" font-family='"Liberation Serif", "Times New Roman", serif'>(</text>
<text x="977.8" y="545.6" font-size="31" font-style="italic" font-weight="bold" fill="#4b822d" font-family='"Liberation Serif", serif'>ν</text>
<text x="991.3" y="553.3" font-size="21" font-weight="bold" fill="#4b822d" font-family='"Liberation Sans", Arial, Helvetica, sans-serif'>5</text>
<text x="1010.8" y="545.6" font-size="28" font-family='"Liberation Sans", Arial, Helvetica, sans-serif'>:</text>
<text x="1026.5" y="545.6" font-size="31" font-style="italic" font-weight="bold" fill="#c8550f" font-family='"Liberation Serif", serif'>ν</text>
<text x="1038.7" y="553.3" font-size="21" font-weight="bold" fill="#c8550f" font-family='"Liberation Sans", Arial, Helvetica, sans-serif'>6</text>
<text x="1052.5" y="546.6" font-size="30" font-family='"Liberation Serif", "Times New Roman", serif'>)</text>
<text x="1069.8" y="545.6" font-size="30" font-family='"Liberation Sans", Arial, Helvetica, sans-serif'>=</text>
<line x1="1100.4" y1="539.3" x2="1212.5" y2="539.3" stroke="#000" stroke-width="1.7" />
<text x="1107.6" y="523.7" font-size="28" font-style="italic" font-family='"Liberation Sans", Arial, Helvetica, sans-serif'>I</text>
<text x="1117.7" y="528.9" font-size="21" font-style="italic" font-weight="bold" fill="#4b822d" font-family='"Liberation Serif", serif'>ν</text>
<text x="1127.7" y="533.2" font-size="14" font-weight="bold" fill="#4b822d" font-family='"Liberation Sans", Arial, Helvetica, sans-serif'>5</text>
<text x="1146.6" y="523.7" font-size="28" font-family='"Liberation Sans", Arial, Helvetica, sans-serif'>−</text>
<text x="1176.3" y="523.7" font-size="28" font-style="italic" font-family='"Liberation Sans", Arial, Helvetica, sans-serif'>I</text>
<text x="1186.7" y="528.9" font-size="21" font-style="italic" font-weight="bold" fill="#c8550f" font-family='"Liberation Serif", serif'>ν</text>
<text x="1196.7" y="533.2" font-size="14" font-weight="bold" fill="#c8550f" font-family='"Liberation Sans", Arial, Helvetica, sans-serif'>6</text>
<text x="1107.6" y="570.6" font-size="28" font-style="italic" font-family='"Liberation Sans", Arial, Helvetica, sans-serif'>I</text>
<text x="1117.7" y="575.8" font-size="21" font-style="italic" font-weight="bold" fill="#4b822d" font-family='"Liberation Serif", serif'>ν</text>
<text x="1127.7" y="580.1" font-size="14" font-weight="bold" fill="#4b822d" font-family='"Liberation Sans", Arial, Helvetica, sans-serif'>5</text>
<text x="1146.6" y="570.6" font-size="28" font-family='"Liberation Sans", Arial, Helvetica, sans-serif'>+</text>
<text x="1176.3" y="570.6" font-size="28" font-style="italic" font-family='"Liberation Sans", Arial, Helvetica, sans-serif'>I</text>
<text x="1186.7" y="575.8" font-size="21" font-style="italic" font-weight="bold" fill="#c8550f" font-family='"Liberation Serif", serif'>ν</text>
<text x="1196.7" y="580.1" font-size="14" font-weight="bold" fill="#c8550f" font-family='"Liberation Sans", Arial, Helvetica, sans-serif'>6</text>
<text x="817.5" y="505" font-size="42" text-anchor="start" fill="#000" font-weight="bold" font-style="normal" font-family='"Liberation Sans", Arial, Helvetica, sans-serif' >d</text>
<text x="1045" y="906.6" font-size="29.5" text-anchor="middle" fill="#000" font-weight="normal" font-style="normal" font-family='"Liberation Sans", Arial, Helvetica, sans-serif' >Gap size (nm)</text>
<text transform="translate(778.5,451) rotate(-90)" font-size="29" text-anchor="middle" font-family='"Liberation Sans", Arial, Helvetica, sans-serif'>Normalised SERS intensity ratio, <tspan font-family='"Liberation Serif", "Times New Roman", serif' font-style="italic">η</tspan> (a.u.)</text>
<line x1="1321" y1="650.2" x2="1652" y2="650.2" stroke="#c0c0c0" stroke-width="5.5" stroke-dasharray="21,15"/>
<path d="M1318.1,627L1357.1,636.3L1394.4,644.4L1431.7,651.6L1469,658L1508.1,663.7L1545.4,668.3L1582.7,672.1L1620,675" fill="none" stroke="#984ea3" stroke-width="3" stroke-linejoin="round" stroke-linecap="round" />
<path d="M1318.1,577.6L1326.9,590.8L1335.8,603.6L1346.5,618.3L1355.4,630.2L1366,643.8L1374.9,654.7L1383.8,665.2L1394.4,677.2L1403.3,686.8L1412.2,695.9L1421.1,704.6L1431.7,714.5L1440.6,722.2L1449.5,729.6L1460.1,737.8L1469,744.2L1477.9,750.2L1488.6,756.8L1497.4,761.8L1506.3,766.4L1515.2,770.6L1525.9,775.1L1534.7,778.3L1543.6,781.1L1554.3,784L1563.1,785.8L1573.8,787.5L1582.7,788.5L1591.6,789L1600.4,789.1L1609.3,788.8L1620,787.8" fill="none" stroke="#377eb8" stroke-width="3" stroke-linejoin="round" stroke-linecap="round" />
<path d="M1318.1,505.7L1326.9,524.3L1335.8,542.3L1346.5,563.1L1355.4,579.8L1366,599.2L1374.9,614.6L1383.8,629.5L1394.4,646.6L1403.3,660.2L1412.2,673.2L1421.1,685.7L1431.7,699.8L1442.4,713.2L1451.3,723.7L1460.1,733.6L1469,742.9L1477.9,751.7L1488.6,761.4L1499.2,770.4L1508.1,777.2L1517,783.4L1525.9,789L1534.7,794.1L1545.4,799.4L1554.3,803.2L1563.1,806.4L1573.8,809.5L1582.7,811.5L1593.3,813.1L1602.2,813.8L1611.1,813.9L1620,813.4" fill="none" stroke="#e41a1c" stroke-width="3" stroke-linejoin="round" stroke-linecap="round" />
<rect x="1300.3" y="489.5" width="356.1" height="339.1" stroke="#000" stroke-width="3" fill="none" />
<line x1="1318.06" y1="828.6" x2="1318.06" y2="822.6" stroke="#000" stroke-width="3" />
<line x1="1335.82" y1="828.6" x2="1335.82" y2="822.6" stroke="#000" stroke-width="3" />
<line x1="1353.58" y1="828.6" x2="1353.58" y2="822.6" stroke="#000" stroke-width="3" />
<line x1="1371.34" y1="828.6" x2="1371.34" y2="822.6" stroke="#000" stroke-width="3" />
<line x1="1389.1" y1="828.6" x2="1389.1" y2="815.6" stroke="#000" stroke-width="3" />
<line x1="1406.86" y1="828.6" x2="1406.86" y2="822.6" stroke="#000" stroke-width="3" />
<line x1="1424.62" y1="828.6" x2="1424.62" y2="822.6" stroke="#000" stroke-width="3" />
<line x1="1442.38" y1="828.6" x2="1442.38" y2="822.6" stroke="#000" stroke-width="3" />
<line x1="1460.14" y1="828.6" x2="1460.14" y2="822.6" stroke="#000" stroke-width="3" />
<line x1="1477.9" y1="828.6" x2="1477.9" y2="815.6" stroke="#000" stroke-width="3" />
<line x1="1495.66" y1="828.6" x2="1495.66" y2="822.6" stroke="#000" stroke-width="3" />
<line x1="1513.42" y1="828.6" x2="1513.42" y2="822.6" stroke="#000" stroke-width="3" />
<line x1="1531.18" y1="828.6" x2="1531.18" y2="822.6" stroke="#000" stroke-width="3" />
<line x1="1548.94" y1="828.6" x2="1548.94" y2="822.6" stroke="#000" stroke-width="3" />
<line x1="1566.7" y1="828.6" x2="1566.7" y2="815.6" stroke="#000" stroke-width="3" />
<line x1="1584.46" y1="828.6" x2="1584.46" y2="822.6" stroke="#000" stroke-width="3" />
<line x1="1602.22" y1="828.6" x2="1602.22" y2="822.6" stroke="#000" stroke-width="3" />
<line x1="1619.98" y1="828.6" x2="1619.98" y2="822.6" stroke="#000" stroke-width="3" />
<line x1="1637.74" y1="828.6" x2="1637.74" y2="822.6" stroke="#000" stroke-width="3" />
<line x1="1300.3" y1="542" x2="1313.3" y2="542" stroke="#000" stroke-width="3" />
<line x1="1300.3" y1="593.6" x2="1313.3" y2="593.6" stroke="#000" stroke-width="3" />
<line x1="1300.3" y1="645.2" x2="1313.3" y2="645.2" stroke="#000" stroke-width="3" />
<line x1="1300.3" y1="696.8" x2="1313.3" y2="696.8" stroke="#000" stroke-width="3" />
<line x1="1300.3" y1="748.4" x2="1313.3" y2="748.4" stroke="#000" stroke-width="3" />
<line x1="1300.3" y1="800" x2="1313.3" y2="800" stroke="#000" stroke-width="3" />
<text x="1288.4" y="555.1" font-size="29.5" text-anchor="end" fill="#000" font-weight="normal" font-style="normal" font-family='"Liberation Sans", Arial, Helvetica, sans-serif' >0.2</text>
<text x="1288.4" y="659.6" font-size="29.5" text-anchor="end" fill="#000" font-weight="normal" font-style="normal" font-family='"Liberation Sans", Arial, Helvetica, sans-serif' >0.0</text>
<text x="1288.4" y="767.1" font-size="29.5" text-anchor="end" fill="#000" font-weight="normal" font-style="normal" font-family='"Liberation Sans", Arial, Helvetica, sans-serif' >−0.2</text>
<text x="1301.6" y="861.5" font-size="29.5" text-anchor="middle" fill="#000" font-weight="normal" font-style="normal" font-family='"Liberation Sans", Arial, Helvetica, sans-serif' >0</text>
<text x="1388.4" y="861.5" font-size="29.5" text-anchor="middle" fill="#000" font-weight="normal" font-style="normal" font-family='"Liberation Sans", Arial, Helvetica, sans-serif' >5</text>
<text x="1478" y="861.5" font-size="29.5" text-anchor="middle" fill="#000" font-weight="normal" font-style="normal" font-family='"Liberation Sans", Arial, Helvetica, sans-serif' >10</text>
<text x="1567.5" y="861.5" font-size="29.5" text-anchor="middle" fill="#000" font-weight="normal" font-style="normal" font-family='"Liberation Sans", Arial, Helvetica, sans-serif' >15</text>
<text x="1650.6" y="861.5" font-size="29.5" text-anchor="middle" fill="#000" font-weight="normal" font-style="normal" font-family='"Liberation Sans", Arial, Helvetica, sans-serif' >20</text>
<text x="1477" y="906.6" font-size="29.5" text-anchor="middle" fill="#000" font-weight="normal" font-style="normal" font-family='"Liberation Sans", Arial, Helvetica, sans-serif' >Gap size (nm)</text>
<line x1="1449.2" y1="523.1" x2="1497.4" y2="523.1" stroke="#377eb8" stroke-width="3" />
<text x="1511.8" y="527.8" font-size="31" font-style="italic" font-family='"Liberation Serif", "Times New Roman", serif'>η</text>
<text x="1531.1" y="528.8" font-size="30" font-family='"Liberation Serif", "Times New Roman", serif'>(</text>
<text x="1542.3" y="527.8" font-size="31" font-style="italic" font-weight="bold" fill="#4b822d" font-family='"Liberation Serif", serif'>ν</text>
<text x="1555.8" y="535.5" font-size="21" font-weight="bold" fill="#4b822d" font-family='"Liberation Sans", Arial, Helvetica, sans-serif'>1</text>
<text x="1575.3" y="527.8" font-size="28" font-family='"Liberation Sans", Arial, Helvetica, sans-serif'>:</text>
<text x="1591" y="527.8" font-size="31" font-style="italic" font-weight="bold" fill="#c8550f" font-family='"Liberation Serif", serif'>ν</text>
<text x="1603.2" y="535.5" font-size="21" font-weight="bold" fill="#c8550f" font-family='"Liberation Sans", Arial, Helvetica, sans-serif'>2</text>
<text x="1617" y="528.8" font-size="30" font-family='"Liberation Serif", "Times New Roman", serif'>)</text>
<line x1="1449.2" y1="568.9" x2="1497.4" y2="568.9" stroke="#e41a1c" stroke-width="3" />
<text x="1511.8" y="573.6" font-size="31" font-style="italic" font-family='"Liberation Serif", "Times New Roman", serif'>η</text>
<text x="1531.1" y="574.6" font-size="30" font-family='"Liberation Serif", "Times New Roman", serif'>(</text>
<text x="1542.3" y="573.6" font-size="31" font-style="italic" font-weight="bold" fill="#4b822d" font-family='"Liberation Serif", serif'>ν</text>
<text x="1555.8" y="581.3" font-size="21" font-weight="bold" fill="#4b822d" font-family='"Liberation Sans", Arial, Helvetica, sans-serif'>3</text>
<text x="1575.3" y="573.6" font-size="28" font-family='"Liberation Sans", Arial, Helvetica, sans-serif'>:</text>
<text x="1591" y="573.6" font-size="31" font-style="italic" font-weight="bold" fill="#c8550f" font-family='"Liberation Serif", serif'>ν</text>
<text x="1603.2" y="581.3" font-size="21" font-weight="bold" fill="#c8550f" font-family='"Liberation Sans", Arial, Helvetica, sans-serif'>4</text>
<text x="1617" y="574.6" font-size="30" font-family='"Liberation Serif", "Times New Roman", serif'>)</text>
<line x1="1449.2" y1="614.3" x2="1497.4" y2="614.3" stroke="#984ea3" stroke-width="3" />
<text x="1511.8" y="619" font-size="31" font-style="italic" font-family='"Liberation Serif", "Times New Roman", serif'>η</text>
<text x="1531.1" y="620" font-size="30" font-family='"Liberation Serif", "Times New Roman", serif'>(</text>
<text x="1542.3" y="619" font-size="31" font-style="italic" font-weight="bold" fill="#4b822d" font-family='"Liberation Serif", serif'>ν</text>
<text x="1555.8" y="626.7" font-size="21" font-weight="bold" fill="#4b822d" font-family='"Liberation Sans", Arial, Helvetica, sans-serif'>5</text>
<text x="1575.3" y="619" font-size="28" font-family='"Liberation Sans", Arial, Helvetica, sans-serif'>:</text>
<text x="1591" y="619" font-size="31" font-style="italic" font-weight="bold" fill="#c8550f" font-family='"Liberation Serif", serif'>ν</text>
<text x="1603.2" y="626.7" font-size="21" font-weight="bold" fill="#c8550f" font-family='"Liberation Sans", Arial, Helvetica, sans-serif'>6</text>
<text x="1617" y="620" font-size="30" font-family='"Liberation Serif", "Times New Roman", serif'>)</text>
<text x="1255.8" y="506" font-size="42" text-anchor="start" fill="#000" font-weight="bold" font-style="normal" font-family='"Liberation Sans", Arial, Helvetica, sans-serif' >e</text>
<path d="M159.7,1177.4L166,1176.9L169.1,1177.1L170.5,1177.4L173,1178.7L176.7,1181.6L179.6,1183.3L181.3,1183.9L185.5,1184.5L190.3,1184.6L200,1184.5L208.3,1184.6L212.1,1184.5L215.8,1183.9L219.4,1183L224.5,1181L227.5,1179.1L230,1176.8L231.9,1174.3L234.4,1169.4L236,1165L236.9,1161.9L241.4,1141.4L242.2,1138.8L243,1137.7L243.7,1138.2L244.4,1140L244.9,1142.8L246.7,1153.9L248,1160L249.5,1164.1L251,1167.6L253.7,1171.9L255.8,1174.2L258.3,1175.9L272.4,1182.6L275.1,1183.6L276.3,1183.9L277.4,1183.9L278.3,1183.7L281.6,1181.9L283,1181.5L284.4,1182L286.3,1183.5L287.4,1184.1L288,1184L289,1183.3L290.4,1181.3L292,1178L296.4,1164.8L297.1,1163.2L297.8,1162.3L298.4,1162.2L299,1162.6L299.5,1163.6L301.5,1169L302,1170L303.7,1172.9L304.8,1174.2L305.5,1174.7L309.3,1176.2L314.7,1177.4L318.1,1177.6L319.4,1177.4L321.3,1176.5L322.1,1175.9L323.3,1174.2L325,1170L326.4,1164.8L329,1152L329.6,1150.1L330.2,1149.4L330.7,1150L331.2,1151.8L333.5,1167.4L336.2,1180.9L336.9,1182.7L337.7,1184.1L338.8,1185.2L340.2,1185.8L341.7,1186L343.4,1185.8L349.5,1184.5L353.9,1183.9L382.5,1184.6L387.1,1184.3L389.8,1183.4L393.3,1181.4L395.3,1179.6L397.1,1177.4L398.6,1174.7L401.4,1166.5L404.9,1158.6L406.5,1156L407.2,1155.3L407.9,1155L408.6,1155.3L409.2,1156.1L412.3,1163.7L415.6,1169.5L417.8,1172.3L420.4,1174.3L422.2,1175L429.1,1177L445,1181L456.8,1185.2L461.6,1186.5L464,1186.9L469,1187.2L476.6,1186.6L483.4,1185.2L485.4,1184.5L489.1,1182.8L493.9,1179.6L496.4,1177.4L497.4,1176.3L498.7,1173.9L500.5,1169.1L503.5,1163.2L504.7,1161.4L505.3,1161L505.9,1161L506.4,1161.5L507.4,1163.7L510,1172L510.5,1173.7L511.7,1179.6L512.2,1181.6L513,1183.4L514.2,1184.9L515.8,1186L518,1186.8L520.8,1187.3L524,1187.6L530.8,1187.6L539.6,1186.9L541.6,1186.5L543.3,1185.9L544.8,1185.2L549.3,1182.2L550.3,1181.7L552.1,1181.4L554.7,1181.6L556,1181.5L557.3,1180.8L559.2,1179.4L560.5,1178.8L561.7,1178.9L565.4,1181.8L566.6,1182L567.8,1181.7L571,1180L575.7,1179.1L577.5,1178.2L578.4,1177.4L579.9,1175.1L582,1170.4L584.7,1162.9L588,1150.4L588.6,1149L589.2,1148.5L589.7,1149L590.2,1150.4L593,1165L595.3,1172.7L597.2,1177.5L598.4,1179.6L599.7,1180.8L603,1182L606.5,1183.6L608.6,1183.9L610.6,1183.2L614.7,1180.4L617.1,1178.1L618.7,1176.8L619.5,1176.5L620.3,1176.5L621,1176.9L621.8,1177.6L625.3,1183.1L628.2,1186.2L630.6,1187.8L632.4,1188.2L633.4,1188.1L637,1186.7L643.2,1183.3L649.5,1179.6L651.8,1178.7L652.9,1178.5L655,1178.7L666,1181.6L668.2,1181.8L669.1,1181.7L669.9,1181.3L671.3,1180.1L673.4,1176.7L676.8,1172.3L677.9,1171.4L678.5,1171.4L679.8,1172.3L682.5,1176.2L684,1178L687.1,1180.5L689.6,1182.1L692.7,1183.5L696.1,1184.8L712.2,1189.5" fill="none" stroke="#000" stroke-width="2.6" stroke-linejoin="round" stroke-linecap="round" />
<path d="M155.4,1242.1L170,1241.5L183.4,1242.1L196.5,1242.2L202.1,1242L207,1241.5L211,1240.4L214.5,1238.8L221.2,1235.1L224.5,1232.8L225.8,1232L227.4,1231.8L231.2,1233.7L232.1,1233.8L233,1233.5L234,1232.8L235.1,1231.6L240.8,1224.6L241.7,1224L242.4,1223.8L243,1224L243.5,1224.4L245.4,1227.3L248.9,1230.7L251.5,1232.9L253.5,1234.1L268.1,1240.8L270.6,1241.7L274.7,1242.6L279.1,1243.1L281.8,1243.1L285,1242.7L286.7,1242.1L288.3,1241.2L290,1240L292,1238L296.1,1232.8L297.8,1231.4L298.5,1231.3L299,1231.5L299.5,1231.9L301.4,1234.5L303.4,1235.8L306.7,1237.3L310.8,1238.1L314.4,1238.2L318,1237.8L320.4,1236.8L325.2,1233.9L326.3,1233.6L327.2,1233.5L328,1233.8L329.2,1235.1L331.3,1239.1L335.1,1244.7L336,1245.5L337.2,1246.1L338.8,1246.5L343.1,1246.6L360,1244.5L365.1,1244.5L372.6,1244.8L377.5,1244.6L382.2,1243.8L387,1242.3L393.6,1239.5L398.4,1237.1L400.7,1235L403.8,1231L407,1226L408.5,1224.3L409.2,1224L409.9,1224.2L410.4,1224.7L413.3,1230L417.1,1234.9L418.9,1236.6L419.8,1237.3L420.9,1237.8L422,1238L424.3,1237.8L428.3,1237L431.6,1237L435.7,1237.8L447.8,1241.1L452.2,1241.8L456.5,1242.2L462.6,1242.3L467.4,1241.9L469.7,1241L472.3,1239.5L474,1239L475.5,1239.3L478.1,1240.9L479,1241.1L480,1241L484.4,1239.5L489.4,1237.1L493.1,1235.1L498,1232L501.1,1230.7L503.4,1230.3L504.9,1230.8L506.4,1232L510.7,1236.8L513,1240.2L514.7,1241.6L517.2,1242.5L520.7,1243L524.5,1243.2L528.3,1243.2L531.6,1242.8L534.5,1242L537.3,1240.9L539.8,1239.6L542.1,1238.2L546.6,1233.5L547.4,1232.9L548.2,1232.7L549,1232.8L549.7,1233.3L552.4,1236.6L554,1238L556.8,1239.5L558.9,1240.4L562,1241L564,1240.7L568.1,1239L570,1238.5L571.6,1238.6L574.5,1239.5L576,1239.5L576.7,1239.3L578.2,1238.5L586.5,1233.1L588.4,1232.3L589.2,1232.2L590.7,1232.7L594.2,1235.6L595.8,1236.4L599.5,1237.7L601.3,1237.9L602.1,1237.8L603.7,1237.1L605.2,1236L608,1233L609.1,1231.2L611.5,1226L614.2,1220.8L615.3,1219.1L615.8,1218.6L616.4,1218.4L617,1218.6L618.1,1219.7L619.9,1222.7L621.5,1226.2L623.9,1233.6L625.5,1236.8L626.4,1238.1L627.5,1239L630.2,1240L633.2,1240.7L637,1241.2L652.8,1242.8L658.4,1243.1L661.5,1242.8L665.4,1242L667.7,1241.1L670,1240L672.3,1238.2L676.6,1233.7L677.6,1233L678.5,1232.7L679.3,1232.8L680.8,1233.8L684,1238L687.4,1241.1L689.1,1242.1L692.2,1243L700,1244L712.2,1247.3" fill="none" stroke="#d2691e" stroke-width="2.6" stroke-linejoin="round" stroke-linecap="round" />
<path d="M726.1,1188.6L745.2,1181.7L753.5,1179.7L755.6,1178.9L758.2,1177.3L766.8,1169.6L768.7,1168.2L769.5,1167.8L770.3,1167.7L771,1167.8L774.4,1169.8L775,1170L776.9,1170.1L778.7,1169.9L780.7,1169.2L782.1,1168.4L791.5,1162.3L793.2,1161.8L794.7,1162.3L798.2,1165.5L800.7,1167L803.4,1168.5L806,1169.5L807.6,1169.5L812,1168.5L814.6,1168.2L816.1,1168.3L819.6,1169.3L826.4,1172.5L830.2,1174.1L834,1175.2L838.2,1176L842.4,1176.5L846.2,1176.6L849.2,1176.3L851.5,1175.4L853.3,1174.2L858.8,1169.7L860.6,1168L862.4,1165.7L864.4,1162.7L866.5,1158.9L878.8,1134.2L881.4,1130L882.5,1128.8L883.4,1128.4L884.2,1128.7L885,1129.6L887.4,1134.9L891.3,1141L893,1143L894.2,1143.8L894.8,1143.6L896.5,1141.7L899.6,1136.9L912.2,1115.5L915.6,1108.7L918.6,1101.2L926.4,1077.8L928.8,1069.8L930.8,1060.2L934.7,1036.3L935.4,1032.9L936,1031.3L936.9,1029.5L938.1,1028.1L941.4,1025.2L942.4,1024.8L943,1024.2L943.9,1022.5L946.8,1014.7L948.6,1010.9L949.9,1008.9L951.2,1007.3L952.5,1006.3L953.7,1006L954.9,1006.3L955.5,1006.7L957.3,1008.9L960.3,1014.5L962.7,1020.5L965,1027.9L969.3,1047.2L971.9,1057.4L974.2,1065.4L975.6,1069.3L976.4,1070.8L978,1073L978.9,1073.7L980.6,1074.5L981.6,1075.6L982.1,1076.5L989.9,1095.7L992.1,1100L992.7,1100.6L993.3,1100.7L993.8,1100.6L995.6,1099.1L996.4,1099.1L997.1,1099.3L997.7,1099.8L999,1101.7L1003.5,1110.7L1005.7,1115.6L1008.8,1123.6L1010.6,1126.9L1012.4,1128.8L1014.1,1129.5L1015.3,1129.4L1016.3,1128.9L1017.9,1127.1L1019.6,1123.6L1020.9,1120.1L1024.5,1108.1L1027,1098.8L1028,1096L1029,1093.9L1030.1,1092.2L1031.1,1091.3L1031.6,1091.2L1032.1,1091.3L1032.6,1091.7L1033.6,1093L1034.5,1095.2L1035.5,1098.2L1036.5,1102.2L1039.5,1119.4L1041.5,1128.9L1043.5,1136.5L1044.5,1139.2L1045.8,1141.9L1046.7,1142.9L1047.7,1143.4L1048.2,1143.4L1049.2,1143.1L1050.3,1142.1L1052.6,1139L1055,1133.5L1056.3,1130.9L1057,1130L1058.5,1128.7L1060.2,1127.9L1061.9,1127.6L1063.4,1127.8L1064.6,1128.5L1066.3,1130.4L1068.7,1135.7L1074,1152L1077,1160.1L1079.2,1165.5L1080.7,1168.3L1082.9,1171.6L1085.2,1174L1086.9,1175.3L1089.8,1176.5L1094,1177.5L1100.8,1178.4L1103.3,1178.9L1113.3,1182.4L1122.7,1185.5L1126.9,1186.7L1131.2,1187.6L1135.7,1188L1140.4,1188.1L1152.5,1188L1184.4,1186.9L1207.2,1187.5L1215,1187.5L1258.1,1186.2" fill="none" stroke="#000" stroke-width="2.6" stroke-linejoin="round" stroke-linecap="round" />
<path d="M726.1,1247L748.2,1245.3L755.6,1244.3L759,1243.2L767.1,1238.6L768.7,1238.1L769.5,1238L771.1,1238.5L774.4,1240.7L776,1241.5L778.2,1242L780.3,1241.9L782.5,1241.1L787.2,1237.5L789.5,1236.2L791.7,1235.3L793.2,1235L794.6,1234.9L800,1236.3L803.8,1236.7L806.8,1236.5L809.8,1235.5L814.9,1232.5L820.5,1229.8L822.8,1228.9L824,1228.6L825.2,1228.6L827.6,1229.2L835,1233L842.1,1236.1L846,1237.3L848.9,1237.4L853,1236.6L858.2,1236.2L859.9,1235.6L862.2,1234.3L863.7,1233.1L865.2,1231.2L866.8,1228.4L871.2,1217.6L873,1214L874.8,1211.3L876.6,1209L878.4,1207.4L880.1,1206.7L880.9,1206.7L881.6,1207L882.4,1207.5L883.8,1209L886.8,1213.2L891.1,1220.6L893,1223L895.1,1224.8L897.3,1226.2L899.5,1227L900.6,1227.1L901.7,1226.9L903.8,1225.7L905.8,1223.7L908.9,1219.5L912.3,1214.6L915.8,1208.6L919.1,1202.5L921,1198.5L924.3,1190.5L926,1187L928.9,1182.4L931.9,1178.8L933.7,1177.5L934.5,1177.3L935.2,1177.5L936.5,1178.5L938.3,1180.5L941.2,1182.3L943.5,1183.4L945.1,1183.4L946.8,1182.6L948.6,1181.2L952.8,1177.2L957.2,1172.5L959.6,1171.1L962,1170.4L963.5,1170.3L965,1170.9L966.5,1172.1L969.3,1175.3L973.3,1179.1L974.9,1180.4L976.4,1181L977.1,1180.9L977.6,1180.6L981,1177L983.9,1175.3L987.6,1173.7L990.7,1172.7L994,1172.2L995.9,1172.1L998,1172.5L1000.7,1173.5L1003,1175L1009.1,1181.3L1013.3,1184.4L1014.9,1185.1L1015.6,1185.2L1017.1,1184.8L1018.5,1184L1019.9,1182.5L1021.3,1179.9L1022,1178L1023.5,1172.7L1027.3,1155L1030.9,1139.9L1032.4,1135.2L1033.1,1133.7L1033.8,1133L1034.5,1133.2L1035.2,1134.1L1035.8,1135.7L1037.2,1140.1L1039.6,1150.7L1043,1173L1045.2,1182L1046.3,1185.7L1047.7,1188.6L1048.5,1189.8L1050.2,1191.6L1052.1,1192.8L1054.7,1193.8L1056.1,1193.8L1060,1192L1063.2,1191.6L1064.5,1191.8L1065.7,1192.4L1066.9,1193.1L1068,1194.1L1069.3,1195.8L1070.8,1198.5L1076,1210.9L1081.4,1222.4L1083.8,1226.9L1086,1230.3L1087,1231.4L1089,1232.7L1120,1241L1130.2,1244.3L1134.6,1245L1137.3,1245.2L1146.8,1245.5L1160,1245.3L1166.1,1245L1180.7,1243.7L1185.6,1243.6L1197.3,1244.4L1210.4,1244.7L1233.8,1245L1258.1,1245" fill="none" stroke="#d2691e" stroke-width="2.6" stroke-linejoin="round" stroke-linecap="round" />
<path d="M93.3,1404.5L97.3,1404.4L99.8,1404.1L101.8,1403.6L105.8,1402.2L107.8,1401.9L109.8,1402.2L115.3,1404L118.8,1404.4L146.3,1404.5L151.8,1404.4L153.8,1404.1L155.8,1403.3L157.3,1402.5L161.3,1399.5L162.3,1399L163.3,1398.9L164.3,1399.1L165.3,1399.6L168.8,1402.2L170.8,1403.4L172.8,1404.1L175.3,1404.2L177.3,1403.7L179.3,1402.4L181.3,1400L184.8,1394.6L185.8,1393.7L186.8,1393.3L187.8,1393.6L188.8,1394.4L192.8,1400.4L194.8,1402.7L195.8,1403.4L197.3,1404L200.8,1404.5L233.8,1404.4L237.3,1403.8L242.8,1401.3L244.8,1401L246.8,1401.4L252.3,1403.8L254.3,1404.3L256.8,1404.4L333.8,1404.4L335.8,1404.2L337.8,1403.8L342.8,1401.6L344.8,1401L346.8,1401.2L351.3,1402.9L352.3,1403L353.3,1402.8L354.3,1402.4L355.8,1401.2L359.8,1396.7L360.8,1396.1L361.8,1395.9L362.8,1396.2L363.8,1396.9L367.8,1401.6L369.8,1403.2L371.8,1404L374.8,1404.4L391.3,1404.5L395.8,1404.2L398.8,1403.4L403.8,1400.6L405.8,1400.2L407.8,1400.7L412.8,1403.5L415.8,1404.3L421.3,1404.5L437.8,1404.3L439.8,1404L441.8,1403.2L443.3,1402.2L446.8,1399.3L448.8,1398.2L450.8,1397.7L455.8,1397.1L457.3,1397.3L458.8,1398L463.3,1402L465.3,1403.4L467.3,1404.1L469.3,1404.4L486.3,1404.5L492.8,1404.4L495.8,1403.9L500.8,1402.2L502.8,1401.9L504.8,1402.1L508.3,1403.1L510.3,1403.2L512.3,1402.6L516.3,1400.5L517.8,1400.2L519.8,1400.6L524.8,1403.4L527.8,1404.2L532.3,1404.5L544.8,1404.4L546.8,1404L548.3,1403.1L549.8,1401.3L550.8,1399.2L551.8,1396.2L552.8,1392.3L556.8,1372.2L557.8,1368.9L558.3,1367.9L558.8,1367.4L559.3,1367.5L559.8,1368.1L560.8,1370.7L561.8,1374.9L564.8,1390.5L566.3,1396.5L567.8,1400.5L569.3,1402.8L570.3,1403.6L571.3,1404L573.8,1404.4L591.3,1404.5L595.3,1404.3L596.8,1403.9L598.3,1403L599.3,1401.9L600.3,1400.4L601.8,1397.2L605.3,1387.2L606.3,1385.1L607.3,1383.9L607.8,1383.8L608.3,1383.9L609.3,1385.1L610.3,1387.1L612.8,1393.8L614.3,1396.6L614.8,1397L615.3,1397.1L615.8,1396.7L616.8,1394.7L617.8,1390.5L618.3,1387.5L619.3,1379.7L623.8,1329.2L624.8,1321.9L625.3,1319.9L625.8,1319L626.3,1319.4L626.8,1321L627.8,1327.5L628.8,1337.4L631.8,1373.1L633.3,1386.7L634.8,1395.1L635.3,1396.9L636.3,1399L636.8,1399.4L637.3,1399.5L637.8,1399.2L638.3,1398.7L639.3,1396.6L640.8,1391.7L643.3,1381.5L644.3,1378.1L645.3,1375.9L645.8,1375.3L646.3,1375.2L646.8,1375.5L647.3,1376.2L648.3,1378.7L651.8,1392.7L653.3,1397.7L654.8,1401L655.8,1402.5L656.8,1403.4L658.8,1404.2L662.3,1404.5L683.8,1404.5L686.3,1404.2L687.8,1403.8L688.8,1403.1L689.8,1402L690.8,1400.3L691.8,1397.9L693.3,1392.6L697.3,1374.5L698.3,1371.8L698.8,1371L699.3,1370.8L699.8,1371L700.3,1371.8L701.3,1374.5L705.3,1392.6L706.3,1396.3L707.3,1399.2L708.3,1401.2L709.8,1403.1L711.3,1404L712.8,1404.3" fill="none" stroke="#d2691e" stroke-width="2.4" stroke-linejoin="round" stroke-linecap="round" />
<path d="M726.5,1405.4L730.5,1404.9L732,1404.3L733.5,1403.4L736,1400.7L741,1393.2L742.5,1391.9L743.5,1391.5L744.5,1391.7L746,1392.8L747.5,1394.7L751,1400.1L752.5,1401.9L753.5,1402.9L754.5,1403.5L756,1404L757,1404L758,1403.7L759.5,1402.7L761.5,1400.4L767,1391.2L768.5,1389.8L769.5,1389.5L770.5,1389.8L772,1391.2L773.5,1393.5L777,1399.7L779,1402.4L780,1403.3L781.5,1404.3L784,1405.1L787.5,1405.5L794,1405.4L797,1405.1L799,1404.5L801,1403.3L802.5,1401.9L808,1395L809.5,1393.8L810.5,1393.5L811.5,1393.6L813,1394.6L814.5,1396.3L819,1402L821,1403.7L823,1404.7L825.5,1405.3L829,1405.5L840.5,1405.5L844.5,1405.1L846.5,1404.4L848,1403.4L849.5,1401.5L850.5,1399.8L852.5,1394.9L857.5,1378.9L859,1376.1L860,1375.5L860.5,1375.6L861,1375.9L862.5,1378.5L864,1382.7L868,1395.8L869,1398.3L870.5,1401.2L872,1403.2L873.5,1404.3L875.5,1405.1L877.5,1405.3L881,1405.3L884,1404.9L887,1403.8L891.5,1401.4L893.5,1400.5L895.5,1400.2L899.5,1400.1L901.5,1399.3L902.5,1398.5L904,1396.8L908.5,1390.5L912.5,1385.5L917.5,1377.5L919,1376L920,1375.8L921,1376.4L921.5,1377L923,1380L927.5,1393.9L929,1397.9L930,1400L931,1401.6L932.5,1403.3L934,1404.3L936,1404.8L937.5,1404.7L939,1404.4L945,1401.9L947.5,1401.5L950,1401.9L955.5,1404.2L958,1404.9L961.5,1405.3L964.5,1405.1L966.5,1404.6L968,1404L970,1402.8L974.5,1399.4L976,1398.7L977,1398.5L978,1398.6L979.5,1399.1L984.5,1402.8L986.5,1403.9L988.5,1404.5L990.5,1404.6L992.5,1404.3L999,1402.5L1001,1402.4L1004.5,1402.5L1006.5,1402.3L1008.5,1401.5L1013,1398.9L1015,1398.4L1016,1398.6L1017.5,1399.2L1022.5,1402.9L1024.5,1404L1026.5,1404.7L1028.5,1404.7L1030,1404.4L1031,1403.9L1033,1402.1L1035,1399.3L1038.5,1392.8L1040,1390.3L1041.5,1388.8L1042.5,1388.5L1043.5,1388.8L1045,1390.3L1046.5,1392.8L1050,1399.3L1051.5,1401.6L1052.5,1402.7L1053.5,1403.6L1055,1404.5L1056.5,1405L1058.5,1405.3L1062.5,1405.1L1065.5,1404.2L1068,1402.6L1073,1398.4L1074.5,1397.6L1075.5,1397.5L1076.5,1397.6L1078,1398.4L1083,1402.6L1085.5,1404.2L1088,1405L1091.5,1405.4L1258,1405.5" fill="none" stroke="#d2691e" stroke-width="2.4" stroke-linejoin="round" stroke-linecap="round" />
<path d="M93.3,1492.6L100.3,1492.5L103.3,1491.9L105.8,1490.4L110.3,1486L111.3,1485.5L112.3,1485.3L113.3,1485.6L114.3,1486.2L117.8,1489.6L119.3,1490.9L120.8,1491.7L122.8,1492.3L125.3,1492.5L127.8,1492.3L133.8,1490.9L135.8,1490.6L137.8,1490.8L142.3,1492L144.8,1492.4L148.8,1492.5L151.8,1492.3L153.8,1491.6L155.8,1489.9L157.3,1487.9L161.3,1481L162.3,1480L163.3,1479.7L164.3,1480.1L165.3,1481.2L169.3,1488.2L171.3,1490.7L172.3,1491.4L173.8,1492L174.8,1492.2L176.3,1492.1L178.3,1491.3L179.3,1490.4L180.3,1489.2L181.8,1486.5L185.8,1477.2L186.8,1475.8L187.8,1475.3L188.8,1475.8L189.8,1477.2L193.8,1486.5L195.8,1489.9L196.8,1490.9L197.8,1491.6L199.3,1492.2L200.8,1492.5L208.3,1492.6L212.8,1492.4L215.8,1491.7L220.3,1489.9L222.3,1489.6L224.3,1489.9L228.8,1491.7L231.8,1492.4L237.3,1492.6L247.8,1492.5L251.3,1491.8L255.8,1490L257.3,1489.6L258.8,1489.5L261.8,1489.8L263.3,1489.6L264.8,1489.1L268.8,1486.6L270.8,1486.2L274.8,1486.8L278.8,1486.2L280.3,1486.3L282.3,1487.4L285.8,1490.3L287.3,1491.3L289.3,1492.1L291.8,1492.5L349.8,1492.5L352.8,1492L354.8,1491L356.8,1489L360.8,1483.9L361.8,1483.3L362.8,1483.1L363.8,1483.5L364.8,1484.3L368.3,1488.9L369.8,1490.5L371.3,1491.5L372.8,1492.1L374.3,1492.4L376.8,1492.6L392.8,1492.5L394.3,1492.3L395.8,1491.9L397.3,1490.9L398.3,1489.8L399.3,1488.2L400.3,1486.1L403.8,1476.4L404.8,1474.1L405.8,1472.7L406.3,1472.4L406.8,1472.3L407.8,1473.1L408.8,1474.9L412.3,1484.7L413.8,1488.1L414.8,1489.7L416.3,1491.3L417.8,1492.1L420.3,1492.5L433.8,1492.5L435.3,1492.2L436.8,1491.7L438.3,1490.5L439.3,1489.3L440.8,1486.7L444.3,1479L445.8,1476.7L446.3,1476.2L447.3,1475.9L450.3,1476.9L451.3,1476.7L451.8,1476.2L453.3,1473.4L456.8,1462.9L457.8,1461.4L458.3,1461.2L458.8,1461.4L459.3,1462.1L460.3,1464.5L464.3,1481.2L466.3,1487.5L467.3,1489.4L468.8,1491.2L470.3,1492.1L471.8,1492.4L476.3,1492.6L491.8,1492.5L493.8,1492.2L495.8,1491.6L500.3,1489.1L502.3,1488.3L504.3,1488.5L507.3,1489.4L508.8,1489.4L510.3,1488.3L511.3,1486.8L512.8,1483.6L515.8,1476L516.8,1474.4L517.8,1473.6L518.3,1473.6L518.8,1473.9L519.8,1475.3L524.8,1487.6L526.3,1490L527.8,1491.4L529.8,1492.3L532.3,1492.5L540.8,1492.5L543.8,1492.1L544.8,1491.6L545.8,1490.7L546.8,1489.5L547.8,1487.5L549.8,1481.6L553.3,1468.3L554.3,1465.7L554.8,1465L555.3,1464.6L555.8,1464.7L556.3,1465.1L557.3,1467.1L558.3,1470.3L561.3,1482L562.8,1486.6L563.8,1488.7L564.8,1490.2L565.8,1491.1L566.8,1491.6L568.3,1491.6L569.8,1491L571.3,1489.8L575.3,1486L576.3,1485.4L577.3,1485.3L578.3,1485.6L579.3,1486.3L583.8,1490.6L586.3,1492L588.3,1492.4L591.3,1492.6L594.8,1492.5L597.3,1492.1L598.8,1491.5L600.3,1490.3L601.8,1488.5L605.8,1482.2L606.8,1481.2L607.8,1480.9L608.8,1481.2L609.8,1482.2L613.3,1487.7L614.8,1489.7L616.3,1490.9L617.8,1491.5L619.8,1491.4L624.3,1489.8L626.3,1489.6L628.3,1490.1L633.3,1492L634.8,1492.2L636.8,1492.3L639.8,1491.7L644.3,1489.9L646.3,1489.6L648.3,1490L653.8,1492L655.8,1492.3L657.3,1492.3L659.3,1491.7L661.3,1490.2L663.3,1487.4L666.3,1481.6L667.3,1480L668.3,1479.1L669.3,1478.8L670.3,1479.4L671.3,1480.6L675.3,1488.1L677.3,1490.6L678.8,1491.7L680.3,1492.2L682.3,1492.5L684.8,1492.4L687.3,1491.7L689.3,1490.2L691.3,1487.4L694.3,1481.6L695.3,1480L696.3,1479.1L697.3,1478.8L698.3,1479.4L699.3,1480.6L703.3,1488.1L705.3,1490.6L706.8,1491.7L708.3,1492.2L712.8,1492.6" fill="none" stroke="#808080" stroke-width="2.4" stroke-linejoin="round" stroke-linecap="round" />
<path d="M726.5,1492.5L729.5,1492.2L732,1491.6L734,1490.7L738.5,1488.3L741,1487.6L742.5,1487.7L744,1488.2L749,1490.8L751.5,1491.8L754.5,1492.1L757,1491.6L759,1490.5L760.5,1489.1L762.5,1486.4L765.5,1481.4L767,1479.2L768.5,1477.9L769.5,1477.6L770.5,1477.9L772,1479.2L778,1488.5L779.5,1490.1L781.5,1491.5L783,1492L784.5,1492.3L790,1492.6L794.5,1492.3L796,1491.9L797,1491.4L798.5,1490L799.5,1488.6L801,1485.3L802,1482.2L804,1473.7L808.5,1449.6L810,1444.6L810.5,1443.7L811,1443.2L811.5,1443.1L812,1443.5L812.5,1444.4L814,1449.2L818.5,1473.2L820,1480L821,1483.5L822,1486.3L823.5,1489.2L825,1490.9L827,1492L829,1492.3L831,1492.2L833,1491.6L834.5,1490.8L836,1489.4L837.5,1487.6L842,1480.1L844,1477.6L845.5,1476.6L849,1475.9L850.5,1474.7L852,1471.8L853,1468.9L857,1452.6L858,1449.3L859,1447.1L859.5,1446.5L860,1446.3L860.5,1446.5L861,1447.1L861.5,1448.1L862.5,1451.1L864,1457.6L867.5,1475.5L869,1481.6L870,1484.7L871,1487.2L872.5,1489.7L874,1491.2L875.5,1491.9L877.5,1492.3L880,1492.3L882,1491.9L884,1491L885.5,1489.9L887,1488.3L892,1481.3L893.5,1480L894.5,1479.6L896,1479.9L897.5,1481.2L902,1487.4L904,1489.5L905.5,1490.4L906.5,1490.6L907.5,1490.4L908.5,1489.8L909.5,1488.8L910.5,1487.3L912,1484.1L913.5,1479.8L916.5,1469.4L918,1464.9L919.5,1462.2L920,1461.7L920.5,1461.6L921,1461.7L921.5,1462.2L923,1464.9L924.5,1469.4L928,1481.4L930,1486.5L931,1488.3L932,1489.7L933,1490.6L934,1491.2L936,1491.6L938,1491.2L940,1490.2L945,1486.7L946.5,1486.1L947.5,1486L948.5,1486.1L950,1486.7L954.5,1489.9L956.5,1491.1L958.5,1491.8L960.5,1492.2L963.5,1492.2L966,1491.6L968,1490.8L972.5,1488.3L975,1487.6L976,1487.6L977.5,1487.9L983,1490.4L984,1490.5L985,1490.3L986.5,1489.2L988,1486.6L989.5,1481.8L990.5,1477L991.5,1470.9L993,1459.1L997.5,1416.6L999,1407.7L999.5,1406L1000,1405.1L1000.5,1405L1001,1405.7L1001.5,1407.1L1003,1415.4L1008,1459.9L1009.5,1469.8L1011,1476.6L1012.5,1480.8L1013.5,1482.5L1014.5,1483.7L1021.5,1489.4L1023.5,1490.7L1025,1491.4L1027,1491.9L1028.5,1491.9L1030.5,1491.3L1032,1490.3L1033,1489.3L1034.5,1487.4L1040,1477.9L1041.5,1476.4L1042.5,1476.1L1043.5,1476.4L1045,1477.9L1046.5,1480.2L1050,1486.6L1052,1489.4L1053,1490.3L1054.5,1491.4L1056,1492L1058,1492.3L1060,1492.4L1062,1492.1L1064,1491.4L1065.5,1490.5L1068,1488.1L1073,1481.4L1074.5,1480.3L1075.5,1480.1L1076.5,1480.3L1078,1481.4L1083,1488.1L1085.5,1490.5L1088,1491.9L1091.5,1492.5L1258,1492.6" fill="none" stroke="#808080" stroke-width="2.4" stroke-linejoin="round" stroke-linecap="round" />
<path d="M93.3,1579L96.3,1578.7L98.3,1578.2L99.8,1577.5L103.8,1575.2L105.8,1574.7L107.8,1575.2L112.3,1577.7L114.8,1578.6L118.8,1579L124.3,1578.8L126.3,1578.4L127.8,1577.7L129.3,1576.7L133.3,1573.5L134.3,1573.1L135.3,1573L136.3,1573.2L137.3,1573.8L140.8,1576.7L142.3,1577.7L143.8,1578.3L145.8,1578.8L149.8,1579L154.3,1578.8L156.8,1578.4L161.3,1577.2L163.3,1577L165.3,1577.2L171.3,1578.7L174.3,1578.9L176.8,1578.8L178.8,1578.3L180.8,1577.2L182.8,1575.1L185.8,1570.7L186.8,1569.5L187.8,1568.8L188.8,1568.6L189.8,1569L190.8,1570L194.3,1574.9L195.8,1576.7L197.3,1577.8L199.3,1578.6L201.3,1578.9L204.3,1579L231.8,1578.9L234.8,1578.4L236.8,1577.3L238.8,1575.2L242.8,1569.6L243.8,1568.8L244.8,1568.6L245.8,1569L246.8,1569.8L250.3,1574.8L252.3,1577L254.3,1578.3L256.8,1578.8L263.3,1578.9L266.8,1578.5L269.3,1577.4L273.8,1573.6L275.8,1572.4L277.3,1572.1L283.8,1571.7L285.3,1572L286.8,1572.9L290.8,1576.5L292.3,1577.6L294.3,1578.5L296.3,1578.8L301.8,1579L348.8,1578.9L350.3,1578.8L351.8,1578.3L353.3,1577.4L354.3,1576.4L355.3,1574.9L356.3,1573L359.8,1563.8L360.8,1561.7L361.8,1560.3L362.3,1560L362.8,1560L363.8,1560.8L364.8,1562.5L368.8,1572.7L370.8,1576.3L371.8,1577.3L373.3,1578.3L374.8,1578.7L376.8,1578.9L433.3,1579L438.8,1578.7L440.8,1578.2L442.3,1577.6L447.8,1573.7L451.8,1571.8L453.3,1570.6L456.3,1567.7L457.8,1566.9L458.8,1567.1L460.3,1568.3L464.3,1574.7L466.3,1577.1L468.3,1578.3L470.3,1578.8L473.8,1579L487.3,1579L492.8,1578.7L494.3,1578.3L495.8,1577.6L500.8,1573.7L501.8,1573.2L502.8,1573L503.8,1573.1L504.8,1573.6L508.8,1576.8L510.3,1577.8L511.8,1578.4L513.3,1578.7L518.3,1579L542.3,1578.9L545.3,1578.3L546.8,1577.4L547.8,1576.5L549.8,1573.6L553.3,1567L554.3,1565.8L555.3,1565.2L556.3,1565.5L557.3,1566.4L558.3,1568L561.3,1573.8L562.8,1576L564.3,1577.4L565.3,1577.9L566.3,1578L567.3,1577.8L568.3,1577.2L569.8,1575.5L571.3,1572.9L574.3,1566.2L575.3,1564.4L576.3,1563.3L577.3,1563L578.3,1563.7L579.3,1565.1L582.8,1572.7L584.8,1576.1L585.8,1577.2L586.8,1577.9L588.3,1578.6L589.8,1578.8L594.8,1579L598.8,1578.7L601.3,1578.1L605.8,1576.3L607.8,1576L609.8,1576.3L614.8,1578.1L617.3,1578.3L619.8,1577.5L623.8,1575.2L625.8,1574.7L627.8,1575.1L631.8,1577.4L633.3,1578.1L634.8,1578.4L636.3,1578.5L637.8,1578.1L639.3,1577.5L644.3,1573.6L645.3,1573.1L646.3,1573L647.3,1573.2L648.3,1573.7L651.8,1576.6L653.8,1577.9L655.8,1578.5L657.8,1578.6L659.8,1577.9L661.8,1576.3L663.3,1574.3L666.3,1569L667.3,1567.6L668.3,1566.7L669.3,1566.5L670.3,1567L671.3,1568.1L675.3,1574.9L677.3,1577.2L678.8,1578.2L680.3,1578.7L682.3,1578.9L684.8,1578.8L687.3,1578.2L689.3,1576.8L691.3,1574.1L694.3,1568.6L695.3,1567.2L696.3,1566.2L697.3,1566L698.3,1566.5L699.3,1567.7L703.3,1574.7L705.3,1577.1L706.8,1578.1L708.3,1578.7L712.8,1579" fill="none" stroke="#808080" stroke-width="2.4" stroke-linejoin="round" stroke-linecap="round" />
<path d="M726.5,1579.1L728.5,1578.8L730,1578.2L731.5,1577.3L732.5,1576.4L735,1573L738.5,1566.5L740,1564.2L741.5,1562.7L742.5,1562.5L743.5,1562.9L745,1564.4L749.5,1572.5L751.5,1575.5L753.5,1577.4L755.5,1578.3L757.5,1578.5L760,1577.7L762,1576.5L767,1572.5L768.5,1571.8L769.5,1571.7L770.5,1571.8L772,1572.5L778,1577.2L779.5,1578L781.5,1578.7L785,1579.2L791.5,1579.3L795,1579L797,1578.3L798.5,1577.3L799.5,1576.1L801,1573.6L802,1571.1L804,1564.4L808.5,1545.5L810,1541.6L811,1540.5L811.5,1540.4L812,1540.7L812.5,1541.4L814,1545.2L818.5,1564L820,1569.4L821,1572.2L822.5,1575.2L824,1577.2L825.5,1578.3L827.5,1579L831.5,1579.3L842.5,1579.2L845.5,1578.9L848,1577.9L850,1576.2L852,1573.2L857.5,1561.8L859,1559.9L860,1559.5L861,1559.8L862.5,1561.5L864,1564.2L867.5,1571.9L869.5,1575.3L871.5,1577.4L873.5,1578.5L876,1579.1L879.5,1579L882,1578.4L884,1577.3L885.5,1575.8L887,1573.8L892,1565L893.5,1563.3L894.5,1562.8L895,1562.8L896,1563.2L897.5,1564.8L902,1572.7L904,1575.4L905,1576.3L906,1576.8L907.5,1576.8L909,1576L910.5,1574.3L912.5,1570.6L915.5,1563.7L917,1560.7L918.5,1558.9L919.5,1558.5L920.5,1558.9L922,1560.7L923.5,1563.7L926.5,1570.7L928.5,1574.5L930,1576.4L932,1578L933,1578.4L934.5,1578.6L936,1578.4L937.5,1578L940,1576.5L945,1572.5L946.5,1571.8L947.5,1571.7L948.5,1571.8L950,1572.5L955,1576.5L957,1577.7L959,1578.3L961,1578.1L962.5,1577.3L963.5,1576.3L965,1573.9L966,1571.6L968,1565.2L971.5,1550.1L973,1544.5L974.5,1541.1L975,1540.6L975.5,1540.4L976,1540.6L976.5,1541.1L978,1544.5L979.5,1550.1L982.5,1563L984,1568.1L985.5,1571.3L986.5,1572.3L987,1572.4L987.5,1572.2L988,1571.7L989,1569.8L990,1566.6L991,1562L993,1548.5L997.5,1509.6L999,1501.1L1000,1498.3L1000.5,1497.9L1001,1498.1L1002,1500.3L1003,1504.3L1006,1519.5L1007,1522.9L1007.5,1523.9L1008,1524.4L1008.5,1524.5L1009,1524.1L1010,1522.1L1013,1512.1L1014,1510.1L1014.5,1509.6L1015,1509.7L1015.5,1510.3L1016,1511.3L1017,1515.1L1018,1520.6L1022.5,1553.9L1024.5,1565.4L1025.5,1569.5L1027,1573.8L1028,1575.5L1029.5,1576.8L1030.5,1576.9L1031.5,1576.6L1032.5,1575.9L1033.5,1574.7L1035.5,1571.4L1038.5,1565L1040,1562.2L1041.5,1560.5L1042.5,1560.2L1043.5,1560.5L1045,1562.2L1046.5,1565L1050,1572.4L1052,1575.5L1053,1576.7L1054.5,1577.9L1056,1578.6L1058,1579L1060,1579.1L1062,1578.8L1064,1578.1L1065.5,1577.2L1068,1574.8L1073,1568.1L1074.5,1567L1075.5,1566.8L1076.5,1567L1078,1568.1L1083,1574.8L1085.5,1577.2L1088,1578.6L1091.5,1579.2L1258,1579.3" fill="none" stroke="#808080" stroke-width="2.4" stroke-linejoin="round" stroke-linecap="round" />
<path d="M93.3,1665.2L98.3,1664.9L103.8,1663.9L105.8,1663.7L107.8,1663.9L112.3,1664.8L114.8,1665.1L124.3,1665.1L127.8,1664.6L133.3,1662.5L135.3,1662.2L137.3,1662.6L142.3,1664.5L145.8,1665.1L176.3,1665.1L178.8,1664.7L180.8,1663.9L182.8,1662.4L186.8,1658.6L187.8,1658L188.8,1657.9L189.8,1658.2L190.8,1658.9L194.3,1662.3L195.8,1663.6L197.3,1664.4L199.3,1664.9L204.3,1665.2L231.8,1665.1L234.8,1664.6L236.8,1663.5L238.8,1661.4L242.8,1655.8L243.8,1655L244.8,1654.8L245.8,1655.2L246.8,1656L250.3,1661L252.3,1663.2L254.3,1664.5L256.8,1665L263.3,1665.2L267.3,1664.9L268.8,1664.5L270.3,1663.8L274.8,1660.8L276.3,1660.1L278.3,1659.9L282.3,1660.3L286.3,1659.9L287.3,1660L288.8,1660.6L292.8,1663.3L294.3,1664.1L296.3,1664.8L298.3,1665.1L304.8,1665.2L348.8,1665.1L350.3,1664.9L351.8,1664.4L353.3,1663.3L354.3,1662L355.3,1660.2L356.3,1657.8L359.8,1646.6L360.8,1644L361.8,1642.3L362.3,1642L362.8,1641.9L363.8,1642.8L364.8,1644.9L368.3,1656.1L370.3,1661L371.3,1662.6L372.8,1664L374.3,1664.8L375.8,1665L380.8,1665.2L395.8,1665.1L398.8,1664.7L403.8,1663.4L405.8,1663.2L407.8,1663.4L412.8,1664.7L416.3,1665.1L436.8,1665.2L441.8,1664.8L443.8,1664.2L445.8,1663.2L447.8,1661.9L449.8,1660.1L451.3,1658.1L452.3,1656.4L456.3,1648.3L457.3,1647.1L458.3,1646.7L459.3,1647.3L460.3,1648.8L464.3,1658.6L466.3,1662.2L467.3,1663.4L468.3,1664.1L469.3,1664.6L470.8,1665L475.3,1665.2L492.8,1665.1L495.8,1664.7L500.8,1663.4L502.8,1663.2L504.8,1663.4L510.3,1664.8L513.8,1665.1L538.3,1665.2L542.8,1665L544.3,1664.6L545.3,1664.1L546.3,1663.3L547.3,1662.2L548.8,1659.8L552.8,1652L553.8,1650.8L554.8,1650.5L555.8,1651L556.8,1652.3L560.3,1659.2L562.3,1662.4L563.8,1663.7L564.8,1664.1L565.8,1664.2L566.8,1663.8L567.8,1663.1L569.3,1660.9L571.3,1655.9L574.3,1645.6L575.3,1642.8L576.3,1641.1L576.8,1640.7L577.3,1640.6L577.8,1640.9L578.3,1641.6L579.3,1643.8L582.8,1655.6L584.8,1660.8L585.8,1662.4L586.8,1663.6L588.3,1664.5L589.8,1665L594.3,1665.2L633.8,1665.1L637.8,1664.6L643.3,1662.5L645.3,1662.2L647.3,1662.5L652.8,1664.6L654.8,1664.9L656.8,1664.7L657.8,1664.3L658.8,1663.6L659.8,1662.5L660.8,1661L662.3,1657.8L665.3,1649.3L666.3,1646.9L667.3,1645.4L667.8,1645L668.3,1644.9L669.3,1645.6L670.3,1647.3L673.8,1657L675.3,1660.5L676.8,1662.8L677.8,1663.8L678.8,1664.4L680.8,1665L683.3,1665.1L685.3,1664.8L687.3,1663.9L688.8,1662.5L689.8,1661.1L694.3,1652.9L695.3,1651.8L696.3,1651.4L697.3,1651.8L698.3,1652.9L702.3,1660.3L703.3,1661.8L704.8,1663.5L706.3,1664.4L707.8,1664.9L712.8,1665.2" fill="none" stroke="#000" stroke-width="2.4" stroke-linejoin="round" stroke-linecap="round" />
<path d="M726.5,1665L732.5,1664.7L740,1663.6L742.5,1663.4L745,1663.6L752,1664.7L756.5,1665L792.5,1665L798.5,1664.7L801,1664L803.5,1662.5L805.5,1660.3L809,1655.5L810.5,1653.7L812,1652.7L813,1652.5L814,1652.8L815.5,1653.9L820.5,1660.6L823,1663L824.5,1663.9L826,1664.4L829.5,1664.9L842,1665L848,1664.8L852,1664.2L857.5,1662.7L860,1662.4L862.5,1662.7L869.5,1664.5L875,1665L884,1664.8L887,1664.3L892,1663.3L894.5,1663L897.5,1663.2L904,1664.5L908.5,1664.7L912,1664.3L917.5,1663L920,1662.8L922.5,1663L929,1664.5L933,1664.9L954,1665L960,1664.8L962,1664.5L963.5,1663.9L965,1663.1L966,1662.2L968,1659.9L973,1652.3L974.5,1651.1L975.5,1650.8L976.5,1651.1L978,1652.3L982,1658.2L983.5,1660L985,1660.9L986,1660.9L987,1660.1L987.5,1659.4L988.5,1657.3L990,1651.9L991,1646.6L993,1631.8L997.5,1589.5L999,1580.4L1000,1577.6L1000.5,1577.3L1001,1577.7L1001.5,1578.8L1002.5,1582.8L1006.5,1608.8L1008,1615.6L1009,1617.9L1009.5,1618.4L1010,1618.6L1011,1618L1013,1615.2L1014,1614.3L1014.5,1614.2L1015,1614.4L1016,1615.9L1017,1618.7L1018,1622.8L1022.5,1646.8L1024.5,1655.1L1025.5,1658L1027,1661.1L1028.5,1663L1030,1663.9L1031.5,1664.1L1033.5,1663.9L1035.5,1663.2L1040,1661.2L1042.5,1660.7L1045,1661.2L1050,1663.4L1052.5,1664.3L1055,1664.7L1058.5,1664.9L1065.5,1664.7L1073,1663.2L1075.5,1663L1078,1663.2L1085.5,1664.7L1091.5,1665L1258,1665" fill="none" stroke="#000" stroke-width="2.4" stroke-linejoin="round" stroke-linecap="round" />
<path d="M302.5,992.8 L302.5,1259.7 L245.6,1276.9 L245.6,1673.9" fill="none" stroke="rgb(110,170,68)" stroke-opacity="0.5" stroke-width="6" stroke-linejoin="miter"/>
<path d="M332.2,992.8 L332.2,1259.7 L282.7,1276.9 L282.7,1673.9" fill="none" stroke="rgb(236,121,45)" stroke-opacity="0.5" stroke-width="6" stroke-linejoin="miter"/>
<path d="M592.4,992.8 L592.4,1259.7 L561,1276.9 L561,1673.9" fill="none" stroke="rgb(236,121,45)" stroke-opacity="0.5" stroke-width="6" stroke-linejoin="miter"/>
<path d="M623.5,992.8 L623.5,1259.7 L625.9,1276.9 L625.9,1673.9" fill="none" stroke="rgb(110,170,68)" stroke-opacity="0.5" stroke-width="6" stroke-linejoin="miter"/>
<path d="M945.5,992.8 L967.7,992.8 L967.7,1259.7 L1020.9,1276.9 L1020.9,1673.9 L994.2,1673.9 L994.2,1276.9 L945.5,1259.7 Z" fill="rgb(236,121,45)" fill-opacity="0.5" stroke="none"/>
<path d="M1034.2,992.8 L1034.2,1259.7 L1044,1276.9 L1044,1673.9" fill="none" stroke="rgb(110,170,68)" stroke-opacity="0.5" stroke-width="6"/>
<line x1="186" y1="1259.7" x2="186" y2="1252.7" stroke="#000" stroke-width="2.4" />
<line x1="217.1" y1="1259.7" x2="217.1" y2="1247.7" stroke="#000" stroke-width="2.4" />
<line x1="248.2" y1="1259.7" x2="248.2" y2="1252.7" stroke="#000" stroke-width="2.4" />
<line x1="279.3" y1="1259.7" x2="279.3" y2="1252.7" stroke="#000" stroke-width="2.4" />
<line x1="310.4" y1="1259.7" x2="310.4" y2="1252.7" stroke="#000" stroke-width="2.4" />
<line x1="341.5" y1="1259.7" x2="341.5" y2="1247.7" stroke="#000" stroke-width="2.4" />
<line x1="372.6" y1="1259.7" x2="372.6" y2="1252.7" stroke="#000" stroke-width="2.4" />
<line x1="403.7" y1="1259.7" x2="403.7" y2="1252.7" stroke="#000" stroke-width="2.4" />
<line x1="434.8" y1="1259.7" x2="434.8" y2="1252.7" stroke="#000" stroke-width="2.4" />
<line x1="465.9" y1="1259.7" x2="465.9" y2="1247.7" stroke="#000" stroke-width="2.4" />
<line x1="497" y1="1259.7" x2="497" y2="1252.7" stroke="#000" stroke-width="2.4" />
<line x1="528.1" y1="1259.7" x2="528.1" y2="1252.7" stroke="#000" stroke-width="2.4" />
<line x1="559.2" y1="1259.7" x2="559.2" y2="1252.7" stroke="#000" stroke-width="2.4" />
<line x1="590.3" y1="1259.7" x2="590.3" y2="1247.7" stroke="#000" stroke-width="2.4" />
<line x1="621.4" y1="1259.7" x2="621.4" y2="1252.7" stroke="#000" stroke-width="2.4" />
<line x1="652.5" y1="1259.7" x2="652.5" y2="1252.7" stroke="#000" stroke-width="2.4" />
<line x1="683.6" y1="1259.7" x2="683.6" y2="1252.7" stroke="#000" stroke-width="2.4" />
<line x1="770.15" y1="1259.7" x2="770.15" y2="1252.7" stroke="#000" stroke-width="2.4" />
<line x1="814.5" y1="1259.7" x2="814.5" y2="1252.7" stroke="#000" stroke-width="2.4" />
<line x1="858.85" y1="1259.7" x2="858.85" y2="1252.7" stroke="#000" stroke-width="2.4" />
<line x1="903.2" y1="1259.7" x2="903.2" y2="1247.7" stroke="#000" stroke-width="2.4" />
<line x1="947.55" y1="1259.7" x2="947.55" y2="1252.7" stroke="#000" stroke-width="2.4" />
<line x1="991.9" y1="1259.7" x2="991.9" y2="1252.7" stroke="#000" stroke-width="2.4" />
<line x1="1036.25" y1="1259.7" x2="1036.25" y2="1252.7" stroke="#000" stroke-width="2.4" />
<line x1="1080.6" y1="1259.7" x2="1080.6" y2="1247.7" stroke="#000" stroke-width="2.4" />
<line x1="1124.95" y1="1259.7" x2="1124.95" y2="1252.7" stroke="#000" stroke-width="2.4" />
<line x1="1169.3" y1="1259.7" x2="1169.3" y2="1252.7" stroke="#000" stroke-width="2.4" />
<line x1="1213.65" y1="1259.7" x2="1213.65" y2="1252.7" stroke="#000" stroke-width="2.4" />
<line x1="92.8" y1="1052" x2="102.8" y2="1052" stroke="#000" stroke-width="2.4" />
<line x1="726" y1="1052" x2="736" y2="1052" stroke="#000" stroke-width="2.4" />
<line x1="92.8" y1="1126.3" x2="102.8" y2="1126.3" stroke="#000" stroke-width="2.4" />
<line x1="726" y1="1126.3" x2="736" y2="1126.3" stroke="#000" stroke-width="2.4" />
<line x1="92.8" y1="1200.3" x2="102.8" y2="1200.3" stroke="#000" stroke-width="2.4" />
<line x1="726" y1="1200.3" x2="736" y2="1200.3" stroke="#000" stroke-width="2.4" />
<line x1="127.4" y1="1673.9" x2="127.4" y2="1666.9" stroke="#000" stroke-width="2.4" />
<line x1="161.9" y1="1673.9" x2="161.9" y2="1661.9" stroke="#000" stroke-width="2.4" />
<line x1="196.4" y1="1673.9" x2="196.4" y2="1666.9" stroke="#000" stroke-width="2.4" />
<line x1="230.9" y1="1673.9" x2="230.9" y2="1666.9" stroke="#000" stroke-width="2.4" />
<line x1="265.4" y1="1673.9" x2="265.4" y2="1666.9" stroke="#000" stroke-width="2.4" />
<line x1="299.9" y1="1673.9" x2="299.9" y2="1661.9" stroke="#000" stroke-width="2.4" />
<line x1="334.4" y1="1673.9" x2="334.4" y2="1666.9" stroke="#000" stroke-width="2.4" />
<line x1="368.9" y1="1673.9" x2="368.9" y2="1666.9" stroke="#000" stroke-width="2.4" />
<line x1="403.4" y1="1673.9" x2="403.4" y2="1666.9" stroke="#000" stroke-width="2.4" />
<line x1="437.9" y1="1673.9" x2="437.9" y2="1661.9" stroke="#000" stroke-width="2.4" />
<line x1="472.4" y1="1673.9" x2="472.4" y2="1666.9" stroke="#000" stroke-width="2.4" />
<line x1="506.9" y1="1673.9" x2="506.9" y2="1666.9" stroke="#000" stroke-width="2.4" />
<line x1="541.4" y1="1673.9" x2="541.4" y2="1666.9" stroke="#000" stroke-width="2.4" />
<line x1="575.9" y1="1673.9" x2="575.9" y2="1661.9" stroke="#000" stroke-width="2.4" />
<line x1="610.4" y1="1673.9" x2="610.4" y2="1666.9" stroke="#000" stroke-width="2.4" />
<line x1="644.9" y1="1673.9" x2="644.9" y2="1666.9" stroke="#000" stroke-width="2.4" />
<line x1="679.4" y1="1673.9" x2="679.4" y2="1666.9" stroke="#000" stroke-width="2.4" />
<line x1="770.15" y1="1673.9" x2="770.15" y2="1666.9" stroke="#000" stroke-width="2.4" />
<line x1="814.5" y1="1673.9" x2="814.5" y2="1666.9" stroke="#000" stroke-width="2.4" />
<line x1="858.85" y1="1673.9" x2="858.85" y2="1666.9" stroke="#000" stroke-width="2.4" />
<line x1="903.2" y1="1673.9" x2="903.2" y2="1661.9" stroke="#000" stroke-width="2.4" />
<line x1="947.55" y1="1673.9" x2="947.55" y2="1666.9" stroke="#000" stroke-width="2.4" />
<line x1="991.9" y1="1673.9" x2="991.9" y2="1666.9" stroke="#000" stroke-width="2.4" />
<line x1="1036.25" y1="1673.9" x2="1036.25" y2="1666.9" stroke="#000" stroke-width="2.4" />
<line x1="1080.6" y1="1673.9" x2="1080.6" y2="1661.9" stroke="#000" stroke-width="2.4" />
<line x1="1124.95" y1="1673.9" x2="1124.95" y2="1666.9" stroke="#000" stroke-width="2.4" />
<line x1="1169.3" y1="1673.9" x2="1169.3" y2="1666.9" stroke="#000" stroke-width="2.4" />
<line x1="1213.65" y1="1673.9" x2="1213.65" y2="1666.9" stroke="#000" stroke-width="2.4" />
<line x1="92.8" y1="1319" x2="102.8" y2="1319" stroke="#000" stroke-width="2.4" />
<line x1="726" y1="1319" x2="736" y2="1319" stroke="#000" stroke-width="2.4" />
<line x1="92.8" y1="1405.4" x2="102.8" y2="1405.4" stroke="#000" stroke-width="2.4" />
<line x1="726" y1="1405.4" x2="736" y2="1405.4" stroke="#000" stroke-width="2.4" />
<line x1="92.8" y1="1492.6" x2="102.8" y2="1492.6" stroke="#000" stroke-width="2.4" />
<line x1="726" y1="1492.6" x2="736" y2="1492.6" stroke="#000" stroke-width="2.4" />
<line x1="92.8" y1="1579" x2="102.8" y2="1579" stroke="#000" stroke-width="2.4" />
<line x1="726" y1="1579" x2="736" y2="1579" stroke="#000" stroke-width="2.4" />
<rect x="92.8" y="993.8" width="66.89999999999999" height="265.9000000000001" fill="rgb(204,204,204)" fill-opacity="0.5"/>
<rect x="92.8" y="993.8" width="620.8" height="265.9" stroke="#000" stroke-width="2.6" fill="none" />
<rect x="726" y="993.8" width="532.2" height="265.9" stroke="#000" stroke-width="2.6" fill="none" />
<rect x="92.8" y="1276.9" width="620.6" height="397" stroke="#000" stroke-width="2.6" fill="none" />
<rect x="726" y="1276.9" width="532.2" height="397" stroke="#000" stroke-width="2.6" fill="none" />
<text x="158.4" y="1710" font-size="29.5" text-anchor="middle" fill="#000" font-weight="normal" font-style="normal" font-family='"Liberation Sans", Arial, Helvetica, sans-serif' >400</text>
<text x="302.8" y="1710" font-size="29.5" text-anchor="middle" fill="#000" font-weight="normal" font-style="normal" font-family='"Liberation Sans", Arial, Helvetica, sans-serif' >600</text>
<text x="435.4" y="1710" font-size="29.5" text-anchor="middle" fill="#000" font-weight="normal" font-style="normal" font-family='"Liberation Sans", Arial, Helvetica, sans-serif' >800</text>
<text x="574.8" y="1710" font-size="29.5" text-anchor="middle" fill="#000" font-weight="normal" font-style="normal" font-family='"Liberation Sans", Arial, Helvetica, sans-serif' >1000</text>
<text x="725.4" y="1710" font-size="29.5" text-anchor="middle" fill="#000" font-weight="normal" font-style="normal" font-family='"Liberation Sans", Arial, Helvetica, sans-serif' >1200</text>
<text x="901.1" y="1710" font-size="29.5" text-anchor="middle" fill="#000" font-weight="normal" font-style="normal" font-family='"Liberation Sans", Arial, Helvetica, sans-serif' >1400</text>
<text x="1081.5" y="1710" font-size="29.5" text-anchor="middle" fill="#000" font-weight="normal" font-style="normal" font-family='"Liberation Sans", Arial, Helvetica, sans-serif' >1600</text>
<text x="1257.2" y="1710" font-size="29.5" text-anchor="middle" fill="#000" font-weight="normal" font-style="normal" font-family='"Liberation Sans", Arial, Helvetica, sans-serif' >1800</text>
<text x="720" y="1762" font-size="29.5" text-anchor="middle" fill="#000" font-weight="normal" font-style="normal" font-family='"Liberation Sans", Arial, Helvetica, sans-serif' >Raman shift (cm<tspan dy="-11" font-size="19">−1</tspan><tspan dy="11">)</tspan></text>
<text x="0" y="0" font-size="29.5" text-anchor="middle" fill="#000" font-weight="normal" font-style="normal" font-family='"Liberation Sans", Arial, Helvetica, sans-serif' transform="translate(39.6,1126.6) rotate(-90)">Normalised</text>
<text x="0" y="0" font-size="29.5" text-anchor="middle" fill="#000" font-weight="normal" font-style="normal" font-family='"Liberation Sans", Arial, Helvetica, sans-serif' transform="translate(74.9,1126.7) rotate(-90)">SERS intensity (a.u.)</text>
<text x="0" y="0" font-size="29.5" text-anchor="middle" fill="#000" font-weight="normal" font-style="normal" font-family='"Liberation Sans", Arial, Helvetica, sans-serif' transform="translate(39.6,1475.5) rotate(-90)">DFT calculated</text>
<text x="0" y="0" font-size="29.5" text-anchor="middle" fill="#000" font-weight="normal" font-style="normal" font-family='"Liberation Sans", Arial, Helvetica, sans-serif' transform="translate(74.9,1475.5) rotate(-90)">Raman intensity (a.u.)</text>
<text x="264.2" y="1032" fill="#4b822d" font-family='"Liberation Serif", "Times New Roman", serif' font-style="italic" font-weight="bold" font-size="32">ν<tspan font-family='"Liberation Sans", Arial, Helvetica, sans-serif' font-style="normal" font-size="22" dy="7.5">5</tspan></text>
<text x="348.8" y="1032" fill="#c8550f" font-family='"Liberation Serif", "Times New Roman", serif' font-style="italic" font-weight="bold" font-size="32">ν<tspan font-family='"Liberation Sans", Arial, Helvetica, sans-serif' font-style="normal" font-size="22" dy="7.5">6</tspan></text>
<text x="552.5" y="1032" fill="#c8550f" font-family='"Liberation Serif", "Times New Roman", serif' font-style="italic" font-weight="bold" font-size="32">ν<tspan font-family='"Liberation Sans", Arial, Helvetica, sans-serif' font-style="normal" font-size="22" dy="7.5">4</tspan></text>
<text x="638.8" y="1032" fill="#4b822d" font-family='"Liberation Serif", "Times New Roman", serif' font-style="italic" font-weight="bold" font-size="32">ν<tspan font-family='"Liberation Sans", Arial, Helvetica, sans-serif' font-style="normal" font-size="22" dy="7.5">3</tspan></text>
<text x="900" y="1032" fill="#c8550f" font-family='"Liberation Serif", "Times New Roman", serif' font-style="italic" font-weight="bold" font-size="32">ν<tspan font-family='"Liberation Sans", Arial, Helvetica, sans-serif' font-style="normal" font-size="22" dy="7.5">2</tspan></text>
<text x="1049.4" y="1032" fill="#4b822d" font-family='"Liberation Serif", "Times New Roman", serif' font-style="italic" font-weight="bold" font-size="32">ν<tspan font-family='"Liberation Sans", Arial, Helvetica, sans-serif' font-style="normal" font-size="22" dy="7.5">1</tspan></text>
<text x="1167" y="1117.5" font-size="29.5" font-family='"Liberation Sans", Arial, Helvetica, sans-serif'><tspan font-style="italic">d</tspan><tspan dx="2">(nm)</tspan></text>
<text x="1190.2" y="1174.7" font-size="29.5" text-anchor="middle" fill="#000" font-weight="normal" font-style="normal" font-family='"Liberation Sans", Arial, Helvetica, sans-serif' >18</text>
<text x="1194.6" y="1236.6" font-size="29.5" text-anchor="middle" fill="#ff7f0e" font-weight="normal" font-style="normal" font-family='"Liberation Sans", Arial, Helvetica, sans-serif' >2</text>
<text x="1226" y="1393" font-size="31" text-anchor="end" fill="#e07b39" font-family='"Liberation Sans", Arial, Helvetica, sans-serif'><tspan font-style="italic">c</tspan>-axis</text>
<text x="1227" y="1486.7" font-size="31" text-anchor="end" fill="#808080" font-family='"Liberation Sans", Arial, Helvetica, sans-serif'><tspan font-style="italic">b</tspan>-axis</text>
<text x="1225.2" y="1571" font-size="31" text-anchor="end" fill="#808080" font-family='"Liberation Sans", Arial, Helvetica, sans-serif'><tspan font-style="italic">a</tspan>-axis</text>
<text x="1235.5" y="1655.8" font-size="31" text-anchor="end" fill="#000" font-weight="normal" font-style="normal" font-family='"Liberation Sans", Arial, Helvetica, sans-serif' >Isotropic</text>
<text x="707" y="1636.6" font-size="29.5" text-anchor="end" fill="#000" font-weight="normal" font-style="normal" font-family='"Liberation Sans", Arial, Helvetica, sans-serif' >× 10</text>
<line x1="1258.3" y1="1405.8" x2="1303" y2="1290" stroke="#d2691e" stroke-width="3"/>
<polygon points="1311.4,1271.5 1293.3,1286.8 1312.4,1293.5" fill="#d2691e"/>
<line x1="1258.3" y1="1492.5" x2="1301" y2="1411" stroke="#808080" stroke-width="3"/>
<polygon points="1308.6,1397.8 1289.4,1411.2 1308.6,1420.7" fill="#808080"/>
<line x1="1258.3" y1="1579.6" x2="1300" y2="1583.5" stroke="#808080" stroke-width="3"/>
<polygon points="1316.2,1584.3 1295.2,1573.8 1296.1,1593.9" fill="#808080"/>
<text x="3.2" y="986" font-size="42" text-anchor="start" fill="#000" font-weight="bold" font-style="normal" font-family='"Liberation Sans", Arial, Helvetica, sans-serif' >f</text>
<text x="3.6" y="1300.5" font-size="42" text-anchor="start" fill="#000" font-weight="bold" font-style="normal" font-family='"Liberation Sans", Arial, Helvetica, sans-serif' >g</text>
<defs>
<radialGradient id="gC" cx="0.38" cy="0.35" r="0.7"><stop offset="0" stop-color="#8a8a8a"/><stop offset="0.45" stop-color="#555"/><stop offset="1" stop-color="#3a3a3a"/></radialGradient>
<radialGradient id="gO" cx="0.38" cy="0.35" r="0.7"><stop offset="0" stop-color="#ff5a5a"/><stop offset="0.45" stop-color="#e60000"/><stop offset="1" stop-color="#b00000"/></radialGradient>
<radialGradient id="gS" cx="0.38" cy="0.35" r="0.7"><stop offset="0" stop-color="#ffc04a"/><stop offset="0.45" stop-color="#f39c12"/><stop offset="1" stop-color="#c97a00"/></radialGradient>
<radialGradient id="gH" cx="0.38" cy="0.35" r="0.7"><stop offset="0" stop-color="#e6e6e6"/><stop offset="0.5" stop-color="#bdbdbd"/><stop offset="1" stop-color="#8e8e8e"/></radialGradient>
<radialGradient id="gAu" cx="0.5" cy="0.5" r="0.5" fx="0.38" fy="0.56"><stop offset="0" stop-color="#fdf77c"/><stop offset="0.3" stop-color="#f2eca6"/><stop offset="0.72" stop-color="#ebe6b0"/><stop offset="0.9" stop-color="#e3dc96"/><stop offset="1" stop-color="#cdbd4c"/></radialGradient>
<clipPath id="boxclip"><rect x="1312" y="1164.5" width="296" height="576.5"/></clipPath>
</defs>
<path d="M1321.4,1012.2L1335.2,1020.2 M1335.2,1020.2L1366.5,1019 M1366.5,1019L1374,1036.5 M1374,1036.5L1354,1044 M1354,1044L1332.7,1035.2 M1332.7,1035.2L1335.2,1020.2 M1332.7,1035.2L1303.9,1041.5 M1303.9,1041.5L1302.6,1064 M1302.6,1064L1326.4,1062.8 M1326.4,1062.8L1355.3,1061.6 M1355.3,1061.6L1354,1044 M1322.7,1041.5L1326.4,1062.8 M1277.6,1067.8L1302.6,1064 M1307.6,1082.9L1302.6,1064 M1325.2,1084.1L1326.4,1062.8 M1374,1036.5L1400.4,1042.8 M1400.4,1042.8L1415.4,1034 M1400.4,1042.8L1410.4,1062.8 M1410.4,1062.8L1440.5,1060.3 M1440.5,1060.3L1440.5,1047.8 M1440.5,1047.8L1415.4,1034 M1415.4,1034L1414.2,1021.5 M1414.2,1021.5L1431.7,1012.7 M1431.7,1012.7L1450.5,1031.5 M1450.5,1031.5L1456.8,1041.5 M1456.8,1041.5L1440.5,1047.8 M1429.2,1006.5L1431.7,1012.7 M1463,1024L1450.5,1031.5 M1440.5,1060.3L1461.8,1071.6 M1461.8,1071.6L1488.1,1067.8 M1488.1,1067.8L1505.6,1090.4 M1505.6,1090.4L1490.6,1097.9 M1490.6,1097.9L1463,1090.4 M1463,1090.4L1461.8,1071.6 M1463,1090.4L1444.2,1097.9 M1444.2,1097.9L1448,1126.7 M1448,1126.7L1483.1,1126.7 M1483.1,1126.7L1501.9,1121.7 M1501.9,1121.7L1490.6,1097.9 M1431.7,1131.7L1448,1126.7 M1448,1143L1448,1126.7 M1485.6,1106.7L1483.1,1126.7 M1488.1,1153L1483.1,1126.7 M1505.6,1090.4L1532,1090.4 M1532,1090.4L1557,1099.1 M1557,1099.1L1583.3,1090.4 M1583.3,1090.4L1573.3,1075.3 M1573.3,1075.3L1551,1078 M1551,1078L1532,1090.4 M1551,1078L1533.2,1074.1 M1533.2,1074.1L1548.2,1062.8 M1548.2,1062.8L1568.3,1065.3 M1568.3,1065.3L1585.8,1076.6 M1585.8,1076.6L1573.3,1075.3 M1552,1045.3L1548.2,1062.8 M1538.2,1062.8L1548.2,1062.8 M1580.8,1066.6L1568.3,1065.3 M1608.4,1092.9L1583.3,1090.4" stroke="#5a5a5a" stroke-width="3.8" fill="none"/>
<circle cx="1321.4" cy="1012.2" r="5.4" fill="url(#gH)"/>
<circle cx="1335.2" cy="1020.2" r="7.2" fill="url(#gC)"/>
<circle cx="1366.5" cy="1019" r="7.9" fill="url(#gS)"/>
<circle cx="1332.7" cy="1035.2" r="7.2" fill="url(#gC)"/>
<circle cx="1303.9" cy="1041.5" r="6.8" fill="url(#gO)"/>
<circle cx="1322.7" cy="1041.5" r="5.4" fill="url(#gH)"/>
<circle cx="1354" cy="1044" r="7.2" fill="url(#gC)"/>
<circle cx="1374" cy="1036.5" r="7.2" fill="url(#gC)"/>
<circle cx="1302.6" cy="1064" r="7.2" fill="url(#gC)"/>
<circle cx="1326.4" cy="1062.8" r="7.2" fill="url(#gC)"/>
<circle cx="1355.3" cy="1061.6" r="6.8" fill="url(#gO)"/>
<circle cx="1277.6" cy="1067.8" r="5.4" fill="url(#gH)"/>
<circle cx="1307.6" cy="1082.9" r="5.4" fill="url(#gH)"/>
<circle cx="1325.2" cy="1084.1" r="5.4" fill="url(#gH)"/>
<circle cx="1400.4" cy="1042.8" r="7.2" fill="url(#gC)"/>
<circle cx="1415.4" cy="1034" r="7.2" fill="url(#gC)"/>
<circle cx="1414.2" cy="1021.5" r="6.8" fill="url(#gO)"/>
<circle cx="1431.7" cy="1012.7" r="7.2" fill="url(#gC)"/>
<circle cx="1429.2" cy="1006.5" r="5.4" fill="url(#gH)"/>
<circle cx="1450.5" cy="1031.5" r="7.2" fill="url(#gC)"/>
<circle cx="1463" cy="1024" r="5.4" fill="url(#gH)"/>
<circle cx="1456.8" cy="1041.5" r="6.8" fill="url(#gO)"/>
<circle cx="1440.5" cy="1047.8" r="7.2" fill="url(#gC)"/>
<circle cx="1410.4" cy="1062.8" r="7.9" fill="url(#gS)"/>
<circle cx="1440.5" cy="1060.3" r="7.2" fill="url(#gC)"/>
<circle cx="1488.1" cy="1067.8" r="7.9" fill="url(#gS)"/>
<circle cx="1461.8" cy="1071.6" r="7.2" fill="url(#gC)"/>
<circle cx="1463" cy="1090.4" r="7.2" fill="url(#gC)"/>
<circle cx="1444.2" cy="1097.9" r="6.8" fill="url(#gO)"/>
<circle cx="1490.6" cy="1097.9" r="7.2" fill="url(#gC)"/>
<circle cx="1505.6" cy="1090.4" r="7.2" fill="url(#gC)"/>
<circle cx="1532" cy="1090.4" r="7.2" fill="url(#gC)"/>
<circle cx="1557" cy="1099.1" r="7.9" fill="url(#gS)"/>
<circle cx="1583.3" cy="1090.4" r="7.2" fill="url(#gC)"/>
<circle cx="1608.4" cy="1092.9" r="5.4" fill="url(#gH)"/>
<circle cx="1573.3" cy="1075.3" r="7.2" fill="url(#gC)"/>
<circle cx="1585.8" cy="1076.6" r="6.8" fill="url(#gO)"/>
<circle cx="1533.2" cy="1074.1" r="6.8" fill="url(#gO)"/>
<circle cx="1548.2" cy="1062.8" r="7.2" fill="url(#gC)"/>
<circle cx="1552" cy="1045.3" r="5.4" fill="url(#gH)"/>
<circle cx="1580.8" cy="1066.6" r="5.4" fill="url(#gH)"/>
<circle cx="1538.2" cy="1062.8" r="5.4" fill="url(#gH)"/>
<circle cx="1501.9" cy="1121.7" r="6.8" fill="url(#gO)"/>
<circle cx="1483.1" cy="1126.7" r="7.2" fill="url(#gC)"/>
<circle cx="1485.6" cy="1106.7" r="5.4" fill="url(#gH)"/>
<circle cx="1448" cy="1126.7" r="7.2" fill="url(#gC)"/>
<circle cx="1431.7" cy="1131.7" r="5.4" fill="url(#gH)"/>
<circle cx="1448" cy="1143" r="5.4" fill="url(#gH)"/>
<circle cx="1488.1" cy="1153" r="5.4" fill="url(#gH)"/>
<circle cx="1551" cy="1078" r="7.2" fill="url(#gC)"/>
<circle cx="1568.3" cy="1065.3" r="7.2" fill="url(#gC)"/>
<g stroke="#000" stroke-width="3.6" fill="none"><line x1="1435.5" y1="1060.3" x2="1436.4" y2="998"/><line x1="1435.5" y1="1060.3" x2="1383" y2="1090.5"/><line x1="1435.5" y1="1060.3" x2="1546" y2="1075.8"/></g>
<polygon points="1436.7,979.5 1426.2,1001 1447.2,1001" fill="#000"/>
<polygon points="1368.5,1099 1377.8,1079 1389.2,1097.5" fill="#000"/>
<polygon points="1566.5,1078.6 1545.2,1065.3 1542.3,1086.4" fill="#000"/>
<text x="1430" y="971" font-size="29" font-style="italic" font-family='"Liberation Sans", Arial, Helvetica, sans-serif'>c</text>
<text x="1341.5" y="1118" font-size="29" font-style="italic" font-family='"Liberation Sans", Arial, Helvetica, sans-serif'>b</text>
<text x="1554.5" y="1130.5" font-size="29" font-style="italic" font-family='"Liberation Sans", Arial, Helvetica, sans-serif'>a</text>
<g clip-path="url(#boxclip)">
<rect x="1312" y="1164.5" width="296" height="60" fill="#ebe7b0"/>
<rect x="1312" y="1684" width="296" height="57" fill="#ebe7b0"/>
<circle cx="1277.8" cy="1222.5" r="19.5" fill="url(#gAu)"/>
<circle cx="1318.4" cy="1222.5" r="19.5" fill="url(#gAu)"/>
<circle cx="1359" cy="1222.5" r="19.5" fill="url(#gAu)"/>
<circle cx="1399.6" cy="1222.5" r="19.5" fill="url(#gAu)"/>
<circle cx="1440.2" cy="1222.5" r="19.5" fill="url(#gAu)"/>
<circle cx="1480.8" cy="1222.5" r="19.5" fill="url(#gAu)"/>
<circle cx="1521.4" cy="1222.5" r="19.5" fill="url(#gAu)"/>
<circle cx="1562" cy="1222.5" r="19.5" fill="url(#gAu)"/>
<circle cx="1602.6" cy="1222.5" r="19.5" fill="url(#gAu)"/>
<circle cx="1643.2" cy="1222.5" r="19.5" fill="url(#gAu)"/>
<circle cx="1277.8" cy="1184.7" r="20.3" fill="url(#gAu)"/>
<circle cx="1318.4" cy="1184.7" r="20.3" fill="url(#gAu)"/>
<circle cx="1359" cy="1184.7" r="20.3" fill="url(#gAu)"/>
<circle cx="1399.6" cy="1184.7" r="20.3" fill="url(#gAu)"/>
<circle cx="1440.2" cy="1184.7" r="20.3" fill="url(#gAu)"/>
<circle cx="1480.8" cy="1184.7" r="20.3" fill="url(#gAu)"/>
<circle cx="1521.4" cy="1184.7" r="20.3" fill="url(#gAu)"/>
<circle cx="1562" cy="1184.7" r="20.3" fill="url(#gAu)"/>
<circle cx="1602.6" cy="1184.7" r="20.3" fill="url(#gAu)"/>
<circle cx="1643.2" cy="1184.7" r="20.3" fill="url(#gAu)"/>
<circle cx="1298.5" cy="1220.3" r="20.3" fill="url(#gAu)"/>
<circle cx="1339.1" cy="1220.3" r="20.3" fill="url(#gAu)"/>
<circle cx="1379.7" cy="1220.3" r="20.3" fill="url(#gAu)"/>
<circle cx="1420.3" cy="1220.3" r="20.3" fill="url(#gAu)"/>
<circle cx="1460.9" cy="1220.3" r="20.3" fill="url(#gAu)"/>
<circle cx="1501.5" cy="1220.3" r="20.3" fill="url(#gAu)"/>
<circle cx="1542.1" cy="1220.3" r="20.3" fill="url(#gAu)"/>
<circle cx="1582.7" cy="1220.3" r="20.3" fill="url(#gAu)"/>
<circle cx="1623.3" cy="1220.3" r="20.3" fill="url(#gAu)"/>
<circle cx="1298.9" cy="1683.3" r="20.3" fill="url(#gAu)"/>
<circle cx="1339.5" cy="1683.3" r="20.3" fill="url(#gAu)"/>
<circle cx="1380.1" cy="1683.3" r="20.3" fill="url(#gAu)"/>
<circle cx="1420.7" cy="1683.3" r="20.3" fill="url(#gAu)"/>
<circle cx="1461.3" cy="1683.3" r="20.3" fill="url(#gAu)"/>
<circle cx="1501.9" cy="1683.3" r="20.3" fill="url(#gAu)"/>
<circle cx="1542.5" cy="1683.3" r="20.3" fill="url(#gAu)"/>
<circle cx="1583.1" cy="1683.3" r="20.3" fill="url(#gAu)"/>
<circle cx="1623.7" cy="1683.3" r="20.3" fill="url(#gAu)"/>
<circle cx="1284" cy="1721" r="20.3" fill="url(#gAu)"/>
<circle cx="1324.6" cy="1721" r="20.3" fill="url(#gAu)"/>
<circle cx="1365.2" cy="1721" r="20.3" fill="url(#gAu)"/>
<circle cx="1405.8" cy="1721" r="20.3" fill="url(#gAu)"/>
<circle cx="1446.4" cy="1721" r="20.3" fill="url(#gAu)"/>
<circle cx="1487" cy="1721" r="20.3" fill="url(#gAu)"/>
<circle cx="1527.6" cy="1721" r="20.3" fill="url(#gAu)"/>
<circle cx="1568.2" cy="1721" r="20.3" fill="url(#gAu)"/>
<circle cx="1608.8" cy="1721" r="20.3" fill="url(#gAu)"/>
<circle cx="1649.4" cy="1721" r="20.3" fill="url(#gAu)"/>
</g>
<path d="M1381.9,1228.2L1383.7,1246.6 M1383.7,1246.6L1377.4,1251.1 M1383.7,1246.6L1365.8,1247.5 M1383.7,1246.6L1388.2,1255.6 M1383.7,1246.6L1401.7,1248.4 M1383.7,1246.6L1398.1,1252 M1377.4,1251.1L1365.8,1247.5 M1377.4,1251.1L1356.8,1251.1 M1377.4,1251.1L1360.4,1260.1 M1377.4,1251.1L1388.2,1255.6 M1377.4,1251.1L1398.1,1252 M1365.8,1247.5L1356.8,1251.1 M1365.8,1247.5L1360.4,1260.1 M1356.8,1251.1L1339.7,1256.5 M1356.8,1251.1L1360.4,1260.1 M1360.4,1260.1L1364,1279.9 M1388.2,1255.6L1401.7,1248.4 M1388.2,1255.6L1398.1,1252 M1388.2,1255.6L1406.2,1254.7 M1401.7,1248.4L1398.1,1252 M1401.7,1248.4L1406.2,1254.7 M1401.7,1248.4L1413.4,1251.1 M1398.1,1252L1406.2,1254.7 M1398.1,1252L1413.4,1251.1 M1406.2,1254.7L1413.4,1251.1 M1413.4,1251.1L1432.3,1252 M1413.4,1251.1L1435,1248.4 M1432.3,1252L1435,1248.4 M1432.3,1252L1445.8,1246.6 M1432.3,1252L1446.7,1254.7 M1435,1248.4L1445.8,1246.6 M1435,1248.4L1448.5,1234.9 M1435,1248.4L1446.7,1254.7 M1445.8,1246.6L1448.5,1234.9 M1445.8,1246.6L1446.7,1254.7 M1445.8,1246.6L1457.5,1253.8 M1445.8,1246.6L1464.7,1254.7 M1448.5,1234.9L1446.7,1254.7 M1448.5,1234.9L1457.5,1253.8 M1446.7,1254.7L1457.5,1253.8 M1446.7,1254.7L1464.7,1254.7 M1446.7,1254.7L1469.2,1252.9 M1446.7,1254.7L1456.6,1267.3 M1457.5,1253.8L1464.7,1254.7 M1457.5,1253.8L1469.2,1252.9 M1457.5,1253.8L1456.6,1267.3 M1464.7,1254.7L1469.2,1252.9 M1464.7,1254.7L1456.6,1267.3 M1464.7,1254.7L1481.8,1258.3 M1464.7,1254.7L1483.6,1254.7 M1469.2,1252.9L1456.6,1267.3 M1469.2,1252.9L1481.8,1258.3 M1469.2,1252.9L1483.6,1254.7 M1481.8,1258.3L1483.6,1254.7 M1481.8,1258.3L1498,1254.7 M1481.8,1258.3L1493.5,1257.4 M1481.8,1258.3L1489,1262.8 M1481.8,1258.3L1498,1268.2 M1483.6,1254.7L1498,1254.7 M1483.6,1254.7L1493.5,1257.4 M1483.6,1254.7L1489,1262.8 M1483.6,1254.7L1498,1268.2 M1498,1254.7L1493.5,1257.4 M1498,1254.7L1489,1262.8 M1498,1254.7L1498,1268.2 M1498,1254.7L1513.2,1259.2 M1498,1254.7L1521.3,1254.7 M1493.5,1257.4L1489,1262.8 M1493.5,1257.4L1498,1268.2 M1493.5,1257.4L1513.2,1259.2 M1489,1262.8L1498,1268.2 M1498,1268.2L1498.8,1286.2 M1498,1268.2L1513.2,1259.2 M1513.2,1259.2L1521.3,1254.7 M1513.2,1259.2L1525.8,1243.9 M1513.2,1259.2L1533,1252 M1513.2,1259.2L1529.4,1261 M1521.3,1254.7L1518.6,1234.9 M1521.3,1254.7L1525.8,1243.9 M1521.3,1254.7L1533,1252 M1521.3,1254.7L1529.4,1261 M1521.3,1254.7L1536.6,1261.9 M1525.8,1243.9L1533,1252 M1525.8,1243.9L1529.4,1261 M1533,1252L1529.4,1261 M1533,1252L1536.6,1261.9 M1533,1252L1543.8,1257.4 M1533,1252L1551.9,1242.1 M1529.4,1261L1536.6,1261.9 M1529.4,1261L1543.8,1257.4 M1529.4,1261L1548.3,1269.1 M1536.6,1261.9L1543.8,1257.4 M1543.8,1257.4L1548.3,1269.1 M1543.8,1257.4L1555.5,1249.3 M1543.8,1257.4L1551.9,1242.1 M1555.5,1249.3L1551.9,1242.1 M1555.5,1249.3L1562.7,1241.2 M1551.9,1242.1L1562.7,1241.2 M1562.7,1241.2L1577.1,1234.9" stroke="#5a5a5a" stroke-width="3.2" fill="none"/>
<circle cx="1381.9" cy="1228.2" r="4.4" fill="url(#gH)"/>
<circle cx="1383.7" cy="1246.6" r="6.3" fill="url(#gC)"/>
<circle cx="1377.4" cy="1251.1" r="6.3" fill="url(#gC)"/>
<circle cx="1365.8" cy="1247.5" r="4.4" fill="url(#gH)"/>
<circle cx="1356.8" cy="1251.1" r="5.8" fill="url(#gO)"/>
<circle cx="1339.7" cy="1256.5" r="4.4" fill="url(#gH)"/>
<circle cx="1360.4" cy="1260.1" r="6.3" fill="url(#gC)"/>
<circle cx="1364" cy="1279.9" r="4.4" fill="url(#gH)"/>
<circle cx="1388.2" cy="1255.6" r="4.4" fill="url(#gH)"/>
<circle cx="1401.7" cy="1248.4" r="7.2" fill="url(#gS)"/>
<circle cx="1398.1" cy="1252" r="6.3" fill="url(#gC)"/>
<circle cx="1406.2" cy="1254.7" r="5.8" fill="url(#gO)"/>
<circle cx="1413.4" cy="1251.1" r="6.3" fill="url(#gC)"/>
<circle cx="1432.3" cy="1252" r="6.3" fill="url(#gC)"/>
<circle cx="1435" cy="1248.4" r="5.8" fill="url(#gO)"/>
<circle cx="1445.8" cy="1246.6" r="6.3" fill="url(#gC)"/>
<circle cx="1448.5" cy="1234.9" r="4.4" fill="url(#gH)"/>
<circle cx="1446.7" cy="1254.7" r="7.2" fill="url(#gS)"/>
<circle cx="1457.5" cy="1253.8" r="6.3" fill="url(#gC)"/>
<circle cx="1464.7" cy="1254.7" r="6.3" fill="url(#gC)"/>
<circle cx="1469.2" cy="1252.9" r="5.8" fill="url(#gO)"/>
<circle cx="1456.6" cy="1267.3" r="4.4" fill="url(#gH)"/>
<circle cx="1481.8" cy="1258.3" r="5.8" fill="url(#gO)"/>
<circle cx="1483.6" cy="1254.7" r="6.3" fill="url(#gC)"/>
<circle cx="1498" cy="1254.7" r="7.2" fill="url(#gS)"/>
<circle cx="1493.5" cy="1257.4" r="6.3" fill="url(#gC)"/>
<circle cx="1489" cy="1262.8" r="4.4" fill="url(#gH)"/>
<circle cx="1498" cy="1268.2" r="6.3" fill="url(#gC)"/>
<circle cx="1498.8" cy="1286.2" r="4.4" fill="url(#gH)"/>
<circle cx="1513.2" cy="1259.2" r="6.3" fill="url(#gC)"/>
<circle cx="1521.3" cy="1254.7" r="6.3" fill="url(#gC)"/>
<circle cx="1518.6" cy="1234.9" r="4.4" fill="url(#gH)"/>
<circle cx="1525.8" cy="1243.9" r="4.4" fill="url(#gH)"/>
<circle cx="1533" cy="1252" r="6.3" fill="url(#gC)"/>
<circle cx="1529.4" cy="1261" r="5.8" fill="url(#gO)"/>
<circle cx="1536.6" cy="1261.9" r="4.4" fill="url(#gH)"/>
<circle cx="1543.8" cy="1257.4" r="6.3" fill="url(#gC)"/>
<circle cx="1548.3" cy="1269.1" r="4.4" fill="url(#gH)"/>
<circle cx="1555.5" cy="1249.3" r="5.8" fill="url(#gO)"/>
<circle cx="1551.9" cy="1242.1" r="7.2" fill="url(#gS)"/>
<circle cx="1562.7" cy="1241.2" r="6.3" fill="url(#gC)"/>
<circle cx="1577.1" cy="1234.9" r="4.4" fill="url(#gH)"/>
<path d="M1356.3,1301.3L1366.2,1315.2 M1392.9,1300.3L1386,1312.2 M1377,1308.3L1366.2,1315.2 M1377,1308.3L1386,1312.2 M1366.2,1315.2L1386,1312.2 M1366.2,1315.2L1373.1,1321.1 M1366.2,1315.2L1353.3,1331 M1386,1312.2L1373.1,1321.1 M1386,1312.2L1397.8,1331 M1353.3,1331L1365.2,1346.8 M1397.8,1331L1386,1346.8 M1365.2,1346.8L1386,1346.8 M1365.2,1346.8L1356.3,1366.6 M1386,1346.8L1394.8,1366.6 M1356.3,1366.6L1339.5,1371.6 M1356.3,1366.6L1377,1383.4 M1377,1383.4L1394.8,1366.6 M1394.8,1366.6L1414.6,1368.6 M1414.6,1368.6L1432.4,1350.8 M1414.6,1368.6L1423.5,1386.4 M1432.4,1350.8L1450.2,1366.6 M1450.2,1366.6L1444.3,1386.4 M1450.2,1366.6L1469,1362.7 M1423.5,1386.4L1444.3,1386.4 M1423.5,1386.4L1413.6,1404.2 M1444.3,1386.4L1454.2,1401.2 M1413.6,1404.2L1426.5,1419 M1454.2,1401.2L1442.3,1412.1 M1454.2,1401.2L1444.3,1416.1 M1442.3,1412.1L1426.5,1419 M1442.3,1412.1L1444.3,1416.1 M1426.5,1419L1444.3,1416.1 M1426.5,1419L1428.5,1423 M1426.5,1419L1417.6,1434.9 M1444.3,1416.1L1428.5,1423 M1444.3,1416.1L1453.2,1429.9 M1469,1362.7L1486.8,1378.5 M1469,1362.7L1475,1343.9 M1486.8,1378.5L1502.7,1361.7 M1502.7,1361.7L1495.7,1343.9 M1502.7,1361.7L1520.5,1364.6 M1475,1343.9L1495.7,1343.9 M1475,1343.9L1465.1,1329 M1495.7,1343.9L1503.7,1329 M1465.1,1329L1475,1315.2 M1503.7,1329L1493.7,1312.2 M1467.1,1302.3L1475,1315.2 M1499.7,1300.3L1493.7,1312.2 M1495.7,1308.3L1493.7,1312.2 M1475,1315.2L1493.7,1312.2 M1520.5,1364.6L1540.2,1346.8 M1520.5,1364.6L1529.4,1380.5 M1540.2,1346.8L1559,1362.7 M1559,1362.7L1574.9,1359.7 M1559,1362.7L1550.1,1380.5 M1529.4,1380.5L1550.1,1380.5 M1529.4,1380.5L1519.5,1395.3 M1550.1,1380.5L1562,1395.3 M1519.5,1395.3L1530.4,1412.1 M1562,1395.3L1545.2,1400.3 M1562,1395.3L1551.1,1407.2 M1545.2,1400.3L1530.4,1412.1 M1545.2,1400.3L1551.1,1407.2 M1530.4,1412.1L1551.1,1407.2 M1530.4,1412.1L1523.4,1420 M1530.4,1412.1L1535.3,1419 M1551.1,1407.2L1557.1,1420" stroke="#5a5a5a" stroke-width="3.2" fill="none"/>
<circle cx="1356.3" cy="1301.3" r="4.4" fill="url(#gH)"/>
<circle cx="1392.9" cy="1300.3" r="4.4" fill="url(#gH)"/>
<circle cx="1377" cy="1308.3" r="4.4" fill="url(#gH)"/>
<circle cx="1366.2" cy="1315.2" r="6.3" fill="url(#gC)"/>
<circle cx="1386" cy="1312.2" r="6.3" fill="url(#gC)"/>
<circle cx="1373.1" cy="1321.1" r="4.4" fill="url(#gH)"/>
<circle cx="1353.3" cy="1331" r="5.8" fill="url(#gO)"/>
<circle cx="1397.8" cy="1331" r="5.8" fill="url(#gO)"/>
<circle cx="1365.2" cy="1346.8" r="6.3" fill="url(#gC)"/>
<circle cx="1386" cy="1346.8" r="6.3" fill="url(#gC)"/>
<circle cx="1356.3" cy="1366.6" r="6.3" fill="url(#gC)"/>
<circle cx="1339.5" cy="1371.6" r="4.4" fill="url(#gH)"/>
<circle cx="1377" cy="1383.4" r="7.2" fill="url(#gS)"/>
<circle cx="1394.8" cy="1366.6" r="6.3" fill="url(#gC)"/>
<circle cx="1414.6" cy="1368.6" r="6.3" fill="url(#gC)"/>
<circle cx="1432.4" cy="1350.8" r="7.2" fill="url(#gS)"/>
<circle cx="1450.2" cy="1366.6" r="6.3" fill="url(#gC)"/>
<circle cx="1423.5" cy="1386.4" r="6.3" fill="url(#gC)"/>
<circle cx="1444.3" cy="1386.4" r="6.3" fill="url(#gC)"/>
<circle cx="1413.6" cy="1404.2" r="5.8" fill="url(#gO)"/>
<circle cx="1454.2" cy="1401.2" r="5.8" fill="url(#gO)"/>
<circle cx="1442.3" cy="1412.1" r="4.4" fill="url(#gH)"/>
<circle cx="1426.5" cy="1419" r="6.3" fill="url(#gC)"/>
<circle cx="1444.3" cy="1416.1" r="6.3" fill="url(#gC)"/>
<circle cx="1428.5" cy="1423" r="4.4" fill="url(#gH)"/>
<circle cx="1417.6" cy="1434.9" r="4.4" fill="url(#gH)"/>
<circle cx="1453.2" cy="1429.9" r="4.4" fill="url(#gH)"/>
<circle cx="1469" cy="1362.7" r="6.3" fill="url(#gC)"/>
<circle cx="1486.8" cy="1378.5" r="7.2" fill="url(#gS)"/>
<circle cx="1502.7" cy="1361.7" r="6.3" fill="url(#gC)"/>
<circle cx="1475" cy="1343.9" r="6.3" fill="url(#gC)"/>
<circle cx="1495.7" cy="1343.9" r="6.3" fill="url(#gC)"/>
<circle cx="1465.1" cy="1329" r="5.8" fill="url(#gO)"/>
<circle cx="1503.7" cy="1329" r="5.8" fill="url(#gO)"/>
<circle cx="1467.1" cy="1302.3" r="4.4" fill="url(#gH)"/>
<circle cx="1499.7" cy="1300.3" r="4.4" fill="url(#gH)"/>
<circle cx="1495.7" cy="1308.3" r="4.4" fill="url(#gH)"/>
<circle cx="1475" cy="1315.2" r="6.3" fill="url(#gC)"/>
<circle cx="1493.7" cy="1312.2" r="6.3" fill="url(#gC)"/>
<circle cx="1520.5" cy="1364.6" r="6.3" fill="url(#gC)"/>
<circle cx="1540.2" cy="1346.8" r="7.2" fill="url(#gS)"/>
<circle cx="1559" cy="1362.7" r="6.3" fill="url(#gC)"/>
<circle cx="1574.9" cy="1359.7" r="4.4" fill="url(#gH)"/>
<circle cx="1529.4" cy="1380.5" r="6.3" fill="url(#gC)"/>
<circle cx="1550.1" cy="1380.5" r="6.3" fill="url(#gC)"/>
<circle cx="1519.5" cy="1395.3" r="5.8" fill="url(#gO)"/>
<circle cx="1562" cy="1395.3" r="5.8" fill="url(#gO)"/>
<circle cx="1545.2" cy="1400.3" r="4.4" fill="url(#gH)"/>
<circle cx="1530.4" cy="1412.1" r="6.3" fill="url(#gC)"/>
<circle cx="1551.1" cy="1407.2" r="6.3" fill="url(#gC)"/>
<circle cx="1523.4" cy="1420" r="4.4" fill="url(#gH)"/>
<circle cx="1535.3" cy="1419" r="4.4" fill="url(#gH)"/>
<circle cx="1557.1" cy="1420" r="4.4" fill="url(#gH)"/>
<path d="M1476,1434.9L1471,1451.8 M1406.7,1451.2L1420.6,1462.2 M1436.4,1448.3L1420.6,1462.2 M1436.4,1448.3L1452.2,1459.7 M1424.5,1469.7L1420.6,1462.2 M1424.5,1469.7L1416.6,1480.6 M1412.6,1471.7L1420.6,1462.2 M1412.6,1471.7L1416.6,1480.6 M1420.6,1462.2L1416.6,1480.6 M1452.2,1459.7L1471,1451.8 M1452.2,1459.7L1451.2,1482.5 M1471,1451.8L1488.8,1472.6 M1488.8,1472.6L1470,1491.4 M1404.7,1488.5L1416.6,1480.6 M1416.6,1480.6L1435.4,1492.4 M1435.4,1492.4L1451.2,1482.5 M1451.2,1482.5L1470,1491.4 M1470,1491.4L1473,1510.2 M1473,1510.2L1456.2,1529 M1473,1510.2L1490.8,1519.1 M1456.2,1529L1471,1546.8 M1508.6,1508.2L1526.4,1520.1 M1508.6,1508.2L1490.8,1519.1 M1539.3,1514.2L1526.4,1520.1 M1529.4,1525.1L1526.4,1520.1 M1529.4,1525.1L1522.4,1540.9 M1526.4,1520.1L1522.4,1540.9 M1490.8,1519.1L1489.8,1538.9 M1489.8,1538.9L1471,1546.8 M1489.8,1538.9L1505.6,1550.8 M1471,1546.8L1467.1,1564.6 M1505.6,1550.8L1517.5,1536.9 M1505.6,1550.8L1522.4,1540.9 M1517.5,1536.9L1522.4,1540.9 M1522.4,1540.9L1535.3,1548.8 M1467.1,1564.6L1450.2,1570.6 M1467.1,1564.6L1482.9,1582.4 M1434.4,1559.7L1419.6,1568.6 M1434.4,1559.7L1450.2,1570.6 M1406.7,1561.7L1419.6,1568.6 M1419.6,1568.6L1419.6,1588.4 M1450.2,1570.6L1448.3,1590.3 M1482.9,1582.4L1466.1,1598.3 M1413.6,1591.3L1419.6,1588.4 M1404.7,1596.3L1419.6,1588.4 M1419.6,1588.4L1433.4,1600.2 M1448.3,1590.3L1433.4,1600.2 M1448.3,1590.3L1466.1,1598.3 M1466.1,1598.3L1469,1616.1 M1469,1616.1L1485.8,1626 M1469,1616.1L1451.2,1634.9 M1499.7,1614.1L1485.8,1626 M1499.7,1614.1L1514.5,1625 M1485.8,1626L1484.9,1645.7 M1524.4,1619L1514.5,1625 M1523.4,1630.9L1514.5,1625 M1523.4,1630.9L1512.6,1642.8 M1514.5,1625L1504.6,1639.8 M1514.5,1625L1512.6,1642.8 M1451.2,1634.9L1468,1654.6 M1504.6,1639.8L1512.6,1642.8 M1504.6,1639.8L1498.7,1657.6 M1484.9,1645.7L1498.7,1657.6 M1484.9,1645.7L1468,1654.6 M1512.6,1642.8L1498.7,1657.6 M1512.6,1642.8L1523.4,1652.7 M1468,1654.6L1464.1,1671.4" stroke="#5a5a5a" stroke-width="3.2" fill="none"/>
<circle cx="1476" cy="1434.9" r="4.4" fill="url(#gH)"/>
<circle cx="1406.7" cy="1451.2" r="4.4" fill="url(#gH)"/>
<circle cx="1436.4" cy="1448.3" r="5.8" fill="url(#gO)"/>
<circle cx="1424.5" cy="1469.7" r="4.4" fill="url(#gH)"/>
<circle cx="1412.6" cy="1471.7" r="4.4" fill="url(#gH)"/>
<circle cx="1420.6" cy="1462.2" r="6.3" fill="url(#gC)"/>
<circle cx="1452.2" cy="1459.7" r="6.3" fill="url(#gC)"/>
<circle cx="1471" cy="1451.8" r="6.3" fill="url(#gC)"/>
<circle cx="1488.8" cy="1472.6" r="7.2" fill="url(#gS)"/>
<circle cx="1404.7" cy="1488.5" r="4.4" fill="url(#gH)"/>
<circle cx="1416.6" cy="1480.6" r="6.3" fill="url(#gC)"/>
<circle cx="1435.4" cy="1492.4" r="5.8" fill="url(#gO)"/>
<circle cx="1451.2" cy="1482.5" r="6.3" fill="url(#gC)"/>
<circle cx="1470" cy="1491.4" r="6.3" fill="url(#gC)"/>
<circle cx="1473" cy="1510.2" r="6.3" fill="url(#gC)"/>
<circle cx="1456.2" cy="1529" r="7.2" fill="url(#gS)"/>
<circle cx="1508.6" cy="1508.2" r="5.8" fill="url(#gO)"/>
<circle cx="1539.3" cy="1514.2" r="4.4" fill="url(#gH)"/>
<circle cx="1529.4" cy="1525.1" r="4.4" fill="url(#gH)"/>
<circle cx="1526.4" cy="1520.1" r="6.3" fill="url(#gC)"/>
<circle cx="1490.8" cy="1519.1" r="6.3" fill="url(#gC)"/>
<circle cx="1489.8" cy="1538.9" r="6.3" fill="url(#gC)"/>
<circle cx="1471" cy="1546.8" r="6.3" fill="url(#gC)"/>
<circle cx="1505.6" cy="1550.8" r="5.8" fill="url(#gO)"/>
<circle cx="1517.5" cy="1536.9" r="4.4" fill="url(#gH)"/>
<circle cx="1522.4" cy="1540.9" r="6.3" fill="url(#gC)"/>
<circle cx="1535.3" cy="1548.8" r="4.4" fill="url(#gH)"/>
<circle cx="1467.1" cy="1564.6" r="6.3" fill="url(#gC)"/>
<circle cx="1434.4" cy="1559.7" r="5.8" fill="url(#gO)"/>
<circle cx="1406.7" cy="1561.7" r="4.4" fill="url(#gH)"/>
<circle cx="1419.6" cy="1568.6" r="6.3" fill="url(#gC)"/>
<circle cx="1450.2" cy="1570.6" r="6.3" fill="url(#gC)"/>
<circle cx="1482.9" cy="1582.4" r="7.2" fill="url(#gS)"/>
<circle cx="1413.6" cy="1591.3" r="4.4" fill="url(#gH)"/>
<circle cx="1404.7" cy="1596.3" r="4.4" fill="url(#gH)"/>
<circle cx="1419.6" cy="1588.4" r="6.3" fill="url(#gC)"/>
<circle cx="1448.3" cy="1590.3" r="6.3" fill="url(#gC)"/>
<circle cx="1433.4" cy="1600.2" r="5.8" fill="url(#gO)"/>
<circle cx="1466.1" cy="1598.3" r="6.3" fill="url(#gC)"/>
<circle cx="1469" cy="1616.1" r="6.3" fill="url(#gC)"/>
<circle cx="1499.7" cy="1614.1" r="5.8" fill="url(#gO)"/>
<circle cx="1485.8" cy="1626" r="6.3" fill="url(#gC)"/>
<circle cx="1524.4" cy="1619" r="4.4" fill="url(#gH)"/>
<circle cx="1523.4" cy="1630.9" r="4.4" fill="url(#gH)"/>
<circle cx="1514.5" cy="1625" r="6.3" fill="url(#gC)"/>
<circle cx="1451.2" cy="1634.9" r="7.2" fill="url(#gS)"/>
<circle cx="1504.6" cy="1639.8" r="4.4" fill="url(#gH)"/>
<circle cx="1484.9" cy="1645.7" r="6.3" fill="url(#gC)"/>
<circle cx="1512.6" cy="1642.8" r="6.3" fill="url(#gC)"/>
<circle cx="1498.7" cy="1657.6" r="5.8" fill="url(#gO)"/>
<circle cx="1523.4" cy="1652.7" r="4.4" fill="url(#gH)"/>
<circle cx="1468" cy="1654.6" r="6.3" fill="url(#gC)"/>
<circle cx="1464.1" cy="1671.4" r="4.4" fill="url(#gH)"/>
<line x1="1566" y1="1636" x2="1566" y2="1568" stroke="#000" stroke-width="3.4"/>
<polygon points="1566,1550.8 1555.6,1571 1576.4,1571" fill="#000"/>
<text x="1571" y="1621" font-size="30" font-style="italic" font-family='"Liberation Sans", Arial, Helvetica, sans-serif'>E<tspan font-size="21" dy="7">z</tspan></text>
<rect x="1310.8" y="1163" width="298.9" height="579.3" stroke="#000" stroke-width="3.4" fill="none" />
</svg>
</body></html>
